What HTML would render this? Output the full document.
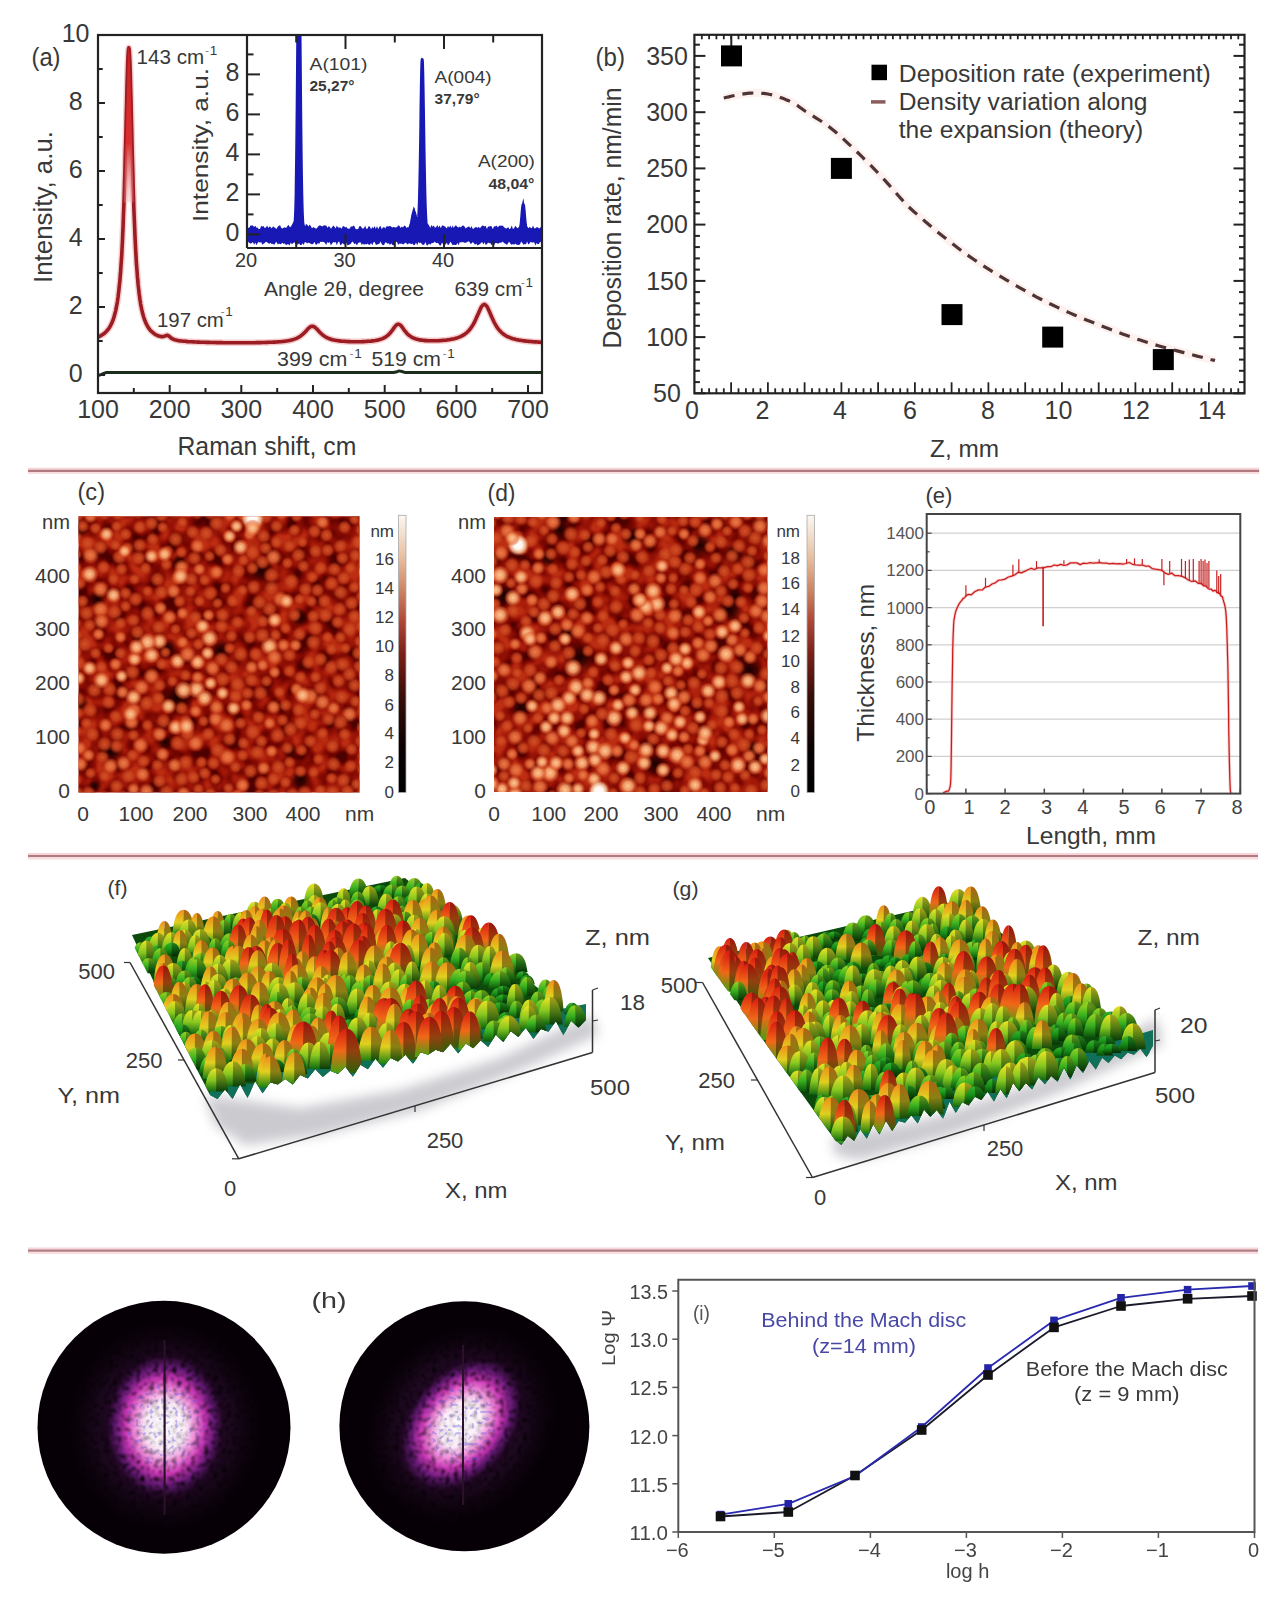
<!DOCTYPE html>
<html><head><meta charset="utf-8"><style>
html,body{margin:0;padding:0;background:#fff;width:1281px;height:1604px;overflow:hidden}
svg{display:block;font-family:"Liberation Sans",sans-serif}

</style></head><body>
<svg width="1281" height="1604" viewBox="0 0 1281 1604">
<rect width="1281" height="1604" fill="#fff"/>
<clipPath id="clipA"><rect x="98" y="35" width="444" height="358"/></clipPath>
<clipPath id="clipI"><rect x="247" y="36" width="295" height="212"/></clipPath>
<g clip-path="url(#clipA)">
<path d="M98.0,337.0 L99.4,336.4 L100.9,335.6 L102.3,334.8 L103.7,333.8 L105.2,332.6 L106.6,331.2 L108.0,329.5 L108.4,329.0 L108.8,328.5 L109.1,328.0 L109.5,327.4 L109.8,326.8 L110.2,326.2 L110.5,325.6 L110.9,324.9 L111.3,324.2 L111.6,323.4 L112.0,322.6 L112.3,321.7 L112.7,320.8 L113.1,319.9 L113.4,318.8 L113.8,317.7 L114.1,316.6 L114.5,315.3 L114.8,314.0 L115.2,312.6 L115.6,311.1 L115.9,309.5 L116.3,307.7 L116.6,305.9 L117.0,303.9 L117.4,301.7 L117.7,299.4 L118.1,296.8 L118.4,294.1 L118.8,291.1 L119.1,287.9 L119.5,284.4 L119.9,280.6 L120.2,276.5 L120.6,272.0 L120.9,267.0 L121.3,261.6 L121.7,255.7 L122.0,249.3 L122.4,242.2 L122.7,234.4 L123.1,226.0 L123.4,216.7 L123.8,206.6 L124.2,195.7 L124.5,183.9 L124.9,171.2 L125.2,157.8 L125.6,143.6 L126.0,129.0 L126.3,114.3 L126.7,99.7 L127.0,85.9 L127.4,73.4 L127.7,62.7 L128.1,54.6 L128.5,49.5 L128.8,47.8 L129.2,49.5 L129.5,54.6 L129.9,62.7 L130.3,73.4 L130.6,85.9 L131.0,99.7 L131.3,114.3 L131.7,129.0 L132.0,143.6 L132.4,157.7 L132.8,171.2 L133.1,183.9 L133.5,195.7 L133.8,206.6 L134.2,216.7 L134.6,225.9 L134.9,234.4 L135.3,242.2 L135.6,249.2 L136.0,255.7 L136.3,261.6 L136.7,267.0 L137.1,271.9 L137.4,276.4 L137.8,280.6 L138.1,284.4 L138.5,287.9 L138.9,291.1 L139.2,294.0 L139.6,296.8 L139.9,299.3 L140.3,301.6 L140.6,303.8 L141.0,305.8 L141.4,307.7 L141.7,309.4 L142.1,311.0 L142.4,312.5 L142.8,313.9 L143.2,315.3 L143.5,316.5 L143.9,317.6 L144.2,318.7 L144.6,319.8 L144.9,320.7 L145.3,321.6 L145.7,322.5 L146.0,323.3 L146.4,324.0 L146.7,324.7 L147.1,325.4 L147.5,326.1 L147.8,326.7 L148.2,327.3 L148.5,327.8 L148.9,328.3 L149.2,328.8 L149.6,329.3 L150.0,329.7 L150.3,330.2 L151.8,331.7 L153.2,332.9 L154.6,334.0 L156.1,334.8 L157.5,335.5 L158.9,336.1 L160.4,336.4 L161.8,336.6 L163.2,336.6 L164.7,336.2 L166.1,335.5 L167.5,335.3 L169.0,336.1 L170.4,337.4 L171.8,338.5 L173.3,339.2 L174.7,339.7 L176.1,340.1 L177.6,340.4 L179.0,340.7 L180.4,340.9 L181.9,341.0 L183.3,341.2 L184.7,341.3 L186.2,341.4 L187.6,341.6 L189.0,341.7 L190.5,341.7 L191.9,341.8 L193.3,341.9 L194.8,342.0 L196.2,342.0 L197.6,342.1 L199.1,342.1 L200.5,342.2 L201.9,342.2 L203.4,342.3 L204.8,342.3 L206.2,342.4 L207.7,342.4 L209.1,342.4 L210.5,342.5 L212.0,342.5 L213.4,342.5 L214.8,342.5 L216.3,342.6 L217.7,342.6 L219.1,342.6 L220.6,342.6 L222.0,342.6 L223.4,342.7 L224.9,342.7 L226.3,342.7 L227.7,342.7 L229.2,342.7 L230.6,342.7 L232.0,342.7 L233.5,342.7 L234.9,342.7 L236.3,342.7 L237.8,342.7 L239.2,342.7 L240.6,342.7 L242.1,342.7 L243.5,342.7 L244.9,342.7 L246.4,342.7 L247.8,342.7 L249.2,342.7 L250.7,342.7 L252.1,342.7 L253.5,342.7 L255.0,342.7 L256.4,342.6 L257.8,342.6 L259.3,342.6 L260.7,342.6 L262.1,342.5 L263.6,342.5 L265.0,342.5 L266.4,342.4 L267.9,342.4 L269.3,342.3 L270.7,342.3 L272.2,342.2 L273.6,342.1 L275.0,342.1 L276.5,342.0 L277.9,341.9 L279.3,341.8 L280.8,341.7 L282.2,341.5 L283.6,341.4 L285.1,341.2 L286.5,341.0 L287.9,340.8 L289.4,340.5 L290.8,340.2 L292.2,339.8 L293.7,339.4 L295.1,338.9 L296.5,338.3 L298.0,337.6 L299.4,336.8 L300.8,335.9 L302.3,334.7 L303.7,333.4 L305.1,332.0 L306.6,330.4 L308.0,328.8 L309.4,327.5 L310.9,326.5 L312.3,326.2 L313.7,326.5 L315.2,327.5 L316.6,328.8 L318.0,330.3 L319.5,331.9 L320.9,333.3 L322.3,334.6 L323.8,335.8 L325.2,336.7 L326.6,337.5 L328.1,338.2 L329.5,338.8 L330.9,339.2 L332.4,339.7 L333.8,340.0 L335.2,340.3 L336.7,340.5 L338.1,340.8 L339.5,340.9 L341.0,341.1 L342.4,341.2 L343.8,341.3 L345.3,341.4 L346.7,341.5 L348.1,341.6 L349.6,341.6 L351.0,341.7 L352.4,341.7 L353.9,341.7 L355.3,341.7 L356.7,341.7 L358.2,341.7 L359.6,341.7 L361.0,341.7 L362.5,341.6 L363.9,341.6 L365.3,341.5 L366.8,341.4 L368.2,341.3 L369.6,341.2 L371.1,341.1 L372.5,340.9 L373.9,340.7 L375.4,340.5 L376.8,340.2 L378.2,339.9 L379.7,339.6 L381.1,339.1 L382.5,338.6 L384.0,337.9 L385.4,337.1 L386.8,336.1 L388.3,334.9 L389.7,333.5 L391.1,331.8 L392.6,329.9 L394.0,327.9 L395.4,326.0 L396.9,324.6 L398.3,324.1 L399.7,324.6 L401.2,325.9 L402.6,327.8 L404.0,329.8 L405.5,331.7 L406.9,333.4 L408.3,334.8 L409.8,335.9 L411.2,336.9 L412.6,337.7 L414.1,338.3 L415.5,338.8 L416.9,339.2 L418.4,339.6 L419.8,339.9 L421.2,340.1 L422.7,340.3 L424.1,340.4 L425.5,340.6 L427.0,340.6 L428.4,340.7 L429.8,340.8 L431.3,340.8 L432.7,340.8 L434.1,340.8 L435.6,340.8 L437.0,340.7 L438.4,340.7 L439.9,340.6 L441.3,340.5 L442.7,340.4 L444.2,340.3 L445.6,340.2 L447.0,340.0 L448.5,339.8 L449.9,339.6 L451.3,339.3 L452.8,339.0 L454.2,338.7 L455.6,338.3 L457.1,337.9 L458.5,337.4 L459.9,336.9 L461.4,336.2 L462.8,335.4 L464.2,334.6 L465.7,333.5 L467.1,332.3 L468.5,330.9 L470.0,329.3 L471.4,327.3 L472.8,325.1 L474.3,322.5 L475.7,319.5 L477.1,316.3 L478.6,313.0 L480.0,309.7 L481.4,306.9 L482.9,305.0 L484.3,304.3 L485.7,305.0 L487.2,306.9 L488.6,309.7 L490.0,313.0 L491.5,316.4 L492.9,319.6 L494.3,322.6 L495.8,325.2 L497.2,327.5 L498.6,329.4 L500.1,331.1 L501.5,332.5 L502.9,333.7 L504.4,334.8 L505.8,335.7 L507.2,336.5 L508.7,337.1 L510.1,337.7 L511.5,338.3 L513.0,338.7 L514.4,339.1 L515.8,339.5 L517.3,339.8 L518.7,340.1 L520.1,340.3 L521.6,340.5 L523.0,340.8 L524.4,340.9 L525.9,341.1 L527.3,341.3 L528.7,341.4 L530.2,341.5 L531.6,341.6 L533.0,341.8 L534.5,341.9 L535.9,341.9 L537.3,342.0 L538.8,342.1 L540.2,342.2 L541.6,342.3" stroke="#f2b8b8" stroke-width="6.5" fill="none" stroke-linejoin="round" opacity="0.7"/>
<path d="M98.0,337.0 L99.4,336.4 L100.9,335.6 L102.3,334.8 L103.7,333.8 L105.2,332.6 L106.6,331.2 L108.0,329.5 L108.4,329.0 L108.8,328.5 L109.1,328.0 L109.5,327.4 L109.8,326.8 L110.2,326.2 L110.5,325.6 L110.9,324.9 L111.3,324.2 L111.6,323.4 L112.0,322.6 L112.3,321.7 L112.7,320.8 L113.1,319.9 L113.4,318.8 L113.8,317.7 L114.1,316.6 L114.5,315.3 L114.8,314.0 L115.2,312.6 L115.6,311.1 L115.9,309.5 L116.3,307.7 L116.6,305.9 L117.0,303.9 L117.4,301.7 L117.7,299.4 L118.1,296.8 L118.4,294.1 L118.8,291.1 L119.1,287.9 L119.5,284.4 L119.9,280.6 L120.2,276.5 L120.6,272.0 L120.9,267.0 L121.3,261.6 L121.7,255.7 L122.0,249.3 L122.4,242.2 L122.7,234.4 L123.1,226.0 L123.4,216.7 L123.8,206.6 L124.2,195.7 L124.5,183.9 L124.9,171.2 L125.2,157.8 L125.6,143.6 L126.0,129.0 L126.3,114.3 L126.7,99.7 L127.0,85.9 L127.4,73.4 L127.7,62.7 L128.1,54.6 L128.5,49.5 L128.8,47.8 L129.2,49.5 L129.5,54.6 L129.9,62.7 L130.3,73.4 L130.6,85.9 L131.0,99.7 L131.3,114.3 L131.7,129.0 L132.0,143.6 L132.4,157.7 L132.8,171.2 L133.1,183.9 L133.5,195.7 L133.8,206.6 L134.2,216.7 L134.6,225.9 L134.9,234.4 L135.3,242.2 L135.6,249.2 L136.0,255.7 L136.3,261.6 L136.7,267.0 L137.1,271.9 L137.4,276.4 L137.8,280.6 L138.1,284.4 L138.5,287.9 L138.9,291.1 L139.2,294.0 L139.6,296.8 L139.9,299.3 L140.3,301.6 L140.6,303.8 L141.0,305.8 L141.4,307.7 L141.7,309.4 L142.1,311.0 L142.4,312.5 L142.8,313.9 L143.2,315.3 L143.5,316.5 L143.9,317.6 L144.2,318.7 L144.6,319.8 L144.9,320.7 L145.3,321.6 L145.7,322.5 L146.0,323.3 L146.4,324.0 L146.7,324.7 L147.1,325.4 L147.5,326.1 L147.8,326.7 L148.2,327.3 L148.5,327.8 L148.9,328.3 L149.2,328.8 L149.6,329.3 L150.0,329.7 L150.3,330.2 L151.8,331.7 L153.2,332.9 L154.6,334.0 L156.1,334.8 L157.5,335.5 L158.9,336.1 L160.4,336.4 L161.8,336.6 L163.2,336.6 L164.7,336.2 L166.1,335.5 L167.5,335.3 L169.0,336.1 L170.4,337.4 L171.8,338.5 L173.3,339.2 L174.7,339.7 L176.1,340.1 L177.6,340.4 L179.0,340.7 L180.4,340.9 L181.9,341.0 L183.3,341.2 L184.7,341.3 L186.2,341.4 L187.6,341.6 L189.0,341.7 L190.5,341.7 L191.9,341.8 L193.3,341.9 L194.8,342.0 L196.2,342.0 L197.6,342.1 L199.1,342.1 L200.5,342.2 L201.9,342.2 L203.4,342.3 L204.8,342.3 L206.2,342.4 L207.7,342.4 L209.1,342.4 L210.5,342.5 L212.0,342.5 L213.4,342.5 L214.8,342.5 L216.3,342.6 L217.7,342.6 L219.1,342.6 L220.6,342.6 L222.0,342.6 L223.4,342.7 L224.9,342.7 L226.3,342.7 L227.7,342.7 L229.2,342.7 L230.6,342.7 L232.0,342.7 L233.5,342.7 L234.9,342.7 L236.3,342.7 L237.8,342.7 L239.2,342.7 L240.6,342.7 L242.1,342.7 L243.5,342.7 L244.9,342.7 L246.4,342.7 L247.8,342.7 L249.2,342.7 L250.7,342.7 L252.1,342.7 L253.5,342.7 L255.0,342.7 L256.4,342.6 L257.8,342.6 L259.3,342.6 L260.7,342.6 L262.1,342.5 L263.6,342.5 L265.0,342.5 L266.4,342.4 L267.9,342.4 L269.3,342.3 L270.7,342.3 L272.2,342.2 L273.6,342.1 L275.0,342.1 L276.5,342.0 L277.9,341.9 L279.3,341.8 L280.8,341.7 L282.2,341.5 L283.6,341.4 L285.1,341.2 L286.5,341.0 L287.9,340.8 L289.4,340.5 L290.8,340.2 L292.2,339.8 L293.7,339.4 L295.1,338.9 L296.5,338.3 L298.0,337.6 L299.4,336.8 L300.8,335.9 L302.3,334.7 L303.7,333.4 L305.1,332.0 L306.6,330.4 L308.0,328.8 L309.4,327.5 L310.9,326.5 L312.3,326.2 L313.7,326.5 L315.2,327.5 L316.6,328.8 L318.0,330.3 L319.5,331.9 L320.9,333.3 L322.3,334.6 L323.8,335.8 L325.2,336.7 L326.6,337.5 L328.1,338.2 L329.5,338.8 L330.9,339.2 L332.4,339.7 L333.8,340.0 L335.2,340.3 L336.7,340.5 L338.1,340.8 L339.5,340.9 L341.0,341.1 L342.4,341.2 L343.8,341.3 L345.3,341.4 L346.7,341.5 L348.1,341.6 L349.6,341.6 L351.0,341.7 L352.4,341.7 L353.9,341.7 L355.3,341.7 L356.7,341.7 L358.2,341.7 L359.6,341.7 L361.0,341.7 L362.5,341.6 L363.9,341.6 L365.3,341.5 L366.8,341.4 L368.2,341.3 L369.6,341.2 L371.1,341.1 L372.5,340.9 L373.9,340.7 L375.4,340.5 L376.8,340.2 L378.2,339.9 L379.7,339.6 L381.1,339.1 L382.5,338.6 L384.0,337.9 L385.4,337.1 L386.8,336.1 L388.3,334.9 L389.7,333.5 L391.1,331.8 L392.6,329.9 L394.0,327.9 L395.4,326.0 L396.9,324.6 L398.3,324.1 L399.7,324.6 L401.2,325.9 L402.6,327.8 L404.0,329.8 L405.5,331.7 L406.9,333.4 L408.3,334.8 L409.8,335.9 L411.2,336.9 L412.6,337.7 L414.1,338.3 L415.5,338.8 L416.9,339.2 L418.4,339.6 L419.8,339.9 L421.2,340.1 L422.7,340.3 L424.1,340.4 L425.5,340.6 L427.0,340.6 L428.4,340.7 L429.8,340.8 L431.3,340.8 L432.7,340.8 L434.1,340.8 L435.6,340.8 L437.0,340.7 L438.4,340.7 L439.9,340.6 L441.3,340.5 L442.7,340.4 L444.2,340.3 L445.6,340.2 L447.0,340.0 L448.5,339.8 L449.9,339.6 L451.3,339.3 L452.8,339.0 L454.2,338.7 L455.6,338.3 L457.1,337.9 L458.5,337.4 L459.9,336.9 L461.4,336.2 L462.8,335.4 L464.2,334.6 L465.7,333.5 L467.1,332.3 L468.5,330.9 L470.0,329.3 L471.4,327.3 L472.8,325.1 L474.3,322.5 L475.7,319.5 L477.1,316.3 L478.6,313.0 L480.0,309.7 L481.4,306.9 L482.9,305.0 L484.3,304.3 L485.7,305.0 L487.2,306.9 L488.6,309.7 L490.0,313.0 L491.5,316.4 L492.9,319.6 L494.3,322.6 L495.8,325.2 L497.2,327.5 L498.6,329.4 L500.1,331.1 L501.5,332.5 L502.9,333.7 L504.4,334.8 L505.8,335.7 L507.2,336.5 L508.7,337.1 L510.1,337.7 L511.5,338.3 L513.0,338.7 L514.4,339.1 L515.8,339.5 L517.3,339.8 L518.7,340.1 L520.1,340.3 L521.6,340.5 L523.0,340.8 L524.4,340.9 L525.9,341.1 L527.3,341.3 L528.7,341.4 L530.2,341.5 L531.6,341.6 L533.0,341.8 L534.5,341.9 L535.9,341.9 L537.3,342.0 L538.8,342.1 L540.2,342.2 L541.6,342.3" stroke="#9c1c24" stroke-width="3.6" fill="none" stroke-linejoin="round"/>
<linearGradient id="pkf" gradientUnits="userSpaceOnUse" x1="0" y1="48.6" x2="0" y2="205.0"><stop offset="0" stop-color="#d02020"/><stop offset="0.6" stop-color="#d83030"/><stop offset="1" stop-color="#f4b0b0" stop-opacity="0.3"/></linearGradient>
<path d="M123.9,202.4 L124.1,197.9 L124.2,193.4 L124.4,188.7 L124.5,183.9 L124.7,178.9 L124.8,173.8 L124.9,168.6 L125.1,163.2 L125.2,157.8 L125.4,152.2 L125.5,146.5 L125.7,140.7 L125.8,134.9 L126.0,129.0 L126.1,123.1 L126.2,117.2 L126.4,111.3 L126.5,105.5 L126.7,99.7 L126.8,94.1 L127.0,88.6 L127.1,83.3 L127.2,78.2 L127.4,73.4 L127.5,68.9 L127.7,64.7 L127.8,60.9 L128.0,57.5 L128.1,54.6 L128.2,52.2 L128.4,50.3 L128.5,48.9 L128.7,48.1 L128.8,47.8 L129.0,48.1 L129.1,48.9 L129.2,50.3 L129.4,52.2 L129.5,54.6 L129.7,57.5 L129.8,60.9 L130.0,64.7 L130.1,68.8 L130.3,73.4 L130.4,78.2 L130.5,83.3 L130.7,88.6 L130.8,94.1 L131.0,99.7 L131.1,105.5 L131.3,111.3 L131.4,117.2 L131.5,123.1 L131.7,129.0 L131.8,134.9 L132.0,140.7 L132.1,146.5 L132.3,152.2 L132.4,157.7 L132.5,163.2 L132.7,168.6 L132.8,173.8 L133.0,178.9 L133.1,183.9 L133.3,188.7 L133.4,193.4 L133.5,197.9 L133.7,202.3Z" fill="url(#pkf)"/>
<path d="M98.0,375.7 L100.9,374.6 L103.7,373.5 L106.6,372.4 L109.5,372.4 L112.3,372.4 L115.2,372.4 L118.1,372.4 L120.9,372.4 L123.8,372.4 L126.7,372.4 L129.5,372.4 L132.4,372.4 L135.3,372.4 L138.1,372.4 L141.0,372.4 L143.9,372.4 L146.7,372.4 L149.6,372.4 L152.5,372.4 L155.3,372.4 L158.2,372.4 L161.1,372.4 L163.9,372.4 L166.8,372.4 L169.7,372.4 L172.5,372.4 L175.4,372.4 L178.3,372.4 L181.1,372.4 L184.0,372.4 L186.9,372.4 L189.7,372.4 L192.6,372.4 L195.5,372.4 L198.3,372.4 L201.2,372.4 L204.1,372.4 L206.9,372.4 L209.8,372.4 L212.7,372.4 L215.5,372.4 L218.4,372.4 L221.3,372.4 L224.1,372.4 L227.0,372.4 L229.9,372.4 L232.7,372.4 L235.6,372.4 L238.5,372.4 L241.3,372.4 L244.2,372.4 L247.1,372.4 L249.9,372.4 L252.8,372.4 L255.7,372.4 L258.5,372.4 L261.4,372.4 L264.3,372.4 L267.1,372.4 L270.0,372.4 L272.9,372.4 L275.7,372.4 L278.6,372.4 L281.5,372.4 L284.3,372.4 L287.2,372.4 L290.1,372.4 L292.9,372.4 L295.8,372.4 L298.7,372.4 L301.5,372.4 L304.4,372.4 L307.3,372.4 L310.1,372.4 L313.0,372.4 L315.9,372.4 L318.7,372.4 L321.6,372.4 L324.5,372.4 L327.3,372.4 L330.2,372.4 L333.1,372.4 L335.9,372.4 L338.8,372.4 L341.7,372.4 L344.5,372.4 L347.4,372.4 L350.3,372.4 L353.1,372.4 L356.0,372.4 L358.9,372.4 L361.7,372.4 L364.6,372.4 L367.5,372.4 L370.3,372.4 L373.2,372.4 L376.1,372.4 L378.9,372.4 L381.8,372.4 L384.7,372.4 L387.5,372.4 L390.4,372.4 L393.3,372.4 L396.1,372.1 L399.0,370.9 L401.9,371.5 L404.7,372.4 L407.6,372.4 L410.5,372.4 L413.3,372.4 L416.2,372.4 L419.1,372.4 L421.9,372.4 L424.8,372.4 L427.7,372.4 L430.5,372.4 L433.4,372.4 L436.3,372.4 L439.1,372.4 L442.0,372.4 L444.9,372.4 L447.7,372.4 L450.6,372.4 L453.5,372.4 L456.4,372.4 L459.2,372.4 L462.1,372.4 L465.0,372.4 L467.8,372.4 L470.7,372.4 L473.6,372.4 L476.4,372.4 L479.3,372.4 L482.2,372.4 L485.0,372.4 L487.9,372.4 L490.8,372.4 L493.6,372.4 L496.5,372.4 L499.4,372.4 L502.2,372.4 L505.1,372.4 L508.0,372.4 L510.8,372.4 L513.7,372.4 L516.6,372.4 L519.4,372.4 L522.3,372.4 L525.2,372.4 L528.0,372.4 L530.9,372.4 L533.8,372.4 L536.6,372.4 L539.5,372.4 L542.4,372.4" stroke="#1b2e1b" stroke-width="3" fill="none" stroke-linejoin="round"/>
</g>
<rect x="247.0" y="35.0" width="295.0" height="213.0" fill="#fff"/>
<g clip-path="url(#clipI)">
<path d="M247.0,226.7 L248.2,228.0 L249.4,227.5 L250.5,225.6 L251.7,225.5 L252.9,225.6 L254.1,227.0 L255.3,225.8 L256.5,227.8 L257.6,227.6 L258.8,229.2 L260.0,228.8 L261.2,225.9 L262.4,226.6 L263.5,226.0 L264.7,227.9 L265.9,227.5 L267.1,225.5 L268.3,228.0 L269.5,226.5 L270.6,227.1 L271.8,228.4 L273.0,226.2 L274.2,227.3 L275.4,228.1 L276.6,229.1 L277.7,226.8 L278.9,225.7 L280.1,225.3 L281.3,228.1 L282.5,228.5 L283.6,227.7 L284.8,227.2 L286.0,228.1 L287.2,226.5 L288.4,224.7 L289.6,226.8 L290.7,227.1 L291.9,224.8 L293.1,222.5 L294.3,220.6 L295.5,207.4 L296.6,151.1 L297.8,26.8 L299.0,-53.4 L300.2,50.7 L301.4,168.3 L302.6,212.2 L303.7,222.0 L304.9,226.4 L306.1,224.1 L307.3,224.8 L308.5,226.6 L309.6,224.5 L310.8,226.1 L312.0,228.6 L313.2,226.9 L314.4,227.7 L315.6,228.6 L316.7,228.6 L317.9,226.7 L319.1,225.5 L320.3,225.4 L321.5,226.0 L322.6,226.6 L323.8,225.2 L325.0,225.6 L326.2,225.4 L327.4,227.7 L328.6,226.3 L329.7,226.7 L330.9,228.7 L332.1,227.2 L333.3,225.6 L334.5,226.7 L335.7,228.6 L336.8,225.4 L338.0,227.4 L339.2,227.5 L340.4,227.4 L341.6,228.8 L342.7,226.4 L343.9,226.0 L345.1,227.5 L346.3,226.7 L347.5,228.6 L348.7,228.8 L349.8,228.6 L351.0,226.3 L352.2,226.8 L353.4,225.5 L354.6,226.4 L355.7,229.2 L356.9,229.1 L358.1,229.2 L359.3,226.2 L360.5,226.1 L361.7,227.8 L362.8,228.7 L364.0,228.0 L365.2,225.7 L366.4,229.0 L367.6,228.4 L368.7,226.1 L369.9,226.7 L371.1,229.2 L372.3,227.0 L373.5,228.2 L374.7,225.9 L375.8,229.0 L377.0,225.9 L378.2,229.3 L379.4,226.7 L380.6,225.9 L381.7,229.2 L382.9,227.4 L384.1,227.1 L385.3,228.6 L386.5,226.3 L387.7,226.3 L388.8,226.4 L390.0,225.8 L391.2,226.7 L392.4,227.6 L393.6,227.0 L394.8,227.3 L395.9,227.4 L397.1,227.0 L398.3,225.3 L399.5,225.9 L400.7,228.1 L401.8,226.5 L403.0,227.4 L404.2,225.6 L405.4,226.1 L406.6,228.1 L407.8,227.0 L408.9,227.5 L410.1,223.6 L411.3,217.9 L412.5,210.8 L413.7,206.4 L414.8,208.5 L416.0,214.9 L417.2,218.1 L418.4,215.9 L419.6,185.9 L420.8,120.3 L421.9,55.5 L423.1,84.8 L424.3,157.9 L425.5,207.1 L426.7,223.2 L427.8,223.7 L429.0,225.3 L430.2,228.1 L431.4,225.1 L432.6,226.7 L433.8,225.6 L434.9,227.8 L436.1,227.2 L437.3,225.1 L438.5,227.6 L439.7,225.4 L440.8,228.3 L442.0,225.6 L443.2,225.4 L444.4,226.3 L445.6,226.9 L446.8,228.5 L447.9,225.9 L449.1,227.6 L450.3,225.6 L451.5,228.1 L452.7,225.6 L453.8,227.9 L455.0,225.7 L456.2,225.6 L457.4,227.1 L458.6,227.5 L459.8,226.4 L460.9,227.4 L462.1,225.8 L463.3,225.5 L464.5,226.6 L465.7,228.4 L466.9,227.4 L468.0,226.7 L469.2,226.4 L470.4,228.3 L471.6,226.1 L472.8,229.1 L473.9,228.6 L475.1,227.3 L476.3,226.9 L477.5,228.1 L478.7,226.7 L479.9,228.2 L481.0,227.0 L482.2,225.6 L483.4,225.7 L484.6,226.4 L485.8,225.7 L486.9,228.9 L488.1,226.5 L489.3,226.5 L490.5,226.0 L491.7,226.4 L492.9,229.3 L494.0,226.3 L495.2,226.6 L496.4,225.4 L497.6,227.3 L498.8,226.2 L499.9,225.4 L501.1,225.7 L502.3,225.5 L503.5,226.6 L504.7,227.7 L505.9,228.4 L507.0,228.2 L508.2,226.9 L509.4,229.3 L510.6,228.2 L511.8,225.5 L512.9,228.9 L514.1,228.2 L515.3,225.8 L516.5,227.2 L517.7,228.3 L518.9,227.0 L520.0,225.4 L521.2,215.9 L522.4,201.8 L523.6,198.2 L524.8,212.9 L526.0,223.5 L527.1,226.3 L528.3,228.2 L529.5,227.1 L530.7,227.8 L531.9,228.2 L533.0,225.6 L534.2,228.2 L535.4,228.3 L536.6,227.3 L537.8,227.3 L539.0,228.4 L540.1,227.9 L541.3,225.9 L542.5,228.3 L542.5,242.7 L541.3,242.5 L540.1,241.8 L539.0,244.0 L537.8,244.2 L536.6,243.0 L535.4,245.4 L534.2,242.3 L533.0,242.6 L531.9,242.5 L530.7,241.8 L529.5,243.6 L528.3,244.5 L527.1,241.5 L526.0,244.2 L524.8,244.0 L523.6,244.8 L522.4,242.9 L521.2,241.6 L520.0,244.3 L518.9,245.1 L517.7,244.8 L516.5,244.8 L515.3,243.6 L514.1,244.7 L512.9,244.0 L511.8,244.8 L510.6,244.1 L509.4,242.1 L508.2,242.8 L507.0,245.0 L505.9,244.1 L504.7,243.6 L503.5,242.4 L502.3,241.6 L501.1,243.1 L499.9,242.6 L498.8,243.5 L497.6,243.5 L496.4,243.0 L495.2,242.9 L494.0,245.4 L492.9,243.7 L491.7,245.3 L490.5,243.3 L489.3,243.3 L488.1,242.5 L486.9,244.2 L485.8,244.9 L484.6,242.2 L483.4,244.5 L482.2,242.0 L481.0,242.9 L479.9,244.0 L478.7,244.8 L477.5,245.4 L476.3,243.5 L475.1,244.8 L473.9,243.2 L472.8,241.9 L471.6,243.4 L470.4,243.7 L469.2,241.6 L468.0,241.6 L466.9,242.2 L465.7,242.7 L464.5,242.7 L463.3,242.3 L462.1,242.1 L460.9,242.5 L459.8,242.0 L458.6,245.2 L457.4,242.9 L456.2,245.0 L455.0,244.9 L453.8,244.7 L452.7,245.3 L451.5,243.2 L450.3,241.7 L449.1,244.3 L447.9,245.2 L446.8,242.5 L445.6,245.1 L444.4,242.0 L443.2,244.6 L442.0,242.6 L440.8,245.4 L439.7,245.4 L438.5,243.5 L437.3,242.8 L436.1,243.3 L434.9,241.6 L433.8,242.8 L432.6,242.9 L431.4,243.2 L430.2,244.8 L429.0,243.4 L427.8,245.3 L426.7,245.4 L425.5,242.1 L424.3,244.4 L423.1,245.1 L421.9,244.2 L420.8,242.5 L419.6,243.3 L418.4,242.0 L417.2,245.3 L416.0,242.5 L414.8,245.0 L413.7,245.3 L412.5,243.6 L411.3,244.3 L410.1,243.5 L408.9,243.3 L407.8,244.5 L406.6,243.5 L405.4,242.6 L404.2,243.7 L403.0,244.6 L401.8,243.6 L400.7,243.7 L399.5,243.4 L398.3,244.7 L397.1,242.2 L395.9,241.6 L394.8,243.6 L393.6,245.2 L392.4,245.1 L391.2,243.3 L390.0,245.1 L388.8,243.2 L387.7,243.8 L386.5,242.7 L385.3,242.3 L384.1,245.0 L382.9,245.2 L381.7,244.1 L380.6,241.6 L379.4,243.7 L378.2,244.1 L377.0,244.8 L375.8,244.7 L374.7,242.1 L373.5,242.2 L372.3,245.3 L371.1,243.1 L369.9,244.7 L368.7,244.7 L367.6,243.4 L366.4,244.6 L365.2,244.1 L364.0,244.7 L362.8,243.4 L361.7,245.1 L360.5,242.3 L359.3,242.4 L358.1,243.0 L356.9,245.5 L355.7,243.3 L354.6,244.3 L353.4,242.6 L352.2,241.6 L351.0,243.6 L349.8,244.5 L348.7,244.7 L347.5,245.4 L346.3,242.4 L345.1,244.6 L343.9,244.6 L342.7,243.0 L341.6,244.3 L340.4,245.4 L339.2,241.6 L338.0,242.1 L336.8,245.3 L335.7,242.1 L334.5,242.6 L333.3,241.9 L332.1,243.4 L330.9,245.5 L329.7,242.0 L328.6,242.9 L327.4,242.1 L326.2,245.0 L325.0,243.0 L323.8,242.1 L322.6,241.7 L321.5,242.1 L320.3,241.8 L319.1,244.0 L317.9,243.1 L316.7,244.7 L315.6,244.6 L314.4,241.7 L313.2,244.0 L312.0,244.3 L310.8,243.8 L309.6,243.2 L308.5,242.6 L307.3,243.4 L306.1,242.4 L304.9,242.1 L303.7,245.0 L302.6,243.2 L301.4,245.0 L300.2,245.0 L299.0,243.3 L297.8,245.0 L296.6,242.5 L295.5,244.6 L294.3,242.0 L293.1,243.3 L291.9,244.2 L290.7,242.6 L289.6,245.5 L288.4,244.3 L287.2,244.2 L286.0,245.3 L284.8,243.3 L283.6,243.9 L282.5,242.8 L281.3,243.8 L280.1,244.2 L278.9,243.5 L277.7,244.5 L276.6,242.0 L275.4,242.7 L274.2,245.0 L273.0,243.8 L271.8,244.3 L270.6,242.7 L269.5,243.8 L268.3,243.2 L267.1,242.3 L265.9,241.8 L264.7,243.0 L263.5,243.8 L262.4,244.8 L261.2,242.0 L260.0,242.7 L258.8,241.7 L257.6,243.1 L256.5,245.3 L255.3,242.4 L254.1,244.8 L252.9,241.9 L251.7,243.2 L250.5,243.5 L249.4,243.0 L248.2,241.8 L247.0,242.1Z" fill="#1818b4"/>
<path d="M247.0,233.4 L250.0,233.4 L252.9,233.3 L255.9,233.3 L258.8,233.3 L261.8,233.3 L264.7,233.3 L267.7,233.3 L270.6,233.3 L273.6,233.2 L276.6,233.2 L279.5,233.1 L282.5,233.0 L285.4,232.8 L288.4,232.5 L288.7,232.4 L289.0,232.3 L289.3,232.3 L289.6,232.2 L289.8,232.1 L290.1,232.0 L290.4,231.9 L290.7,231.8 L291.0,231.7 L291.3,231.6 L291.6,231.5 L291.9,231.3 L292.2,231.1 L292.5,230.9 L292.8,230.7 L293.1,230.4 L293.4,230.0 L293.7,229.5 L294.0,228.9 L294.3,227.9 L294.6,226.5 L294.9,224.2 L295.2,220.6 L295.5,215.2 L295.8,207.1 L296.1,195.4 L296.3,179.5 L296.6,158.6 L296.9,132.6 L297.2,102.0 L297.5,68.2 L297.8,33.2 L298.1,0.3 L298.4,-26.7 L298.7,-43.3 L299.0,-45.8 L299.3,-33.6 L299.6,-9.6 L299.9,21.9 L300.2,56.5 L300.5,91.0 L300.8,122.8 L301.1,150.5 L301.4,173.1 L301.7,190.6 L302.0,203.6 L302.3,212.8 L302.6,219.1 L302.8,223.2 L303.1,225.8 L303.4,227.5 L303.7,228.6 L304.0,229.3 L304.3,229.9 L304.6,230.3 L304.9,230.6 L305.2,230.8 L305.5,231.0 L305.8,231.2 L306.1,231.4 L306.4,231.6 L306.7,231.7 L307.0,231.8 L307.3,231.9 L307.6,232.0 L307.9,232.1 L308.2,232.2 L308.5,232.3 L308.8,232.3 L309.1,232.4 L309.4,232.4 L309.6,232.5 L309.9,232.5 L310.2,232.6 L310.5,232.6 L310.8,232.7 L313.8,232.9 L316.7,233.1 L319.7,233.1 L322.6,233.2 L325.6,233.2 L328.6,233.3 L331.5,233.3 L334.5,233.3 L337.4,233.3 L340.4,233.3 L343.3,233.3 L346.3,233.3 L349.2,233.3 L352.2,233.3 L355.2,233.3 L358.1,233.3 L361.1,233.4 L364.0,233.4 L367.0,233.4 L369.9,233.3 L372.9,233.3 L375.8,233.3 L378.8,233.3 L381.7,233.3 L384.7,233.3 L387.7,233.3 L390.6,233.3 L393.6,233.3 L396.5,233.3 L399.5,233.2 L402.4,233.2 L405.4,233.1 L408.3,232.4 L411.3,223.8 L411.6,222.2 L411.9,220.4 L412.2,218.7 L412.5,217.0 L412.8,215.5 L413.1,214.2 L413.4,213.2 L413.7,212.5 L414.0,212.3 L414.3,212.4 L414.5,212.9 L414.8,213.7 L415.1,214.8 L415.4,216.2 L415.7,217.6 L416.0,219.1 L416.3,220.6 L416.6,222.0 L416.9,223.1 L417.2,223.9 L417.5,224.2 L417.8,223.9 L418.1,222.8 L418.4,220.6 L418.7,216.9 L419.0,211.4 L419.3,203.7 L419.6,193.4 L419.9,180.5 L420.2,165.0 L420.5,147.3 L420.8,128.0 L421.0,108.3 L421.3,89.7 L421.6,73.9 L421.9,63.2 L422.2,59.4 L422.5,63.2 L422.8,74.0 L423.1,89.7 L423.4,108.4 L423.7,128.1 L424.0,147.4 L424.3,165.3 L424.6,180.9 L424.9,194.0 L425.2,204.5 L425.5,212.5 L425.8,218.4 L426.1,222.7 L426.4,225.6 L426.7,227.6 L427.0,229.0 L427.3,229.8 L427.6,230.4 L427.8,230.9 L428.1,231.2 L428.4,231.4 L428.7,231.6 L429.0,231.7 L429.3,231.9 L429.6,232.0 L429.9,232.1 L430.2,232.2 L430.5,232.3 L430.8,232.3 L431.1,232.4 L431.4,232.5 L431.7,232.5 L432.0,232.6 L432.3,232.6 L432.6,232.7 L432.9,232.7 L433.2,232.7 L433.5,232.8 L433.8,232.8 L434.1,232.8 L437.0,233.0 L440.0,233.1 L442.9,233.2 L445.9,233.3 L448.8,233.3 L451.8,233.3 L454.7,233.3 L457.7,233.3 L460.6,233.3 L463.6,233.3 L466.6,233.4 L469.5,233.4 L472.5,233.4 L475.4,233.4 L478.4,233.4 L481.3,233.4 L484.3,233.4 L487.2,233.4 L490.2,233.4 L493.2,233.4 L496.1,233.4 L499.1,233.4 L502.0,233.4 L505.0,233.4 L507.9,233.3 L510.9,233.3 L513.8,233.3 L514.1,233.3 L514.4,233.2 L514.7,233.2 L515.0,233.2 L515.3,233.2 L515.6,233.2 L515.9,233.2 L516.2,233.2 L516.5,233.2 L516.8,233.1 L517.1,233.1 L517.4,233.1 L517.7,233.0 L518.0,233.0 L518.3,232.9 L518.6,232.8 L518.9,232.7 L519.2,232.4 L519.5,232.1 L519.7,231.5 L520.0,230.7 L520.3,229.5 L520.6,227.8 L520.9,225.6 L521.2,222.9 L521.5,219.8 L521.8,216.3 L522.1,212.7 L522.4,209.2 L522.7,206.5 L523.0,204.7 L523.3,204.5 L523.6,205.7 L523.9,208.2 L524.2,211.5 L524.5,215.1 L524.8,218.6 L525.1,221.9 L525.4,224.8 L525.7,227.1 L526.0,229.0 L526.2,230.3 L526.5,231.3 L526.8,231.9 L527.1,232.3 L527.4,232.6 L527.7,232.8 L528.0,232.9 L528.3,233.0 L528.6,233.0 L528.9,233.1 L529.2,233.1 L529.5,233.1 L529.8,233.1 L530.1,233.2 L530.4,233.2 L530.7,233.2 L531.0,233.2 L531.3,233.2 L531.6,233.2 L531.9,233.2 L532.2,233.3 L532.5,233.3 L532.7,233.3 L533.0,233.3 L533.3,233.3 L533.6,233.3 L533.9,233.3 L534.2,233.3 L534.5,233.3 L534.8,233.3 L535.1,233.3 L538.1,233.3 L541.0,233.4" stroke="#1818b4" stroke-width="3.0" fill="none" stroke-linejoin="round"/>
</g>
<rect x="98.0" y="35.0" width="444.0" height="358.0" fill="none" stroke="#222" stroke-width="2.2"/>
<line x1="247.0" y1="35.0" x2="247.0" y2="248.0" stroke="#222" stroke-width="2.2"/>
<line x1="247.0" y1="248.0" x2="542.0" y2="248.0" stroke="#222" stroke-width="2.2"/>
<line x1="98.0" y1="375.0" x2="105.0" y2="375.0" stroke="#222" stroke-width="2"/>
<line x1="98.0" y1="341.0" x2="102.7" y2="341.0" stroke="#222" stroke-width="2"/>
<line x1="98.0" y1="307.0" x2="105.0" y2="307.0" stroke="#222" stroke-width="2"/>
<line x1="98.0" y1="273.0" x2="102.7" y2="273.0" stroke="#222" stroke-width="2"/>
<line x1="98.0" y1="239.0" x2="105.0" y2="239.0" stroke="#222" stroke-width="2"/>
<line x1="98.0" y1="205.0" x2="102.7" y2="205.0" stroke="#222" stroke-width="2"/>
<line x1="98.0" y1="171.0" x2="105.0" y2="171.0" stroke="#222" stroke-width="2"/>
<line x1="98.0" y1="137.0" x2="102.7" y2="137.0" stroke="#222" stroke-width="2"/>
<line x1="98.0" y1="103.0" x2="105.0" y2="103.0" stroke="#222" stroke-width="2"/>
<line x1="98.0" y1="69.0" x2="102.7" y2="69.0" stroke="#222" stroke-width="2"/>
<line x1="98.0" y1="35.0" x2="105.0" y2="35.0" stroke="#222" stroke-width="2"/>
<line x1="98.0" y1="393.0" x2="98.0" y2="385.0" stroke="#222" stroke-width="2"/>
<line x1="133.8" y1="393.0" x2="133.8" y2="388.0" stroke="#222" stroke-width="2"/>
<line x1="169.7" y1="393.0" x2="169.7" y2="385.0" stroke="#222" stroke-width="2"/>
<line x1="205.5" y1="393.0" x2="205.5" y2="388.0" stroke="#222" stroke-width="2"/>
<line x1="241.3" y1="393.0" x2="241.3" y2="385.0" stroke="#222" stroke-width="2"/>
<line x1="277.2" y1="393.0" x2="277.2" y2="388.0" stroke="#222" stroke-width="2"/>
<line x1="313.0" y1="393.0" x2="313.0" y2="385.0" stroke="#222" stroke-width="2"/>
<line x1="348.8" y1="393.0" x2="348.8" y2="388.0" stroke="#222" stroke-width="2"/>
<line x1="384.7" y1="393.0" x2="384.7" y2="385.0" stroke="#222" stroke-width="2"/>
<line x1="420.5" y1="393.0" x2="420.5" y2="388.0" stroke="#222" stroke-width="2"/>
<line x1="456.4" y1="393.0" x2="456.4" y2="385.0" stroke="#222" stroke-width="2"/>
<line x1="492.2" y1="393.0" x2="492.2" y2="388.0" stroke="#222" stroke-width="2"/>
<line x1="528.0" y1="393.0" x2="528.0" y2="385.0" stroke="#222" stroke-width="2"/>
<line x1="247.0" y1="234.4" x2="260.0" y2="234.4" stroke="#222" stroke-width="2"/>
<line x1="247.0" y1="214.4" x2="253.5" y2="214.4" stroke="#222" stroke-width="2"/>
<line x1="247.0" y1="194.4" x2="260.0" y2="194.4" stroke="#222" stroke-width="2"/>
<line x1="247.0" y1="174.4" x2="253.5" y2="174.4" stroke="#222" stroke-width="2"/>
<line x1="247.0" y1="154.4" x2="260.0" y2="154.4" stroke="#222" stroke-width="2"/>
<line x1="247.0" y1="134.4" x2="253.5" y2="134.4" stroke="#222" stroke-width="2"/>
<line x1="247.0" y1="114.4" x2="260.0" y2="114.4" stroke="#222" stroke-width="2"/>
<line x1="247.0" y1="94.4" x2="253.5" y2="94.4" stroke="#222" stroke-width="2"/>
<line x1="247.0" y1="74.4" x2="260.0" y2="74.4" stroke="#222" stroke-width="2"/>
<line x1="247.0" y1="54.4" x2="253.5" y2="54.4" stroke="#222" stroke-width="2"/>
<line x1="296.2" y1="35.0" x2="296.2" y2="42.5" stroke="#222" stroke-width="2"/>
<line x1="296.2" y1="248.0" x2="296.2" y2="240.5" stroke="#222" stroke-width="2"/>
<line x1="345.5" y1="35.0" x2="345.5" y2="49.0" stroke="#222" stroke-width="2"/>
<line x1="345.5" y1="248.0" x2="345.5" y2="234.0" stroke="#222" stroke-width="2"/>
<line x1="394.8" y1="35.0" x2="394.8" y2="42.5" stroke="#222" stroke-width="2"/>
<line x1="394.8" y1="248.0" x2="394.8" y2="240.5" stroke="#222" stroke-width="2"/>
<line x1="444.0" y1="35.0" x2="444.0" y2="49.0" stroke="#222" stroke-width="2"/>
<line x1="444.0" y1="248.0" x2="444.0" y2="234.0" stroke="#222" stroke-width="2"/>
<line x1="493.2" y1="35.0" x2="493.2" y2="42.5" stroke="#222" stroke-width="2"/>
<line x1="493.2" y1="248.0" x2="493.2" y2="240.5" stroke="#222" stroke-width="2"/>
<text x="75.6" y="381.8" font-size="25" text-anchor="middle" fill="#383838">0</text>
<text x="75.6" y="313.8" font-size="25" text-anchor="middle" fill="#383838">2</text>
<text x="75.6" y="245.8" font-size="25" text-anchor="middle" fill="#383838">4</text>
<text x="75.6" y="177.8" font-size="25" text-anchor="middle" fill="#383838">6</text>
<text x="75.6" y="109.8" font-size="25" text-anchor="middle" fill="#383838">8</text>
<text x="75.6" y="41.8" font-size="25" text-anchor="middle" fill="#383838">10</text>
<text x="98.0" y="418.0" font-size="25" text-anchor="middle" fill="#383838">100</text>
<text x="169.7" y="418.0" font-size="25" text-anchor="middle" fill="#383838">200</text>
<text x="241.3" y="418.0" font-size="25" text-anchor="middle" fill="#383838">300</text>
<text x="313.0" y="418.0" font-size="25" text-anchor="middle" fill="#383838">400</text>
<text x="384.7" y="418.0" font-size="25" text-anchor="middle" fill="#383838">500</text>
<text x="456.4" y="418.0" font-size="25" text-anchor="middle" fill="#383838">600</text>
<text x="528.0" y="418.0" font-size="25" text-anchor="middle" fill="#383838">700</text>
<text x="177.5" y="455.0" font-size="25" textLength="178.8" lengthAdjust="spacingAndGlyphs" fill="#383838">Raman shift, cm</text>
<text x="31.5" y="66.0" font-size="25" textLength="29" lengthAdjust="spacingAndGlyphs" fill="#383838">(a)</text>
<text x="232.5" y="241.2" font-size="25" text-anchor="middle" fill="#383838">0</text>
<text x="232.5" y="201.2" font-size="25" text-anchor="middle" fill="#383838">2</text>
<text x="232.5" y="161.2" font-size="25" text-anchor="middle" fill="#383838">4</text>
<text x="232.5" y="121.2" font-size="25" text-anchor="middle" fill="#383838">6</text>
<text x="232.5" y="81.2" font-size="25" text-anchor="middle" fill="#383838">8</text>
<text x="246.0" y="267.0" font-size="20" text-anchor="middle" fill="#383838">20</text>
<text x="344.5" y="267.0" font-size="20" text-anchor="middle" fill="#383838">30</text>
<text x="443.0" y="267.0" font-size="20" text-anchor="middle" fill="#383838">40</text>
<text x="264.0" y="296.0" font-size="21" textLength="160" lengthAdjust="spacingAndGlyphs" fill="#383838">Angle 2θ, degree</text>
<text x="52.0" y="207.0" font-size="25" text-anchor="middle" textLength="152" lengthAdjust="spacingAndGlyphs" fill="#383838" transform="rotate(-90 52.0 207.0)">Intensity, a.u.</text>
<text x="208.0" y="145.0" font-size="22" text-anchor="middle" textLength="154" lengthAdjust="spacingAndGlyphs" fill="#383838" transform="rotate(-90 208.0 145.0)">Intensity, a.u.</text>
<text x="136.6" y="64.3" font-size="21" textLength="67.6" lengthAdjust="spacingAndGlyphs" fill="#383838">143 cm</text>
<text x="205.3" y="54.3" font-size="11" fill="#777">-</text>
<text x="209.8" y="55.3" font-size="13.5" fill="#383838">1</text>
<text x="157.0" y="326.9" font-size="21" textLength="66.8" lengthAdjust="spacingAndGlyphs" fill="#383838">197 cm</text>
<text x="220.7" y="314.5" font-size="11" fill="#777">-</text>
<text x="225.2" y="315.5" font-size="13.5" fill="#383838">1</text>
<text x="277.0" y="365.8" font-size="21" textLength="70.3" lengthAdjust="spacingAndGlyphs" fill="#383838">399 cm</text>
<text x="349.7" y="356.5" font-size="11" fill="#777">-</text>
<text x="354.2" y="357.5" font-size="13.5" fill="#383838">1</text>
<text x="371.5" y="365.8" font-size="21" textLength="69.5" lengthAdjust="spacingAndGlyphs" fill="#383838">519 cm</text>
<text x="442.7" y="356.5" font-size="11" fill="#777">-</text>
<text x="447.2" y="357.5" font-size="13.5" fill="#383838">1</text>
<text x="454.5" y="296.0" font-size="21" textLength="67.9" lengthAdjust="spacingAndGlyphs" fill="#383838">639 cm</text>
<text x="521.0" y="286.0" font-size="11" fill="#777">-</text>
<text x="525.5" y="287.0" font-size="13.5" fill="#383838">1</text>
<text x="309.5" y="70.0" font-size="17" textLength="58" lengthAdjust="spacingAndGlyphs" fill="#383838">A(101)</text>
<text x="309.5" y="90.6" font-size="14.5" textLength="45" lengthAdjust="spacingAndGlyphs" fill="#383838" font-weight="bold">25,27°</text>
<text x="434.6" y="83.1" font-size="17" textLength="57" lengthAdjust="spacingAndGlyphs" fill="#383838">A(004)</text>
<text x="434.6" y="104.2" font-size="14.5" textLength="45" lengthAdjust="spacingAndGlyphs" fill="#383838" font-weight="bold">37,79°</text>
<text x="477.9" y="167.4" font-size="17" textLength="57" lengthAdjust="spacingAndGlyphs" fill="#383838">A(200)</text>
<text x="488.4" y="188.5" font-size="14.5" textLength="46" lengthAdjust="spacingAndGlyphs" fill="#383838" font-weight="bold">48,04°</text>
<path d="M723.8,98.0 L725.0,97.7 L726.7,97.3 L728.7,96.9 L730.9,96.3 L733.3,95.8 L735.6,95.3 L737.9,94.9 L740.0,94.5 L741.9,94.2 L743.8,93.9 L745.6,93.6 L747.4,93.4 L749.2,93.2 L751.1,93.1 L753.0,93.0 L755.0,93.0 L757.1,93.0 L759.1,93.1 L761.3,93.3 L763.4,93.4 L765.6,93.7 L767.9,94.0 L770.2,94.5 L772.5,95.0 L774.9,95.7 L777.5,96.5 L780.1,97.4 L782.8,98.3 L785.4,99.4 L788.0,100.4 L790.3,101.5 L792.5,102.5 L794.3,103.5 L795.9,104.4 L797.2,105.3 L798.4,106.2 L799.7,107.2 L801.2,108.3 L802.9,109.5 L805.0,111.0 L807.5,112.6 L810.4,114.4 L813.5,116.3 L816.7,118.4 L820.1,120.5 L823.5,122.8 L826.8,125.1 L830.0,127.5 L833.1,130.0 L836.2,132.6 L839.4,135.4 L842.5,138.2 L845.6,141.1 L848.8,144.1 L851.9,147.0 L855.0,150.0 L858.2,153.0 L861.4,156.1 L864.6,159.3 L867.8,162.5 L871.0,165.7 L874.1,168.9 L877.1,172.0 L880.0,175.0 L882.8,178.0 L885.6,181.1 L888.3,184.1 L890.9,187.1 L893.4,190.0 L895.8,192.7 L898.0,195.2 L900.0,197.5 L901.7,199.4 L902.9,200.8 L903.9,201.9 L904.8,203.0 L905.8,204.0 L907.0,205.3 L908.7,206.9 L911.0,209.0 L914.0,211.7 L917.5,214.7 L921.4,218.1 L925.5,221.8 L929.9,225.5 L934.2,229.1 L938.5,232.7 L942.6,236.0 L946.5,239.1 L950.3,242.1 L954.1,245.1 L957.9,248.0 L961.7,250.8 L965.6,253.7 L969.7,256.6 L973.9,259.5 L978.3,262.4 L982.8,265.4 L987.4,268.4 L992.1,271.4 L996.9,274.3 L1001.7,277.2 L1006.6,280.1 L1011.5,283.0 L1016.4,285.8 L1021.3,288.6 L1026.2,291.4 L1031.2,294.1 L1036.2,296.8 L1041.4,299.5 L1046.6,302.2 L1052.0,304.8 L1057.6,307.4 L1063.3,310.0 L1069.1,312.6 L1075.1,315.2 L1081.1,317.7 L1087.1,320.2 L1093.1,322.6 L1099.0,325.0 L1104.9,327.3 L1110.8,329.6 L1116.6,331.8 L1122.5,333.9 L1128.4,336.1 L1134.2,338.1 L1140.1,340.1 L1146.0,342.0 L1152.0,343.9 L1158.3,345.7 L1164.7,347.5 L1171.1,349.2 L1177.2,350.9 L1183.0,352.4 L1188.3,353.8 L1193.0,355.0 L1197.1,356.1 L1200.8,357.0 L1204.0,357.9 L1206.9,358.6 L1209.5,359.2 L1211.6,359.7 L1213.5,360.1 L1215.0,360.5" stroke="#fbe3dc" stroke-width="8" fill="none" stroke-linejoin="round" opacity="0.45"/>
<path d="M723.8,98.0 L725.0,97.7 L726.7,97.3 L728.7,96.9 L730.9,96.3 L733.3,95.8 L735.6,95.3 L737.9,94.9 L740.0,94.5 L741.9,94.2 L743.8,93.9 L745.6,93.6 L747.4,93.4 L749.2,93.2 L751.1,93.1 L753.0,93.0 L755.0,93.0 L757.1,93.0 L759.1,93.1 L761.3,93.3 L763.4,93.4 L765.6,93.7 L767.9,94.0 L770.2,94.5 L772.5,95.0 L774.9,95.7 L777.5,96.5 L780.1,97.4 L782.8,98.3 L785.4,99.4 L788.0,100.4 L790.3,101.5 L792.5,102.5 L794.3,103.5 L795.9,104.4 L797.2,105.3 L798.4,106.2 L799.7,107.2 L801.2,108.3 L802.9,109.5 L805.0,111.0 L807.5,112.6 L810.4,114.4 L813.5,116.3 L816.7,118.4 L820.1,120.5 L823.5,122.8 L826.8,125.1 L830.0,127.5 L833.1,130.0 L836.2,132.6 L839.4,135.4 L842.5,138.2 L845.6,141.1 L848.8,144.1 L851.9,147.0 L855.0,150.0 L858.2,153.0 L861.4,156.1 L864.6,159.3 L867.8,162.5 L871.0,165.7 L874.1,168.9 L877.1,172.0 L880.0,175.0 L882.8,178.0 L885.6,181.1 L888.3,184.1 L890.9,187.1 L893.4,190.0 L895.8,192.7 L898.0,195.2 L900.0,197.5 L901.7,199.4 L902.9,200.8 L903.9,201.9 L904.8,203.0 L905.8,204.0 L907.0,205.3 L908.7,206.9 L911.0,209.0 L914.0,211.7 L917.5,214.7 L921.4,218.1 L925.5,221.8 L929.9,225.5 L934.2,229.1 L938.5,232.7 L942.6,236.0 L946.5,239.1 L950.3,242.1 L954.1,245.1 L957.9,248.0 L961.7,250.8 L965.6,253.7 L969.7,256.6 L973.9,259.5 L978.3,262.4 L982.8,265.4 L987.4,268.4 L992.1,271.4 L996.9,274.3 L1001.7,277.2 L1006.6,280.1 L1011.5,283.0 L1016.4,285.8 L1021.3,288.6 L1026.2,291.4 L1031.2,294.1 L1036.2,296.8 L1041.4,299.5 L1046.6,302.2 L1052.0,304.8 L1057.6,307.4 L1063.3,310.0 L1069.1,312.6 L1075.1,315.2 L1081.1,317.7 L1087.1,320.2 L1093.1,322.6 L1099.0,325.0 L1104.9,327.3 L1110.8,329.6 L1116.6,331.8 L1122.5,333.9 L1128.4,336.1 L1134.2,338.1 L1140.1,340.1 L1146.0,342.0 L1152.0,343.9 L1158.3,345.7 L1164.7,347.5 L1171.1,349.2 L1177.2,350.9 L1183.0,352.4 L1188.3,353.8 L1193.0,355.0 L1197.1,356.1 L1200.8,357.0 L1204.0,357.9 L1206.9,358.6 L1209.5,359.2 L1211.6,359.7 L1213.5,360.1 L1215.0,360.5" stroke="#4e3434" stroke-width="3.2" fill="none" stroke-linejoin="round" stroke-dasharray="11 8"/>
<rect x="694.4" y="34.8" width="550.1" height="358.5" fill="none" stroke="#222" stroke-width="2.2"/>
<line x1="694.4" y1="393.3" x2="705.4" y2="393.3" stroke="#222" stroke-width="2"/>
<line x1="1244.5" y1="393.3" x2="1233.5" y2="393.3" stroke="#222" stroke-width="2"/>
<line x1="694.4" y1="382.1" x2="699.9" y2="382.1" stroke="#222" stroke-width="2"/>
<line x1="1244.5" y1="382.1" x2="1239.0" y2="382.1" stroke="#222" stroke-width="2"/>
<line x1="694.4" y1="370.8" x2="699.9" y2="370.8" stroke="#222" stroke-width="2"/>
<line x1="1244.5" y1="370.8" x2="1239.0" y2="370.8" stroke="#222" stroke-width="2"/>
<line x1="694.4" y1="359.6" x2="699.9" y2="359.6" stroke="#222" stroke-width="2"/>
<line x1="1244.5" y1="359.6" x2="1239.0" y2="359.6" stroke="#222" stroke-width="2"/>
<line x1="694.4" y1="348.3" x2="699.9" y2="348.3" stroke="#222" stroke-width="2"/>
<line x1="1244.5" y1="348.3" x2="1239.0" y2="348.3" stroke="#222" stroke-width="2"/>
<line x1="694.4" y1="337.1" x2="705.4" y2="337.1" stroke="#222" stroke-width="2"/>
<line x1="1244.5" y1="337.1" x2="1233.5" y2="337.1" stroke="#222" stroke-width="2"/>
<line x1="694.4" y1="325.8" x2="699.9" y2="325.8" stroke="#222" stroke-width="2"/>
<line x1="1244.5" y1="325.8" x2="1239.0" y2="325.8" stroke="#222" stroke-width="2"/>
<line x1="694.4" y1="314.6" x2="699.9" y2="314.6" stroke="#222" stroke-width="2"/>
<line x1="1244.5" y1="314.6" x2="1239.0" y2="314.6" stroke="#222" stroke-width="2"/>
<line x1="694.4" y1="303.3" x2="699.9" y2="303.3" stroke="#222" stroke-width="2"/>
<line x1="1244.5" y1="303.3" x2="1239.0" y2="303.3" stroke="#222" stroke-width="2"/>
<line x1="694.4" y1="292.1" x2="699.9" y2="292.1" stroke="#222" stroke-width="2"/>
<line x1="1244.5" y1="292.1" x2="1239.0" y2="292.1" stroke="#222" stroke-width="2"/>
<line x1="694.4" y1="280.9" x2="705.4" y2="280.9" stroke="#222" stroke-width="2"/>
<line x1="1244.5" y1="280.9" x2="1233.5" y2="280.9" stroke="#222" stroke-width="2"/>
<line x1="694.4" y1="269.6" x2="699.9" y2="269.6" stroke="#222" stroke-width="2"/>
<line x1="1244.5" y1="269.6" x2="1239.0" y2="269.6" stroke="#222" stroke-width="2"/>
<line x1="694.4" y1="258.4" x2="699.9" y2="258.4" stroke="#222" stroke-width="2"/>
<line x1="1244.5" y1="258.4" x2="1239.0" y2="258.4" stroke="#222" stroke-width="2"/>
<line x1="694.4" y1="247.1" x2="699.9" y2="247.1" stroke="#222" stroke-width="2"/>
<line x1="1244.5" y1="247.1" x2="1239.0" y2="247.1" stroke="#222" stroke-width="2"/>
<line x1="694.4" y1="235.9" x2="699.9" y2="235.9" stroke="#222" stroke-width="2"/>
<line x1="1244.5" y1="235.9" x2="1239.0" y2="235.9" stroke="#222" stroke-width="2"/>
<line x1="694.4" y1="224.6" x2="705.4" y2="224.6" stroke="#222" stroke-width="2"/>
<line x1="1244.5" y1="224.6" x2="1233.5" y2="224.6" stroke="#222" stroke-width="2"/>
<line x1="694.4" y1="213.4" x2="699.9" y2="213.4" stroke="#222" stroke-width="2"/>
<line x1="1244.5" y1="213.4" x2="1239.0" y2="213.4" stroke="#222" stroke-width="2"/>
<line x1="694.4" y1="202.1" x2="699.9" y2="202.1" stroke="#222" stroke-width="2"/>
<line x1="1244.5" y1="202.1" x2="1239.0" y2="202.1" stroke="#222" stroke-width="2"/>
<line x1="694.4" y1="190.9" x2="699.9" y2="190.9" stroke="#222" stroke-width="2"/>
<line x1="1244.5" y1="190.9" x2="1239.0" y2="190.9" stroke="#222" stroke-width="2"/>
<line x1="694.4" y1="179.6" x2="699.9" y2="179.6" stroke="#222" stroke-width="2"/>
<line x1="1244.5" y1="179.6" x2="1239.0" y2="179.6" stroke="#222" stroke-width="2"/>
<line x1="694.4" y1="168.4" x2="705.4" y2="168.4" stroke="#222" stroke-width="2"/>
<line x1="1244.5" y1="168.4" x2="1233.5" y2="168.4" stroke="#222" stroke-width="2"/>
<line x1="694.4" y1="157.2" x2="699.9" y2="157.2" stroke="#222" stroke-width="2"/>
<line x1="1244.5" y1="157.2" x2="1239.0" y2="157.2" stroke="#222" stroke-width="2"/>
<line x1="694.4" y1="145.9" x2="699.9" y2="145.9" stroke="#222" stroke-width="2"/>
<line x1="1244.5" y1="145.9" x2="1239.0" y2="145.9" stroke="#222" stroke-width="2"/>
<line x1="694.4" y1="134.7" x2="699.9" y2="134.7" stroke="#222" stroke-width="2"/>
<line x1="1244.5" y1="134.7" x2="1239.0" y2="134.7" stroke="#222" stroke-width="2"/>
<line x1="694.4" y1="123.4" x2="699.9" y2="123.4" stroke="#222" stroke-width="2"/>
<line x1="1244.5" y1="123.4" x2="1239.0" y2="123.4" stroke="#222" stroke-width="2"/>
<line x1="694.4" y1="112.2" x2="705.4" y2="112.2" stroke="#222" stroke-width="2"/>
<line x1="1244.5" y1="112.2" x2="1233.5" y2="112.2" stroke="#222" stroke-width="2"/>
<line x1="694.4" y1="100.9" x2="699.9" y2="100.9" stroke="#222" stroke-width="2"/>
<line x1="1244.5" y1="100.9" x2="1239.0" y2="100.9" stroke="#222" stroke-width="2"/>
<line x1="694.4" y1="89.7" x2="699.9" y2="89.7" stroke="#222" stroke-width="2"/>
<line x1="1244.5" y1="89.7" x2="1239.0" y2="89.7" stroke="#222" stroke-width="2"/>
<line x1="694.4" y1="78.4" x2="699.9" y2="78.4" stroke="#222" stroke-width="2"/>
<line x1="1244.5" y1="78.4" x2="1239.0" y2="78.4" stroke="#222" stroke-width="2"/>
<line x1="694.4" y1="67.2" x2="699.9" y2="67.2" stroke="#222" stroke-width="2"/>
<line x1="1244.5" y1="67.2" x2="1239.0" y2="67.2" stroke="#222" stroke-width="2"/>
<line x1="694.4" y1="55.9" x2="705.4" y2="55.9" stroke="#222" stroke-width="2"/>
<line x1="1244.5" y1="55.9" x2="1233.5" y2="55.9" stroke="#222" stroke-width="2"/>
<line x1="694.4" y1="44.7" x2="699.9" y2="44.7" stroke="#222" stroke-width="2"/>
<line x1="1244.5" y1="44.7" x2="1239.0" y2="44.7" stroke="#222" stroke-width="2"/>
<line x1="701.8" y1="393.3" x2="701.8" y2="388.3" stroke="#222" stroke-width="1.8"/>
<line x1="701.8" y1="34.8" x2="701.8" y2="39.3" stroke="#222" stroke-width="1.8"/>
<line x1="709.1" y1="393.3" x2="709.1" y2="388.3" stroke="#222" stroke-width="1.8"/>
<line x1="709.1" y1="34.8" x2="709.1" y2="39.3" stroke="#222" stroke-width="1.8"/>
<line x1="716.4" y1="393.3" x2="716.4" y2="388.3" stroke="#222" stroke-width="1.8"/>
<line x1="716.4" y1="34.8" x2="716.4" y2="39.3" stroke="#222" stroke-width="1.8"/>
<line x1="723.8" y1="393.3" x2="723.8" y2="388.3" stroke="#222" stroke-width="1.8"/>
<line x1="723.8" y1="34.8" x2="723.8" y2="39.3" stroke="#222" stroke-width="1.8"/>
<line x1="731.1" y1="393.3" x2="731.1" y2="382.3" stroke="#222" stroke-width="1.8"/>
<line x1="731.1" y1="34.8" x2="731.1" y2="39.3" stroke="#222" stroke-width="1.8"/>
<line x1="738.5" y1="393.3" x2="738.5" y2="388.3" stroke="#222" stroke-width="1.8"/>
<line x1="738.5" y1="34.8" x2="738.5" y2="39.3" stroke="#222" stroke-width="1.8"/>
<line x1="745.9" y1="393.3" x2="745.9" y2="388.3" stroke="#222" stroke-width="1.8"/>
<line x1="745.9" y1="34.8" x2="745.9" y2="39.3" stroke="#222" stroke-width="1.8"/>
<line x1="753.2" y1="393.3" x2="753.2" y2="388.3" stroke="#222" stroke-width="1.8"/>
<line x1="753.2" y1="34.8" x2="753.2" y2="39.3" stroke="#222" stroke-width="1.8"/>
<line x1="760.5" y1="393.3" x2="760.5" y2="388.3" stroke="#222" stroke-width="1.8"/>
<line x1="760.5" y1="34.8" x2="760.5" y2="39.3" stroke="#222" stroke-width="1.8"/>
<line x1="767.9" y1="393.3" x2="767.9" y2="382.3" stroke="#222" stroke-width="1.8"/>
<line x1="767.9" y1="34.8" x2="767.9" y2="39.3" stroke="#222" stroke-width="1.8"/>
<line x1="775.2" y1="393.3" x2="775.2" y2="388.3" stroke="#222" stroke-width="1.8"/>
<line x1="775.2" y1="34.8" x2="775.2" y2="39.3" stroke="#222" stroke-width="1.8"/>
<line x1="782.6" y1="393.3" x2="782.6" y2="388.3" stroke="#222" stroke-width="1.8"/>
<line x1="782.6" y1="34.8" x2="782.6" y2="39.3" stroke="#222" stroke-width="1.8"/>
<line x1="789.9" y1="393.3" x2="789.9" y2="388.3" stroke="#222" stroke-width="1.8"/>
<line x1="789.9" y1="34.8" x2="789.9" y2="39.3" stroke="#222" stroke-width="1.8"/>
<line x1="797.3" y1="393.3" x2="797.3" y2="388.3" stroke="#222" stroke-width="1.8"/>
<line x1="797.3" y1="34.8" x2="797.3" y2="39.3" stroke="#222" stroke-width="1.8"/>
<line x1="804.6" y1="393.3" x2="804.6" y2="382.3" stroke="#222" stroke-width="1.8"/>
<line x1="804.6" y1="34.8" x2="804.6" y2="39.3" stroke="#222" stroke-width="1.8"/>
<line x1="812.0" y1="393.3" x2="812.0" y2="388.3" stroke="#222" stroke-width="1.8"/>
<line x1="812.0" y1="34.8" x2="812.0" y2="39.3" stroke="#222" stroke-width="1.8"/>
<line x1="819.4" y1="393.3" x2="819.4" y2="388.3" stroke="#222" stroke-width="1.8"/>
<line x1="819.4" y1="34.8" x2="819.4" y2="39.3" stroke="#222" stroke-width="1.8"/>
<line x1="826.7" y1="393.3" x2="826.7" y2="388.3" stroke="#222" stroke-width="1.8"/>
<line x1="826.7" y1="34.8" x2="826.7" y2="39.3" stroke="#222" stroke-width="1.8"/>
<line x1="834.0" y1="393.3" x2="834.0" y2="388.3" stroke="#222" stroke-width="1.8"/>
<line x1="834.0" y1="34.8" x2="834.0" y2="39.3" stroke="#222" stroke-width="1.8"/>
<line x1="841.4" y1="393.3" x2="841.4" y2="382.3" stroke="#222" stroke-width="1.8"/>
<line x1="841.4" y1="34.8" x2="841.4" y2="39.3" stroke="#222" stroke-width="1.8"/>
<line x1="848.8" y1="393.3" x2="848.8" y2="388.3" stroke="#222" stroke-width="1.8"/>
<line x1="848.8" y1="34.8" x2="848.8" y2="39.3" stroke="#222" stroke-width="1.8"/>
<line x1="856.1" y1="393.3" x2="856.1" y2="388.3" stroke="#222" stroke-width="1.8"/>
<line x1="856.1" y1="34.8" x2="856.1" y2="39.3" stroke="#222" stroke-width="1.8"/>
<line x1="863.5" y1="393.3" x2="863.5" y2="388.3" stroke="#222" stroke-width="1.8"/>
<line x1="863.5" y1="34.8" x2="863.5" y2="39.3" stroke="#222" stroke-width="1.8"/>
<line x1="870.8" y1="393.3" x2="870.8" y2="388.3" stroke="#222" stroke-width="1.8"/>
<line x1="870.8" y1="34.8" x2="870.8" y2="39.3" stroke="#222" stroke-width="1.8"/>
<line x1="878.1" y1="393.3" x2="878.1" y2="382.3" stroke="#222" stroke-width="1.8"/>
<line x1="878.1" y1="34.8" x2="878.1" y2="39.3" stroke="#222" stroke-width="1.8"/>
<line x1="885.5" y1="393.3" x2="885.5" y2="388.3" stroke="#222" stroke-width="1.8"/>
<line x1="885.5" y1="34.8" x2="885.5" y2="39.3" stroke="#222" stroke-width="1.8"/>
<line x1="892.9" y1="393.3" x2="892.9" y2="388.3" stroke="#222" stroke-width="1.8"/>
<line x1="892.9" y1="34.8" x2="892.9" y2="39.3" stroke="#222" stroke-width="1.8"/>
<line x1="900.2" y1="393.3" x2="900.2" y2="388.3" stroke="#222" stroke-width="1.8"/>
<line x1="900.2" y1="34.8" x2="900.2" y2="39.3" stroke="#222" stroke-width="1.8"/>
<line x1="907.5" y1="393.3" x2="907.5" y2="388.3" stroke="#222" stroke-width="1.8"/>
<line x1="907.5" y1="34.8" x2="907.5" y2="39.3" stroke="#222" stroke-width="1.8"/>
<line x1="914.9" y1="393.3" x2="914.9" y2="382.3" stroke="#222" stroke-width="1.8"/>
<line x1="914.9" y1="34.8" x2="914.9" y2="39.3" stroke="#222" stroke-width="1.8"/>
<line x1="922.2" y1="393.3" x2="922.2" y2="388.3" stroke="#222" stroke-width="1.8"/>
<line x1="922.2" y1="34.8" x2="922.2" y2="39.3" stroke="#222" stroke-width="1.8"/>
<line x1="929.6" y1="393.3" x2="929.6" y2="388.3" stroke="#222" stroke-width="1.8"/>
<line x1="929.6" y1="34.8" x2="929.6" y2="39.3" stroke="#222" stroke-width="1.8"/>
<line x1="937.0" y1="393.3" x2="937.0" y2="388.3" stroke="#222" stroke-width="1.8"/>
<line x1="937.0" y1="34.8" x2="937.0" y2="39.3" stroke="#222" stroke-width="1.8"/>
<line x1="944.3" y1="393.3" x2="944.3" y2="388.3" stroke="#222" stroke-width="1.8"/>
<line x1="944.3" y1="34.8" x2="944.3" y2="39.3" stroke="#222" stroke-width="1.8"/>
<line x1="951.6" y1="393.3" x2="951.6" y2="382.3" stroke="#222" stroke-width="1.8"/>
<line x1="951.6" y1="34.8" x2="951.6" y2="39.3" stroke="#222" stroke-width="1.8"/>
<line x1="959.0" y1="393.3" x2="959.0" y2="388.3" stroke="#222" stroke-width="1.8"/>
<line x1="959.0" y1="34.8" x2="959.0" y2="39.3" stroke="#222" stroke-width="1.8"/>
<line x1="966.3" y1="393.3" x2="966.3" y2="388.3" stroke="#222" stroke-width="1.8"/>
<line x1="966.3" y1="34.8" x2="966.3" y2="39.3" stroke="#222" stroke-width="1.8"/>
<line x1="973.7" y1="393.3" x2="973.7" y2="388.3" stroke="#222" stroke-width="1.8"/>
<line x1="973.7" y1="34.8" x2="973.7" y2="39.3" stroke="#222" stroke-width="1.8"/>
<line x1="981.0" y1="393.3" x2="981.0" y2="388.3" stroke="#222" stroke-width="1.8"/>
<line x1="981.0" y1="34.8" x2="981.0" y2="39.3" stroke="#222" stroke-width="1.8"/>
<line x1="988.4" y1="393.3" x2="988.4" y2="382.3" stroke="#222" stroke-width="1.8"/>
<line x1="988.4" y1="34.8" x2="988.4" y2="39.3" stroke="#222" stroke-width="1.8"/>
<line x1="995.8" y1="393.3" x2="995.8" y2="388.3" stroke="#222" stroke-width="1.8"/>
<line x1="995.8" y1="34.8" x2="995.8" y2="39.3" stroke="#222" stroke-width="1.8"/>
<line x1="1003.1" y1="393.3" x2="1003.1" y2="388.3" stroke="#222" stroke-width="1.8"/>
<line x1="1003.1" y1="34.8" x2="1003.1" y2="39.3" stroke="#222" stroke-width="1.8"/>
<line x1="1010.5" y1="393.3" x2="1010.5" y2="388.3" stroke="#222" stroke-width="1.8"/>
<line x1="1010.5" y1="34.8" x2="1010.5" y2="39.3" stroke="#222" stroke-width="1.8"/>
<line x1="1017.8" y1="393.3" x2="1017.8" y2="388.3" stroke="#222" stroke-width="1.8"/>
<line x1="1017.8" y1="34.8" x2="1017.8" y2="39.3" stroke="#222" stroke-width="1.8"/>
<line x1="1025.2" y1="393.3" x2="1025.2" y2="382.3" stroke="#222" stroke-width="1.8"/>
<line x1="1025.2" y1="34.8" x2="1025.2" y2="39.3" stroke="#222" stroke-width="1.8"/>
<line x1="1032.5" y1="393.3" x2="1032.5" y2="388.3" stroke="#222" stroke-width="1.8"/>
<line x1="1032.5" y1="34.8" x2="1032.5" y2="39.3" stroke="#222" stroke-width="1.8"/>
<line x1="1039.8" y1="393.3" x2="1039.8" y2="388.3" stroke="#222" stroke-width="1.8"/>
<line x1="1039.8" y1="34.8" x2="1039.8" y2="39.3" stroke="#222" stroke-width="1.8"/>
<line x1="1047.2" y1="393.3" x2="1047.2" y2="388.3" stroke="#222" stroke-width="1.8"/>
<line x1="1047.2" y1="34.8" x2="1047.2" y2="39.3" stroke="#222" stroke-width="1.8"/>
<line x1="1054.5" y1="393.3" x2="1054.5" y2="388.3" stroke="#222" stroke-width="1.8"/>
<line x1="1054.5" y1="34.8" x2="1054.5" y2="39.3" stroke="#222" stroke-width="1.8"/>
<line x1="1061.9" y1="393.3" x2="1061.9" y2="382.3" stroke="#222" stroke-width="1.8"/>
<line x1="1061.9" y1="34.8" x2="1061.9" y2="39.3" stroke="#222" stroke-width="1.8"/>
<line x1="1069.2" y1="393.3" x2="1069.2" y2="388.3" stroke="#222" stroke-width="1.8"/>
<line x1="1069.2" y1="34.8" x2="1069.2" y2="39.3" stroke="#222" stroke-width="1.8"/>
<line x1="1076.6" y1="393.3" x2="1076.6" y2="388.3" stroke="#222" stroke-width="1.8"/>
<line x1="1076.6" y1="34.8" x2="1076.6" y2="39.3" stroke="#222" stroke-width="1.8"/>
<line x1="1084.0" y1="393.3" x2="1084.0" y2="388.3" stroke="#222" stroke-width="1.8"/>
<line x1="1084.0" y1="34.8" x2="1084.0" y2="39.3" stroke="#222" stroke-width="1.8"/>
<line x1="1091.3" y1="393.3" x2="1091.3" y2="388.3" stroke="#222" stroke-width="1.8"/>
<line x1="1091.3" y1="34.8" x2="1091.3" y2="39.3" stroke="#222" stroke-width="1.8"/>
<line x1="1098.7" y1="393.3" x2="1098.7" y2="382.3" stroke="#222" stroke-width="1.8"/>
<line x1="1098.7" y1="34.8" x2="1098.7" y2="39.3" stroke="#222" stroke-width="1.8"/>
<line x1="1106.0" y1="393.3" x2="1106.0" y2="388.3" stroke="#222" stroke-width="1.8"/>
<line x1="1106.0" y1="34.8" x2="1106.0" y2="39.3" stroke="#222" stroke-width="1.8"/>
<line x1="1113.3" y1="393.3" x2="1113.3" y2="388.3" stroke="#222" stroke-width="1.8"/>
<line x1="1113.3" y1="34.8" x2="1113.3" y2="39.3" stroke="#222" stroke-width="1.8"/>
<line x1="1120.7" y1="393.3" x2="1120.7" y2="388.3" stroke="#222" stroke-width="1.8"/>
<line x1="1120.7" y1="34.8" x2="1120.7" y2="39.3" stroke="#222" stroke-width="1.8"/>
<line x1="1128.0" y1="393.3" x2="1128.0" y2="388.3" stroke="#222" stroke-width="1.8"/>
<line x1="1128.0" y1="34.8" x2="1128.0" y2="39.3" stroke="#222" stroke-width="1.8"/>
<line x1="1135.4" y1="393.3" x2="1135.4" y2="382.3" stroke="#222" stroke-width="1.8"/>
<line x1="1135.4" y1="34.8" x2="1135.4" y2="39.3" stroke="#222" stroke-width="1.8"/>
<line x1="1142.8" y1="393.3" x2="1142.8" y2="388.3" stroke="#222" stroke-width="1.8"/>
<line x1="1142.8" y1="34.8" x2="1142.8" y2="39.3" stroke="#222" stroke-width="1.8"/>
<line x1="1150.1" y1="393.3" x2="1150.1" y2="388.3" stroke="#222" stroke-width="1.8"/>
<line x1="1150.1" y1="34.8" x2="1150.1" y2="39.3" stroke="#222" stroke-width="1.8"/>
<line x1="1157.5" y1="393.3" x2="1157.5" y2="388.3" stroke="#222" stroke-width="1.8"/>
<line x1="1157.5" y1="34.8" x2="1157.5" y2="39.3" stroke="#222" stroke-width="1.8"/>
<line x1="1164.8" y1="393.3" x2="1164.8" y2="388.3" stroke="#222" stroke-width="1.8"/>
<line x1="1164.8" y1="34.8" x2="1164.8" y2="39.3" stroke="#222" stroke-width="1.8"/>
<line x1="1172.2" y1="393.3" x2="1172.2" y2="382.3" stroke="#222" stroke-width="1.8"/>
<line x1="1172.2" y1="34.8" x2="1172.2" y2="39.3" stroke="#222" stroke-width="1.8"/>
<line x1="1179.5" y1="393.3" x2="1179.5" y2="388.3" stroke="#222" stroke-width="1.8"/>
<line x1="1179.5" y1="34.8" x2="1179.5" y2="39.3" stroke="#222" stroke-width="1.8"/>
<line x1="1186.8" y1="393.3" x2="1186.8" y2="388.3" stroke="#222" stroke-width="1.8"/>
<line x1="1186.8" y1="34.8" x2="1186.8" y2="39.3" stroke="#222" stroke-width="1.8"/>
<line x1="1194.2" y1="393.3" x2="1194.2" y2="388.3" stroke="#222" stroke-width="1.8"/>
<line x1="1194.2" y1="34.8" x2="1194.2" y2="39.3" stroke="#222" stroke-width="1.8"/>
<line x1="1201.5" y1="393.3" x2="1201.5" y2="388.3" stroke="#222" stroke-width="1.8"/>
<line x1="1201.5" y1="34.8" x2="1201.5" y2="39.3" stroke="#222" stroke-width="1.8"/>
<line x1="1208.9" y1="393.3" x2="1208.9" y2="382.3" stroke="#222" stroke-width="1.8"/>
<line x1="1208.9" y1="34.8" x2="1208.9" y2="39.3" stroke="#222" stroke-width="1.8"/>
<line x1="1216.2" y1="393.3" x2="1216.2" y2="388.3" stroke="#222" stroke-width="1.8"/>
<line x1="1216.2" y1="34.8" x2="1216.2" y2="39.3" stroke="#222" stroke-width="1.8"/>
<line x1="1223.6" y1="393.3" x2="1223.6" y2="388.3" stroke="#222" stroke-width="1.8"/>
<line x1="1223.6" y1="34.8" x2="1223.6" y2="39.3" stroke="#222" stroke-width="1.8"/>
<line x1="1231.0" y1="393.3" x2="1231.0" y2="388.3" stroke="#222" stroke-width="1.8"/>
<line x1="1231.0" y1="34.8" x2="1231.0" y2="39.3" stroke="#222" stroke-width="1.8"/>
<line x1="1238.3" y1="393.3" x2="1238.3" y2="388.3" stroke="#222" stroke-width="1.8"/>
<line x1="1238.3" y1="34.8" x2="1238.3" y2="39.3" stroke="#222" stroke-width="1.8"/>
<line x1="731.3" y1="34.8" x2="731.3" y2="50.0" stroke="#222" stroke-width="2"/>
<rect x="721.0" y="45.4" width="21.0" height="21.0" fill="#000"/>
<rect x="830.9" y="157.9" width="21.0" height="21.0" fill="#000"/>
<rect x="941.5" y="304.1" width="21.0" height="21.0" fill="#000"/>
<rect x="1042.2" y="326.6" width="21.0" height="21.0" fill="#000"/>
<rect x="1152.8" y="349.1" width="21.0" height="21.0" fill="#000"/>
<text x="667.0" y="401.9" font-size="25" text-anchor="middle" fill="#383838">50</text>
<text x="667.0" y="345.7" font-size="25" text-anchor="middle" fill="#383838">100</text>
<text x="667.0" y="289.5" font-size="25" text-anchor="middle" fill="#383838">150</text>
<text x="667.0" y="233.2" font-size="25" text-anchor="middle" fill="#383838">200</text>
<text x="667.0" y="177.0" font-size="25" text-anchor="middle" fill="#383838">250</text>
<text x="667.0" y="120.8" font-size="25" text-anchor="middle" fill="#383838">300</text>
<text x="667.0" y="64.5" font-size="25" text-anchor="middle" fill="#383838">350</text>
<text x="692.0" y="419.0" font-size="25" text-anchor="middle" fill="#383838">0</text>
<text x="762.5" y="419.0" font-size="25" text-anchor="middle" fill="#383838">2</text>
<text x="840.0" y="419.0" font-size="25" text-anchor="middle" fill="#383838">4</text>
<text x="910.0" y="419.0" font-size="25" text-anchor="middle" fill="#383838">6</text>
<text x="988.0" y="419.0" font-size="25" text-anchor="middle" fill="#383838">8</text>
<text x="1058.4" y="419.0" font-size="25" text-anchor="middle" fill="#383838">10</text>
<text x="1136.0" y="419.0" font-size="25" text-anchor="middle" fill="#383838">12</text>
<text x="1212.0" y="419.0" font-size="25" text-anchor="middle" fill="#383838">14</text>
<text x="930.0" y="456.6" font-size="24" textLength="69" lengthAdjust="spacingAndGlyphs" fill="#383838">Z, mm</text>
<text x="595.6" y="66.0" font-size="25" textLength="29.4" lengthAdjust="spacingAndGlyphs" fill="#383838">(b)</text>
<text x="621.0" y="218.0" font-size="25" text-anchor="middle" textLength="261" lengthAdjust="spacingAndGlyphs" fill="#383838" transform="rotate(-90 621.0 218.0)">Deposition rate, nm/min</text>
<rect x="871.5" y="64.7" width="15.5" height="15.5" fill="#000"/>
<line x1="871.0" y1="101.9" x2="885.5" y2="101.9" stroke="#8a5c5c" stroke-width="3.5"/>
<text x="898.8" y="81.5" font-size="23" textLength="312" lengthAdjust="spacingAndGlyphs" fill="#383838">Deposition rate (experiment)</text>
<text x="898.8" y="110.0" font-size="23" textLength="248.7" lengthAdjust="spacingAndGlyphs" fill="#383838">Density variation along</text>
<text x="898.8" y="138.0" font-size="23" textLength="244.5" lengthAdjust="spacingAndGlyphs" fill="#383838">the expansion (theory)</text>
<radialGradient id="ga"><stop offset="0" stop-color="#fcc894"/><stop offset="0.45" stop-color="#f49c68" stop-opacity="0.95"/><stop offset="0.8" stop-color="#e06434" stop-opacity="0.5"/><stop offset="1" stop-color="#c83818" stop-opacity="0"/></radialGradient>
<radialGradient id="gb"><stop offset="0" stop-color="#ec7c48"/><stop offset="0.5" stop-color="#e06436" stop-opacity="0.9"/><stop offset="0.85" stop-color="#c8461e" stop-opacity="0.35"/><stop offset="1" stop-color="#b83010" stop-opacity="0"/></radialGradient>
<radialGradient id="gc"><stop offset="0" stop-color="#d45026"/><stop offset="0.55" stop-color="#c8441e" stop-opacity="0.8"/><stop offset="0.85" stop-color="#b43414" stop-opacity="0.3"/><stop offset="1" stop-color="#a82810" stop-opacity="0"/></radialGradient>
<radialGradient id="gw"><stop offset="0" stop-color="#ffffff"/><stop offset="0.4" stop-color="#fff4ea"/><stop offset="0.7" stop-color="#f8c8a0" stop-opacity="0.8"/><stop offset="1" stop-color="#e08050" stop-opacity="0"/></radialGradient>
<radialGradient id="gd"><stop offset="0" stop-color="#180000" stop-opacity="1"/><stop offset="0.45" stop-color="#300000" stop-opacity="0.8"/><stop offset="1" stop-color="#600000" stop-opacity="0"/></radialGradient>
<filter id="afmbase" x="0" y="0" width="1" height="1" color-interpolation-filters="sRGB">
<feTurbulence type="fractalNoise" baseFrequency="0.06" numOctaves="2" seed="2" result="n"/>
<feColorMatrix in="n" type="matrix" values="1 0 0 0 0  1 0 0 0 0  1 0 0 0 0  0 0 0 0 1"/>
<feComponentTransfer><feFuncR type="linear" slope="2.2" intercept="-0.6"/><feFuncG type="linear" slope="2.2" intercept="-0.6"/><feFuncB type="linear" slope="2.2" intercept="-0.6"/></feComponentTransfer>
<feComponentTransfer><feFuncR type="table" tableValues="0.30 0.45 0.56 0.66 0.74"/><feFuncG type="table" tableValues="0.0 0.02 0.06 0.11 0.18"/><feFuncB type="table" tableValues="0.0 0.0 0.02 0.04 0.07"/></feComponentTransfer>
</filter>
<svg x="78.5" y="516.2" width="281.0" height="276.4" overflow="hidden">
<rect width="281.0" height="276.4" fill="#a02810" filter="url(#afmbase)"/>
<circle cx="101" cy="46" r="9" fill="url(#gd)"/>
<circle cx="18" cy="83" r="11" fill="url(#gd)"/>
<circle cx="1" cy="187" r="10" fill="url(#gd)"/>
<circle cx="87" cy="226" r="10" fill="url(#gd)"/>
<circle cx="89" cy="133" r="12" fill="url(#gd)"/>
<circle cx="16" cy="270" r="8" fill="url(#gd)"/>
<circle cx="211" cy="234" r="8" fill="url(#gd)"/>
<circle cx="221" cy="101" r="11" fill="url(#gd)"/>
<circle cx="3" cy="13" r="9" fill="url(#gd)"/>
<circle cx="98" cy="182" r="18" fill="url(#gd)"/>
<circle cx="182" cy="54" r="15" fill="url(#gd)"/>
<circle cx="32" cy="235" r="14" fill="url(#gd)"/>
<circle cx="222" cy="264" r="12" fill="url(#gd)"/>
<circle cx="142" cy="134" r="12" fill="url(#gd)"/>
<circle cx="272" cy="52" r="6.6" fill="url(#gc)"/>
<circle cx="265" cy="264" r="7.9" fill="url(#gc)"/>
<circle cx="99" cy="145" r="8.5" fill="url(#ga)"/>
<circle cx="27" cy="209" r="7.4" fill="url(#gb)"/>
<circle cx="244" cy="6" r="7.7" fill="url(#gb)"/>
<circle cx="22" cy="93" r="8.9" fill="url(#gb)"/>
<circle cx="261" cy="93" r="8.0" fill="url(#gc)"/>
<circle cx="154" cy="85" r="7.0" fill="url(#gc)"/>
<circle cx="47" cy="18" r="6.9" fill="url(#gc)"/>
<circle cx="195" cy="279" r="7.7" fill="url(#gc)"/>
<circle cx="10" cy="277" r="7.8" fill="url(#gc)"/>
<circle cx="113" cy="63" r="7.6" fill="url(#gc)"/>
<circle cx="235" cy="126" r="8.4" fill="url(#gc)"/>
<circle cx="12" cy="257" r="6.2" fill="url(#gc)"/>
<circle cx="139" cy="234" r="8.3" fill="url(#gc)"/>
<circle cx="207" cy="266" r="6.7" fill="url(#gc)"/>
<circle cx="224" cy="26" r="6.1" fill="url(#gc)"/>
<circle cx="81" cy="125" r="8.6" fill="url(#ga)"/>
<circle cx="242" cy="274" r="6.3" fill="url(#gc)"/>
<circle cx="137" cy="203" r="8.1" fill="url(#gb)"/>
<circle cx="80" cy="111" r="7.8" fill="url(#gc)"/>
<circle cx="105" cy="277" r="7.4" fill="url(#gb)"/>
<circle cx="177" cy="138" r="7.5" fill="url(#gc)"/>
<circle cx="22" cy="73" r="8.8" fill="url(#gb)"/>
<circle cx="247" cy="99" r="8.4" fill="url(#gc)"/>
<circle cx="220" cy="194" r="7.4" fill="url(#gc)"/>
<circle cx="216" cy="99" r="7.3" fill="url(#gc)"/>
<circle cx="81" cy="265" r="7.6" fill="url(#gc)"/>
<circle cx="164" cy="-1" r="6.9" fill="url(#gc)"/>
<circle cx="68" cy="187" r="8.2" fill="url(#gc)"/>
<circle cx="232" cy="180" r="8.9" fill="url(#gb)"/>
<circle cx="209" cy="232" r="6.8" fill="url(#gc)"/>
<circle cx="240" cy="243" r="6.5" fill="url(#gc)"/>
<circle cx="278" cy="268" r="6.7" fill="url(#gc)"/>
<circle cx="149" cy="43" r="6.9" fill="url(#gb)"/>
<circle cx="267" cy="132" r="6.3" fill="url(#gc)"/>
<circle cx="204" cy="204" r="6.8" fill="url(#gc)"/>
<circle cx="222" cy="161" r="6.7" fill="url(#gc)"/>
<circle cx="118" cy="173" r="9.6" fill="url(#ga)"/>
<circle cx="180" cy="201" r="7.2" fill="url(#gc)"/>
<circle cx="42" cy="121" r="6.6" fill="url(#gb)"/>
<circle cx="178" cy="8" r="6.8" fill="url(#gc)"/>
<circle cx="61" cy="11" r="7.0" fill="url(#gc)"/>
<circle cx="88" cy="48" r="6.6" fill="url(#gc)"/>
<circle cx="6" cy="128" r="8.5" fill="url(#gc)"/>
<circle cx="173" cy="164" r="7.7" fill="url(#gc)"/>
<circle cx="257" cy="-4" r="7.3" fill="url(#gc)"/>
<circle cx="104" cy="6" r="6.2" fill="url(#gc)"/>
<circle cx="23" cy="151" r="6.8" fill="url(#gc)"/>
<circle cx="164" cy="269" r="8.0" fill="url(#gb)"/>
<circle cx="117" cy="227" r="8.7" fill="url(#gb)"/>
<circle cx="103" cy="36" r="6.2" fill="url(#gc)"/>
<circle cx="276" cy="169" r="8.0" fill="url(#gc)"/>
<circle cx="174" cy="36" r="8.1" fill="url(#gc)"/>
<circle cx="260" cy="165" r="7.5" fill="url(#gc)"/>
<circle cx="280" cy="137" r="7.7" fill="url(#gc)"/>
<circle cx="88" cy="276" r="8.5" fill="url(#gc)"/>
<circle cx="31" cy="173" r="8.1" fill="url(#gc)"/>
<circle cx="81" cy="218" r="8.1" fill="url(#gb)"/>
<circle cx="-0" cy="147" r="8.4" fill="url(#gc)"/>
<circle cx="266" cy="218" r="7.0" fill="url(#gc)"/>
<circle cx="73" cy="40" r="7.7" fill="url(#ga)"/>
<circle cx="81" cy="169" r="7.1" fill="url(#gc)"/>
<circle cx="211" cy="30" r="7.1" fill="url(#gc)"/>
<circle cx="83" cy="148" r="6.6" fill="url(#gc)"/>
<circle cx="130" cy="99" r="6.6" fill="url(#gb)"/>
<circle cx="69" cy="126" r="9.8" fill="url(#ga)"/>
<circle cx="253" cy="151" r="8.2" fill="url(#gc)"/>
<circle cx="221" cy="118" r="7.7" fill="url(#gc)"/>
<circle cx="201" cy="176" r="6.3" fill="url(#gc)"/>
<circle cx="259" cy="106" r="7.1" fill="url(#gc)"/>
<circle cx="242" cy="52" r="7.3" fill="url(#gc)"/>
<circle cx="236" cy="15" r="7.5" fill="url(#gc)"/>
<circle cx="197" cy="119" r="6.5" fill="url(#gc)"/>
<circle cx="222" cy="255" r="6.7" fill="url(#gc)"/>
<circle cx="134" cy="152" r="8.3" fill="url(#gb)"/>
<circle cx="165" cy="227" r="6.9" fill="url(#gc)"/>
<circle cx="62" cy="229" r="8.7" fill="url(#gb)"/>
<circle cx="285" cy="195" r="8.2" fill="url(#gc)"/>
<circle cx="183" cy="267" r="8.2" fill="url(#gc)"/>
<circle cx="35" cy="79" r="8.4" fill="url(#ga)"/>
<circle cx="116" cy="42" r="7.8" fill="url(#gc)"/>
<circle cx="9" cy="27" r="7.5" fill="url(#gc)"/>
<circle cx="17" cy="12" r="6.5" fill="url(#gc)"/>
<circle cx="211" cy="246" r="6.5" fill="url(#gc)"/>
<circle cx="121" cy="85" r="6.3" fill="url(#gc)"/>
<circle cx="137" cy="263" r="6.1" fill="url(#gc)"/>
<circle cx="12" cy="194" r="7.8" fill="url(#gc)"/>
<circle cx="175" cy="71" r="7.9" fill="url(#gc)"/>
<circle cx="69" cy="209" r="6.5" fill="url(#gc)"/>
<circle cx="35" cy="63" r="6.7" fill="url(#gc)"/>
<circle cx="209" cy="47" r="6.2" fill="url(#gc)"/>
<circle cx="185" cy="20" r="7.8" fill="url(#gc)"/>
<circle cx="22" cy="31" r="7.9" fill="url(#gc)"/>
<circle cx="65" cy="245" r="7.2" fill="url(#gc)"/>
<circle cx="12" cy="39" r="9.0" fill="url(#gb)"/>
<circle cx="193" cy="59" r="8.5" fill="url(#gc)"/>
<circle cx="277" cy="185" r="6.8" fill="url(#gc)"/>
<circle cx="98" cy="63" r="7.0" fill="url(#gc)"/>
<circle cx="173" cy="95" r="6.7" fill="url(#gc)"/>
<circle cx="183" cy="225" r="7.0" fill="url(#gc)"/>
<circle cx="242" cy="143" r="7.7" fill="url(#gc)"/>
<circle cx="162" cy="207" r="6.8" fill="url(#gc)"/>
<circle cx="253" cy="133" r="6.9" fill="url(#gc)"/>
<circle cx="120" cy="128" r="6.6" fill="url(#gc)"/>
<circle cx="41" cy="41" r="8.0" fill="url(#gc)"/>
<circle cx="107" cy="246" r="8.1" fill="url(#gc)"/>
<circle cx="69" cy="75" r="6.1" fill="url(#gc)"/>
<circle cx="79" cy="63" r="7.9" fill="url(#gc)"/>
<circle cx="103" cy="263" r="8.3" fill="url(#gc)"/>
<circle cx="191" cy="130" r="9.6" fill="url(#ga)"/>
<circle cx="30" cy="186" r="7.7" fill="url(#gc)"/>
<circle cx="43" cy="53" r="6.9" fill="url(#gc)"/>
<circle cx="101" cy="85" r="6.8" fill="url(#gc)"/>
<circle cx="120" cy="273" r="6.4" fill="url(#gc)"/>
<circle cx="14" cy="218" r="8.1" fill="url(#gc)"/>
<circle cx="97" cy="23" r="8.3" fill="url(#gc)"/>
<circle cx="266" cy="11" r="7.3" fill="url(#gc)"/>
<circle cx="11" cy="109" r="7.1" fill="url(#gc)"/>
<circle cx="84" cy="11" r="6.3" fill="url(#gc)"/>
<circle cx="143" cy="110" r="7.5" fill="url(#gc)"/>
<circle cx="105" cy="174" r="9.7" fill="url(#ga)"/>
<circle cx="61" cy="29" r="7.6" fill="url(#gc)"/>
<circle cx="233" cy="85" r="6.3" fill="url(#gc)"/>
<circle cx="20" cy="118" r="6.7" fill="url(#gb)"/>
<circle cx="198" cy="10" r="7.1" fill="url(#gc)"/>
<circle cx="157" cy="251" r="6.5" fill="url(#gc)"/>
<circle cx="4" cy="10" r="7.1" fill="url(#gc)"/>
<circle cx="-0" cy="162" r="7.5" fill="url(#ga)"/>
<circle cx="150" cy="272" r="6.2" fill="url(#gc)"/>
<circle cx="26" cy="228" r="8.3" fill="url(#gc)"/>
<circle cx="135" cy="247" r="7.4" fill="url(#gc)"/>
<circle cx="54" cy="156" r="8.2" fill="url(#gc)"/>
<circle cx="213" cy="65" r="8.3" fill="url(#gc)"/>
<circle cx="68" cy="275" r="8.5" fill="url(#gb)"/>
<circle cx="242" cy="172" r="7.7" fill="url(#gc)"/>
<circle cx="138" cy="7" r="8.5" fill="url(#gc)"/>
<circle cx="256" cy="53" r="7.6" fill="url(#gc)"/>
<circle cx="90" cy="190" r="8.2" fill="url(#ga)"/>
<circle cx="144" cy="163" r="8.4" fill="url(#gc)"/>
<circle cx="4" cy="85" r="7.0" fill="url(#gc)"/>
<circle cx="151" cy="223" r="7.6" fill="url(#gc)"/>
<circle cx="168" cy="189" r="6.8" fill="url(#gb)"/>
<circle cx="202" cy="83" r="8.4" fill="url(#gb)"/>
<circle cx="255" cy="192" r="7.3" fill="url(#gb)"/>
<circle cx="56" cy="143" r="7.7" fill="url(#ga)"/>
<circle cx="-3" cy="107" r="7.0" fill="url(#gc)"/>
<circle cx="185" cy="252" r="7.3" fill="url(#gb)"/>
<circle cx="57" cy="83" r="8.0" fill="url(#gc)"/>
<circle cx="44" cy="176" r="7.3" fill="url(#gb)"/>
<circle cx="250" cy="203" r="7.6" fill="url(#gc)"/>
<circle cx="119" cy="146" r="8.3" fill="url(#ga)"/>
<circle cx="83" cy="76" r="7.9" fill="url(#gc)"/>
<circle cx="159" cy="168" r="8.3" fill="url(#gc)"/>
<circle cx="273" cy="87" r="8.0" fill="url(#gc)"/>
<circle cx="25" cy="51" r="7.4" fill="url(#gc)"/>
<circle cx="232" cy="225" r="7.5" fill="url(#gc)"/>
<circle cx="104" cy="126" r="6.6" fill="url(#gb)"/>
<circle cx="30" cy="132" r="6.1" fill="url(#gc)"/>
<circle cx="82" cy="92" r="7.3" fill="url(#gb)"/>
<circle cx="74" cy="23" r="7.0" fill="url(#gc)"/>
<circle cx="281" cy="150" r="7.3" fill="url(#gc)"/>
<circle cx="99" cy="227" r="8.5" fill="url(#gc)"/>
<circle cx="1" cy="67" r="7.3" fill="url(#gc)"/>
<circle cx="11" cy="58" r="9.2" fill="url(#ga)"/>
<circle cx="109" cy="217" r="8.4" fill="url(#gc)"/>
<circle cx="182" cy="177" r="8.1" fill="url(#gc)"/>
<circle cx="235" cy="256" r="6.4" fill="url(#gc)"/>
<circle cx="285" cy="211" r="7.7" fill="url(#gb)"/>
<circle cx="39" cy="218" r="8.3" fill="url(#gc)"/>
<circle cx="59" cy="116" r="7.8" fill="url(#gc)"/>
<circle cx="132" cy="77" r="8.1" fill="url(#gc)"/>
<circle cx="128" cy="17" r="8.0" fill="url(#gc)"/>
<circle cx="255" cy="248" r="8.1" fill="url(#gc)"/>
<circle cx="1" cy="232" r="7.8" fill="url(#gb)"/>
<circle cx="64" cy="258" r="8.2" fill="url(#gb)"/>
<circle cx="220" cy="39" r="7.9" fill="url(#gc)"/>
<circle cx="-2" cy="215" r="7.0" fill="url(#gc)"/>
<circle cx="126" cy="182" r="9.1" fill="url(#ga)"/>
<circle cx="36" cy="96" r="8.2" fill="url(#gc)"/>
<circle cx="160" cy="55" r="7.7" fill="url(#gc)"/>
<circle cx="276" cy="71" r="6.7" fill="url(#gc)"/>
<circle cx="222" cy="207" r="7.9" fill="url(#gc)"/>
<circle cx="249" cy="121" r="6.2" fill="url(#gc)"/>
<circle cx="131" cy="40" r="6.3" fill="url(#gc)"/>
<circle cx="184" cy="46" r="7.7" fill="url(#gc)"/>
<circle cx="138" cy="191" r="8.2" fill="url(#gb)"/>
<circle cx="223" cy="234" r="6.6" fill="url(#gc)"/>
<circle cx="179" cy="236" r="8.2" fill="url(#gc)"/>
<circle cx="151" cy="20" r="7.4" fill="url(#ga)"/>
<circle cx="153" cy="120" r="6.8" fill="url(#gc)"/>
<circle cx="230" cy="146" r="7.7" fill="url(#gc)"/>
<circle cx="131" cy="122" r="9.3" fill="url(#ga)"/>
<circle cx="162" cy="138" r="8.4" fill="url(#gc)"/>
<circle cx="55" cy="194" r="8.4" fill="url(#gb)"/>
<circle cx="26" cy="280" r="6.0" fill="url(#gc)"/>
<circle cx="198" cy="26" r="6.9" fill="url(#gc)"/>
<circle cx="69" cy="97" r="8.2" fill="url(#gc)"/>
<circle cx="262" cy="76" r="8.2" fill="url(#gc)"/>
<circle cx="249" cy="34" r="7.3" fill="url(#gc)"/>
<circle cx="-4" cy="264" r="8.1" fill="url(#gc)"/>
<circle cx="191" cy="93" r="8.2" fill="url(#gc)"/>
<circle cx="42" cy="137" r="6.9" fill="url(#gc)"/>
<circle cx="151" cy="132" r="6.4" fill="url(#gc)"/>
<circle cx="55" cy="273" r="7.0" fill="url(#gb)"/>
<circle cx="184" cy="105" r="7.1" fill="url(#gc)"/>
<circle cx="-1" cy="183" r="8.5" fill="url(#gc)"/>
<circle cx="211" cy="139" r="7.5" fill="url(#gc)"/>
<circle cx="85" cy="205" r="8.0" fill="url(#gc)"/>
<circle cx="12" cy="0" r="7.6" fill="url(#gb)"/>
<circle cx="218" cy="173" r="7.2" fill="url(#gb)"/>
<circle cx="2" cy="248" r="8.1" fill="url(#gb)"/>
<circle cx="60" cy="-3" r="6.1" fill="url(#gc)"/>
<circle cx="272" cy="250" r="7.3" fill="url(#gc)"/>
<circle cx="-2" cy="38" r="6.0" fill="url(#gc)"/>
<circle cx="26" cy="-2" r="6.7" fill="url(#gc)"/>
<circle cx="273" cy="233" r="7.0" fill="url(#gc)"/>
<circle cx="39" cy="-2" r="6.9" fill="url(#gc)"/>
<circle cx="126" cy="257" r="7.0" fill="url(#gc)"/>
<circle cx="234" cy="61" r="6.5" fill="url(#gc)"/>
<circle cx="188" cy="165" r="6.5" fill="url(#gc)"/>
<circle cx="207" cy="112" r="6.4" fill="url(#gc)"/>
<circle cx="244" cy="217" r="6.6" fill="url(#gc)"/>
<circle cx="24" cy="241" r="7.4" fill="url(#gc)"/>
<circle cx="113" cy="117" r="6.9" fill="url(#gc)"/>
<circle cx="123" cy="246" r="6.6" fill="url(#gc)"/>
<circle cx="125" cy="205" r="6.3" fill="url(#gc)"/>
<circle cx="196" cy="141" r="8.6" fill="url(#gb)"/>
<circle cx="115" cy="261" r="7.5" fill="url(#gc)"/>
<circle cx="221" cy="83" r="6.2" fill="url(#gc)"/>
<circle cx="84" cy="238" r="7.6" fill="url(#gb)"/>
<circle cx="107" cy="159" r="6.6" fill="url(#gc)"/>
<circle cx="262" cy="30" r="7.9" fill="url(#gc)"/>
<circle cx="132" cy="167" r="7.1" fill="url(#ga)"/>
<circle cx="26" cy="260" r="6.8" fill="url(#gc)"/>
<circle cx="63" cy="171" r="8.6" fill="url(#gb)"/>
<circle cx="217" cy="129" r="6.8" fill="url(#gb)"/>
<circle cx="184" cy="149" r="6.7" fill="url(#gb)"/>
<circle cx="158" cy="10" r="7.2" fill="url(#ga)"/>
<circle cx="147" cy="72" r="6.2" fill="url(#gc)"/>
<circle cx="119" cy="-3" r="6.7" fill="url(#gc)"/>
<circle cx="138" cy="56" r="7.6" fill="url(#gb)"/>
<circle cx="253" cy="262" r="6.3" fill="url(#gc)"/>
<circle cx="56" cy="63" r="6.2" fill="url(#gc)"/>
<circle cx="53" cy="206" r="8.1" fill="url(#gb)"/>
<circle cx="97" cy="113" r="6.1" fill="url(#gc)"/>
<circle cx="45" cy="247" r="8.3" fill="url(#gb)"/>
<circle cx="79" cy="249" r="6.9" fill="url(#gc)"/>
<circle cx="162" cy="31" r="8.5" fill="url(#ga)"/>
<circle cx="148" cy="209" r="8.9" fill="url(#gb)"/>
<circle cx="212" cy="213" r="8.3" fill="url(#gc)"/>
<circle cx="172" cy="255" r="7.8" fill="url(#gc)"/>
<circle cx="193" cy="72" r="8.3" fill="url(#gc)"/>
<circle cx="37" cy="29" r="6.2" fill="url(#gc)"/>
<circle cx="117" cy="101" r="7.5" fill="url(#gc)"/>
<circle cx="195" cy="191" r="7.7" fill="url(#gb)"/>
<circle cx="129" cy="137" r="7.3" fill="url(#ga)"/>
<circle cx="285" cy="279" r="8.7" fill="url(#gb)"/>
<circle cx="42" cy="107" r="6.9" fill="url(#gc)"/>
<circle cx="126" cy="64" r="6.2" fill="url(#gc)"/>
<circle cx="103" cy="51" r="7.9" fill="url(#gb)"/>
<circle cx="263" cy="181" r="8.2" fill="url(#gc)"/>
<circle cx="271" cy="198" r="8.5" fill="url(#gb)"/>
<circle cx="96" cy="249" r="7.8" fill="url(#gb)"/>
<circle cx="16" cy="174" r="8.2" fill="url(#gc)"/>
<circle cx="253" cy="67" r="8.0" fill="url(#gc)"/>
<circle cx="153" cy="151" r="7.9" fill="url(#gc)"/>
<circle cx="144" cy="99" r="7.8" fill="url(#gc)"/>
<circle cx="55" cy="219" r="6.6" fill="url(#gc)"/>
<circle cx="38" cy="230" r="7.5" fill="url(#gc)"/>
<circle cx="107" cy="205" r="7.5" fill="url(#gc)"/>
<circle cx="67" cy="52" r="6.6" fill="url(#gc)"/>
<circle cx="181" cy="279" r="6.8" fill="url(#gc)"/>
<circle cx="211" cy="155" r="6.8" fill="url(#gc)"/>
<circle cx="47" cy="90" r="6.4" fill="url(#gc)"/>
<circle cx="164" cy="74" r="6.2" fill="url(#gc)"/>
<circle cx="225" cy="50" r="6.9" fill="url(#gc)"/>
<circle cx="174" cy="216" r="8.5" fill="url(#gc)"/>
<circle cx="114" cy="16" r="7.6" fill="url(#gc)"/>
<circle cx="37" cy="200" r="7.2" fill="url(#gc)"/>
<circle cx="174" cy="52" r="6.8" fill="url(#gc)"/>
<circle cx="193" cy="235" r="6.8" fill="url(#gb)"/>
<circle cx="43" cy="160" r="7.0" fill="url(#ga)"/>
<circle cx="91" cy="101" r="7.8" fill="url(#gb)"/>
<circle cx="38" cy="270" r="7.8" fill="url(#gc)"/>
<circle cx="181" cy="86" r="8.4" fill="url(#gc)"/>
<circle cx="246" cy="85" r="7.8" fill="url(#gc)"/>
<circle cx="23" cy="105" r="8.5" fill="url(#gb)"/>
<circle cx="216" cy="14" r="6.8" fill="url(#gc)"/>
<circle cx="283" cy="225" r="7.9" fill="url(#gc)"/>
<circle cx="142" cy="34" r="7.4" fill="url(#gc)"/>
<circle cx="97" cy="211" r="8.4" fill="url(#ga)"/>
<circle cx="277" cy="39" r="7.4" fill="url(#gc)"/>
<circle cx="237" cy="161" r="6.5" fill="url(#gc)"/>
<circle cx="264" cy="148" r="8.2" fill="url(#gc)"/>
<circle cx="83" cy="-1" r="7.8" fill="url(#gc)"/>
<circle cx="280" cy="26" r="8.2" fill="url(#gc)"/>
<circle cx="171" cy="121" r="7.4" fill="url(#gc)"/>
<circle cx="89" cy="35" r="6.8" fill="url(#gc)"/>
<circle cx="285" cy="63" r="6.4" fill="url(#gc)"/>
<circle cx="276" cy="100" r="7.9" fill="url(#gc)"/>
<circle cx="254" cy="230" r="7.9" fill="url(#gc)"/>
<circle cx="44" cy="280" r="6.6" fill="url(#gc)"/>
<circle cx="236" cy="198" r="6.5" fill="url(#gc)"/>
<circle cx="144" cy="177" r="7.3" fill="url(#ga)"/>
<circle cx="187" cy="32" r="7.1" fill="url(#gc)"/>
<circle cx="117" cy="195" r="6.8" fill="url(#gb)"/>
<circle cx="254" cy="276" r="8.1" fill="url(#gc)"/>
<circle cx="271" cy="113" r="8.3" fill="url(#gc)"/>
<circle cx="276" cy="3" r="6.5" fill="url(#gc)"/>
<circle cx="58" cy="131" r="8.6" fill="url(#ga)"/>
<circle cx="226" cy="277" r="8.4" fill="url(#gc)"/>
<circle cx="73" cy="139" r="8.8" fill="url(#ga)"/>
<circle cx="281" cy="125" r="6.6" fill="url(#gc)"/>
<circle cx="28" cy="18" r="7.8" fill="url(#ga)"/>
<circle cx="237" cy="35" r="7.5" fill="url(#gc)"/>
<circle cx="73" cy="160" r="8.6" fill="url(#gb)"/>
<circle cx="94" cy="165" r="6.1" fill="url(#gc)"/>
<circle cx="203" cy="-3" r="7.3" fill="url(#gb)"/>
<circle cx="164" cy="239" r="6.8" fill="url(#gc)"/>
<circle cx="283" cy="14" r="7.4" fill="url(#gc)"/>
<circle cx="269" cy="275" r="7.7" fill="url(#gc)"/>
<circle cx="199" cy="219" r="8.4" fill="url(#gc)"/>
<circle cx="47" cy="77" r="7.0" fill="url(#gc)"/>
<circle cx="17" cy="137" r="6.5" fill="url(#gc)"/>
<circle cx="11" cy="152" r="7.9" fill="url(#ga)"/>
<circle cx="237" cy="112" r="8.4" fill="url(#gc)"/>
<circle cx="264" cy="42" r="7.2" fill="url(#gc)"/>
<circle cx="284" cy="110" r="7.9" fill="url(#gc)"/>
<circle cx="-4" cy="51" r="7.5" fill="url(#gb)"/>
<circle cx="191" cy="207" r="6.7" fill="url(#gb)"/>
<circle cx="284" cy="253" r="7.0" fill="url(#gc)"/>
<circle cx="159" cy="106" r="7.2" fill="url(#gc)"/>
<circle cx="109" cy="138" r="9.0" fill="url(#gb)"/>
<circle cx="60" cy="42" r="8.0" fill="url(#gc)"/>
<circle cx="149" cy="241" r="9.0" fill="url(#gb)"/>
<circle cx="-2" cy="119" r="7.1" fill="url(#gc)"/>
<circle cx="195" cy="263" r="7.2" fill="url(#gc)"/>
<circle cx="-2" cy="197" r="7.7" fill="url(#gc)"/>
<circle cx="195" cy="41" r="8.8" fill="url(#gb)"/>
<circle cx="248" cy="19" r="7.3" fill="url(#gc)"/>
<circle cx="103" cy="192" r="7.3" fill="url(#gc)"/>
<circle cx="54" cy="239" r="6.8" fill="url(#gc)"/>
<circle cx="32" cy="250" r="8.5" fill="url(#gb)"/>
<circle cx="173" cy="151" r="7.3" fill="url(#gb)"/>
<circle cx="151" cy="-2" r="7.9" fill="url(#gb)"/>
<circle cx="198" cy="103" r="6.7" fill="url(#gc)"/>
<circle cx="121" cy="53" r="6.7" fill="url(#gb)"/>
<circle cx="130" cy="218" r="7.3" fill="url(#gc)"/>
<circle cx="187" cy="-0" r="8.2" fill="url(#gc)"/>
<circle cx="205" cy="129" r="7.1" fill="url(#gb)"/>
<circle cx="-4" cy="136" r="8.0" fill="url(#gb)"/>
<circle cx="244" cy="186" r="8.7" fill="url(#gb)"/>
<circle cx="235" cy="100" r="7.3" fill="url(#gc)"/>
<circle cx="227" cy="73" r="7.7" fill="url(#gc)"/>
<circle cx="200" cy="251" r="8.2" fill="url(#gc)"/>
<circle cx="55" cy="104" r="7.2" fill="url(#gc)"/>
<circle cx="10" cy="239" r="7.0" fill="url(#gb)"/>
<circle cx="171" cy="18" r="6.5" fill="url(#gb)"/>
<circle cx="155" cy="192" r="7.7" fill="url(#ga)"/>
<circle cx="119" cy="30" r="7.9" fill="url(#gb)"/>
<circle cx="169" cy="177" r="7.3" fill="url(#gc)"/>
<circle cx="218" cy="0" r="6.6" fill="url(#gc)"/>
<circle cx="50" cy="260" r="8.1" fill="url(#gc)"/>
<circle cx="143" cy="143" r="7.8" fill="url(#gc)"/>
<circle cx="265" cy="62" r="7.6" fill="url(#gc)"/>
<circle cx="8" cy="97" r="8.1" fill="url(#gc)"/>
<circle cx="238" cy="-4" r="7.4" fill="url(#gc)"/>
<circle cx="159" cy="280" r="7.3" fill="url(#gb)"/>
<circle cx="87" cy="136" r="6.0" fill="url(#gc)"/>
<circle cx="132" cy="277" r="6.5" fill="url(#gc)"/>
<circle cx="214" cy="279" r="8.3" fill="url(#gc)"/>
<circle cx="97" cy="-3" r="6.1" fill="url(#gc)"/>
<circle cx="184" cy="119" r="8.4" fill="url(#gc)"/>
<circle cx="38" cy="10" r="6.2" fill="url(#gc)"/>
<circle cx="8" cy="207" r="6.6" fill="url(#gc)"/>
<circle cx="104" cy="97" r="6.7" fill="url(#gb)"/>
<circle cx="239" cy="74" r="7.4" fill="url(#gc)"/>
<circle cx="-1" cy="-1" r="7.5" fill="url(#gc)"/>
<circle cx="262" cy="121" r="6.7" fill="url(#gc)"/>
<circle cx="73" cy="7" r="7.8" fill="url(#gc)"/>
<circle cx="80" cy="182" r="7.3" fill="url(#gc)"/>
<circle cx="112" cy="75" r="6.5" fill="url(#gc)"/>
<circle cx="284" cy="80" r="7.5" fill="url(#gc)"/>
<circle cx="37" cy="148" r="7.0" fill="url(#gb)"/>
<circle cx="-3" cy="21" r="7.4" fill="url(#gc)"/>
<circle cx="124" cy="110" r="8.0" fill="url(#ga)"/>
<circle cx="-2" cy="277" r="8.2" fill="url(#gc)"/>
<circle cx="262" cy="206" r="8.4" fill="url(#gc)"/>
<circle cx="207" cy="189" r="7.0" fill="url(#gc)"/>
<circle cx="55" cy="181" r="8.7" fill="url(#ga)"/>
<circle cx="49" cy="32" r="6.9" fill="url(#gc)"/>
<circle cx="165" cy="44" r="6.2" fill="url(#gc)"/>
<circle cx="119" cy="161" r="6.7" fill="url(#gb)"/>
<circle cx="196" cy="156" r="6.7" fill="url(#gb)"/>
<circle cx="132" cy="-4" r="8.3" fill="url(#gc)"/>
<circle cx="157" cy="180" r="7.6" fill="url(#gc)"/>
<circle cx="284" cy="49" r="6.1" fill="url(#gc)"/>
<circle cx="23" cy="164" r="9.0" fill="url(#ga)"/>
<circle cx="139" cy="87" r="6.1" fill="url(#gc)"/>
<circle cx="95" cy="75" r="7.9" fill="url(#gb)"/>
<circle cx="284" cy="240" r="6.2" fill="url(#gc)"/>
<circle cx="271" cy="158" r="7.9" fill="url(#gc)"/>
<circle cx="174" cy="2" r="12" fill="url(#gw)"/>
<circle cx="174" cy="12" r="9" fill="url(#ga)"/>
<circle cx="102" cy="60" r="9" fill="url(#ga)"/>
<circle cx="52" cy="198" r="8.5" fill="url(#ga)"/>
<circle cx="108" cy="210" r="9" fill="url(#ga)"/>
<circle cx="196" cy="104" r="8" fill="url(#ga)"/>
<circle cx="208" cy="85" r="8" fill="url(#ga)"/>
<circle cx="224" cy="179" r="9" fill="url(#ga)"/>
<circle cx="46" cy="35" r="7" fill="url(#ga)"/>
<circle cx="86" cy="38" r="8" fill="url(#ga)"/>
</svg>
<svg x="494" y="517" width="273.5" height="275" overflow="hidden">
<rect width="273.5" height="275" fill="#a02810" filter="url(#afmbase)"/>
<circle cx="241" cy="79" r="10" fill="url(#gd)"/>
<circle cx="240" cy="37" r="12" fill="url(#gd)"/>
<circle cx="27" cy="190" r="12" fill="url(#gd)"/>
<circle cx="260" cy="232" r="11" fill="url(#gd)"/>
<circle cx="54" cy="41" r="11" fill="url(#gd)"/>
<circle cx="139" cy="20" r="13" fill="url(#gd)"/>
<circle cx="139" cy="193" r="9" fill="url(#gd)"/>
<circle cx="67" cy="3" r="10" fill="url(#gd)"/>
<circle cx="73" cy="116" r="10" fill="url(#gd)"/>
<circle cx="86" cy="140" r="18" fill="url(#gd)"/>
<circle cx="255" cy="153" r="16" fill="url(#gd)"/>
<circle cx="11" cy="78" r="15" fill="url(#gd)"/>
<circle cx="161" cy="247" r="15" fill="url(#gd)"/>
<circle cx="206" cy="28" r="14" fill="url(#gd)"/>
<circle cx="66" cy="13" r="12" fill="url(#gd)"/>
<circle cx="236" cy="93" r="14" fill="url(#gd)"/>
<circle cx="231" cy="248" r="6.7" fill="url(#gc)"/>
<circle cx="108" cy="43" r="6.8" fill="url(#gc)"/>
<circle cx="270" cy="53" r="8.0" fill="url(#gb)"/>
<circle cx="80" cy="-0" r="7.9" fill="url(#gb)"/>
<circle cx="92" cy="44" r="6.8" fill="url(#gc)"/>
<circle cx="61" cy="112" r="7.6" fill="url(#gc)"/>
<circle cx="114" cy="163" r="7.1" fill="url(#gc)"/>
<circle cx="23" cy="20" r="7.7" fill="url(#gc)"/>
<circle cx="143" cy="98" r="8.9" fill="url(#gb)"/>
<circle cx="138" cy="196" r="7.9" fill="url(#ga)"/>
<circle cx="14" cy="1" r="7.6" fill="url(#gc)"/>
<circle cx="205" cy="95" r="8.1" fill="url(#ga)"/>
<circle cx="-3" cy="232" r="6.0" fill="url(#gc)"/>
<circle cx="242" cy="5" r="8.2" fill="url(#gb)"/>
<circle cx="210" cy="276" r="6.3" fill="url(#gc)"/>
<circle cx="46" cy="270" r="8.9" fill="url(#gb)"/>
<circle cx="19" cy="167" r="8.2" fill="url(#gc)"/>
<circle cx="129" cy="40" r="7.7" fill="url(#gc)"/>
<circle cx="159" cy="124" r="8.5" fill="url(#gc)"/>
<circle cx="120" cy="201" r="9.5" fill="url(#ga)"/>
<circle cx="129" cy="107" r="6.1" fill="url(#gc)"/>
<circle cx="59" cy="52" r="6.7" fill="url(#gc)"/>
<circle cx="26" cy="201" r="8.6" fill="url(#gb)"/>
<circle cx="168" cy="2" r="6.6" fill="url(#gc)"/>
<circle cx="118" cy="22" r="7.7" fill="url(#gb)"/>
<circle cx="209" cy="138" r="8.6" fill="url(#gb)"/>
<circle cx="169" cy="253" r="8.0" fill="url(#ga)"/>
<circle cx="257" cy="274" r="8.5" fill="url(#gc)"/>
<circle cx="79" cy="151" r="9.5" fill="url(#ga)"/>
<circle cx="100" cy="262" r="8.3" fill="url(#ga)"/>
<circle cx="141" cy="173" r="7.4" fill="url(#ga)"/>
<circle cx="216" cy="80" r="8.0" fill="url(#gb)"/>
<circle cx="51" cy="101" r="9.1" fill="url(#ga)"/>
<circle cx="234" cy="84" r="7.5" fill="url(#gc)"/>
<circle cx="169" cy="234" r="8.6" fill="url(#ga)"/>
<circle cx="259" cy="202" r="6.9" fill="url(#gb)"/>
<circle cx="166" cy="98" r="7.2" fill="url(#gc)"/>
<circle cx="134" cy="146" r="7.4" fill="url(#ga)"/>
<circle cx="202" cy="73" r="8.3" fill="url(#gc)"/>
<circle cx="29" cy="231" r="7.2" fill="url(#gc)"/>
<circle cx="78" cy="224" r="8.0" fill="url(#gb)"/>
<circle cx="74" cy="247" r="7.3" fill="url(#gb)"/>
<circle cx="218" cy="208" r="6.5" fill="url(#gc)"/>
<circle cx="225" cy="165" r="8.7" fill="url(#ga)"/>
<circle cx="100" cy="217" r="7.0" fill="url(#ga)"/>
<circle cx="105" cy="181" r="8.9" fill="url(#ga)"/>
<circle cx="276" cy="256" r="7.7" fill="url(#gb)"/>
<circle cx="35" cy="169" r="9.0" fill="url(#gb)"/>
<circle cx="21" cy="127" r="6.7" fill="url(#gb)"/>
<circle cx="251" cy="258" r="6.8" fill="url(#gc)"/>
<circle cx="180" cy="87" r="6.4" fill="url(#gc)"/>
<circle cx="255" cy="239" r="7.6" fill="url(#gb)"/>
<circle cx="99" cy="230" r="9.0" fill="url(#ga)"/>
<circle cx="200" cy="166" r="7.9" fill="url(#gc)"/>
<circle cx="79" cy="97" r="7.2" fill="url(#gc)"/>
<circle cx="142" cy="28" r="7.6" fill="url(#gb)"/>
<circle cx="117" cy="217" r="7.9" fill="url(#gc)"/>
<circle cx="59" cy="79" r="8.0" fill="url(#gc)"/>
<circle cx="10" cy="153" r="8.3" fill="url(#gb)"/>
<circle cx="88" cy="246" r="8.9" fill="url(#ga)"/>
<circle cx="258" cy="34" r="6.5" fill="url(#gc)"/>
<circle cx="211" cy="13" r="8.3" fill="url(#gb)"/>
<circle cx="161" cy="170" r="8.7" fill="url(#gb)"/>
<circle cx="191" cy="274" r="6.7" fill="url(#gc)"/>
<circle cx="145" cy="83" r="8.5" fill="url(#gb)"/>
<circle cx="232" cy="137" r="9.8" fill="url(#ga)"/>
<circle cx="146" cy="261" r="7.4" fill="url(#gc)"/>
<circle cx="57" cy="145" r="7.7" fill="url(#gb)"/>
<circle cx="228" cy="179" r="8.4" fill="url(#gc)"/>
<circle cx="107" cy="6" r="6.1" fill="url(#gc)"/>
<circle cx="262" cy="94" r="8.6" fill="url(#gb)"/>
<circle cx="171" cy="37" r="8.1" fill="url(#gc)"/>
<circle cx="18" cy="48" r="8.3" fill="url(#gc)"/>
<circle cx="32" cy="269" r="7.7" fill="url(#gc)"/>
<circle cx="173" cy="269" r="7.6" fill="url(#gc)"/>
<circle cx="277" cy="7" r="6.1" fill="url(#gc)"/>
<circle cx="179" cy="131" r="7.4" fill="url(#gc)"/>
<circle cx="93" cy="101" r="7.8" fill="url(#gb)"/>
<circle cx="7" cy="36" r="8.7" fill="url(#gb)"/>
<circle cx="247" cy="85" r="7.1" fill="url(#gc)"/>
<circle cx="99" cy="155" r="6.8" fill="url(#gc)"/>
<circle cx="178" cy="218" r="7.6" fill="url(#ga)"/>
<circle cx="69" cy="234" r="7.6" fill="url(#gc)"/>
<circle cx="238" cy="123" r="7.5" fill="url(#gb)"/>
<circle cx="45" cy="37" r="6.7" fill="url(#gb)"/>
<circle cx="21" cy="220" r="8.7" fill="url(#gb)"/>
<circle cx="57" cy="176" r="8.1" fill="url(#gc)"/>
<circle cx="244" cy="52" r="7.0" fill="url(#gc)"/>
<circle cx="6" cy="199" r="6.3" fill="url(#gc)"/>
<circle cx="84" cy="272" r="7.5" fill="url(#ga)"/>
<circle cx="253" cy="-4" r="8.0" fill="url(#gb)"/>
<circle cx="23" cy="141" r="6.9" fill="url(#gc)"/>
<circle cx="274" cy="199" r="9.1" fill="url(#ga)"/>
<circle cx="251" cy="116" r="6.1" fill="url(#gc)"/>
<circle cx="264" cy="184" r="6.3" fill="url(#gc)"/>
<circle cx="164" cy="182" r="7.2" fill="url(#gb)"/>
<circle cx="191" cy="52" r="8.0" fill="url(#gc)"/>
<circle cx="166" cy="111" r="7.3" fill="url(#gc)"/>
<circle cx="191" cy="194" r="6.7" fill="url(#gc)"/>
<circle cx="240" cy="217" r="7.1" fill="url(#gc)"/>
<circle cx="197" cy="85" r="7.3" fill="url(#gc)"/>
<circle cx="19" cy="94" r="7.6" fill="url(#gc)"/>
<circle cx="245" cy="190" r="7.2" fill="url(#ga)"/>
<circle cx="241" cy="271" r="6.2" fill="url(#gc)"/>
<circle cx="58" cy="221" r="8.6" fill="url(#gb)"/>
<circle cx="42" cy="64" r="8.5" fill="url(#gc)"/>
<circle cx="53" cy="191" r="7.5" fill="url(#gb)"/>
<circle cx="71" cy="122" r="7.4" fill="url(#ga)"/>
<circle cx="150" cy="246" r="8.4" fill="url(#ga)"/>
<circle cx="52" cy="210" r="7.7" fill="url(#ga)"/>
<circle cx="167" cy="138" r="7.9" fill="url(#gc)"/>
<circle cx="132" cy="160" r="7.9" fill="url(#ga)"/>
<circle cx="104" cy="85" r="7.0" fill="url(#gc)"/>
<circle cx="41" cy="135" r="8.9" fill="url(#gb)"/>
<circle cx="263" cy="131" r="7.8" fill="url(#gc)"/>
<circle cx="211" cy="245" r="8.6" fill="url(#gb)"/>
<circle cx="109" cy="123" r="8.5" fill="url(#gc)"/>
<circle cx="222" cy="41" r="6.9" fill="url(#gc)"/>
<circle cx="256" cy="140" r="7.7" fill="url(#gb)"/>
<circle cx="187" cy="168" r="6.3" fill="url(#gc)"/>
<circle cx="78" cy="47" r="7.5" fill="url(#gc)"/>
<circle cx="31" cy="48" r="6.5" fill="url(#gc)"/>
<circle cx="156" cy="196" r="8.3" fill="url(#ga)"/>
<circle cx="94" cy="30" r="6.7" fill="url(#gc)"/>
<circle cx="156" cy="24" r="8.2" fill="url(#gb)"/>
<circle cx="122" cy="90" r="8.2" fill="url(#gc)"/>
<circle cx="217" cy="129" r="8.3" fill="url(#gb)"/>
<circle cx="121" cy="74" r="7.0" fill="url(#gc)"/>
<circle cx="184" cy="256" r="6.6" fill="url(#gc)"/>
<circle cx="266" cy="-4" r="8.2" fill="url(#gb)"/>
<circle cx="273" cy="99" r="8.3" fill="url(#gb)"/>
<circle cx="254" cy="164" r="9.0" fill="url(#ga)"/>
<circle cx="77" cy="17" r="8.4" fill="url(#gc)"/>
<circle cx="179" cy="116" r="8.0" fill="url(#gb)"/>
<circle cx="8" cy="174" r="8.3" fill="url(#gc)"/>
<circle cx="199" cy="24" r="6.9" fill="url(#gc)"/>
<circle cx="226" cy="98" r="8.8" fill="url(#gb)"/>
<circle cx="271" cy="242" r="7.1" fill="url(#ga)"/>
<circle cx="71" cy="273" r="9.8" fill="url(#ga)"/>
<circle cx="2" cy="73" r="7.9" fill="url(#ga)"/>
<circle cx="36" cy="247" r="6.7" fill="url(#gb)"/>
<circle cx="199" cy="211" r="7.7" fill="url(#gc)"/>
<circle cx="73" cy="201" r="8.7" fill="url(#ga)"/>
<circle cx="173" cy="151" r="7.2" fill="url(#ga)"/>
<circle cx="210" cy="-4" r="8.5" fill="url(#gc)"/>
<circle cx="245" cy="29" r="8.1" fill="url(#gc)"/>
<circle cx="272" cy="268" r="7.4" fill="url(#gc)"/>
<circle cx="193" cy="146" r="7.7" fill="url(#ga)"/>
<circle cx="255" cy="58" r="8.5" fill="url(#gc)"/>
<circle cx="155" cy="54" r="7.7" fill="url(#gc)"/>
<circle cx="265" cy="231" r="7.7" fill="url(#gb)"/>
<circle cx="154" cy="106" r="6.7" fill="url(#gc)"/>
<circle cx="137" cy="240" r="8.4" fill="url(#gc)"/>
<circle cx="106" cy="70" r="6.5" fill="url(#gc)"/>
<circle cx="50" cy="13" r="6.6" fill="url(#gc)"/>
<circle cx="18" cy="237" r="6.8" fill="url(#gb)"/>
<circle cx="140" cy="72" r="7.5" fill="url(#gb)"/>
<circle cx="243" cy="176" r="8.1" fill="url(#gc)"/>
<circle cx="119" cy="276" r="6.2" fill="url(#gc)"/>
<circle cx="204" cy="110" r="7.1" fill="url(#gc)"/>
<circle cx="-3" cy="117" r="7.5" fill="url(#gb)"/>
<circle cx="179" cy="61" r="6.1" fill="url(#gc)"/>
<circle cx="47" cy="121" r="7.0" fill="url(#gb)"/>
<circle cx="10" cy="259" r="6.9" fill="url(#gc)"/>
<circle cx="127" cy="62" r="6.5" fill="url(#gc)"/>
<circle cx="84" cy="114" r="8.8" fill="url(#gb)"/>
<circle cx="94" cy="134" r="6.6" fill="url(#gc)"/>
<circle cx="132" cy="17" r="6.8" fill="url(#gc)"/>
<circle cx="159" cy="222" r="7.5" fill="url(#gc)"/>
<circle cx="123" cy="234" r="7.6" fill="url(#gb)"/>
<circle cx="57" cy="37" r="7.1" fill="url(#gc)"/>
<circle cx="274" cy="24" r="7.8" fill="url(#gb)"/>
<circle cx="46" cy="161" r="7.9" fill="url(#gb)"/>
<circle cx="82" cy="170" r="9.5" fill="url(#ga)"/>
<circle cx="-2" cy="159" r="7.6" fill="url(#gb)"/>
<circle cx="182" cy="33" r="8.3" fill="url(#gc)"/>
<circle cx="86" cy="87" r="7.9" fill="url(#gc)"/>
<circle cx="274" cy="39" r="6.2" fill="url(#gc)"/>
<circle cx="191" cy="115" r="7.0" fill="url(#gc)"/>
<circle cx="28" cy="72" r="7.3" fill="url(#gb)"/>
<circle cx="208" cy="157" r="6.1" fill="url(#gc)"/>
<circle cx="120" cy="261" r="7.2" fill="url(#gc)"/>
<circle cx="90" cy="192" r="6.4" fill="url(#gc)"/>
<circle cx="1" cy="87" r="6.8" fill="url(#gc)"/>
<circle cx="32" cy="104" r="7.0" fill="url(#gc)"/>
<circle cx="227" cy="151" r="8.3" fill="url(#gc)"/>
<circle cx="142" cy="208" r="7.7" fill="url(#gc)"/>
<circle cx="163" cy="87" r="9.5" fill="url(#ga)"/>
<circle cx="222" cy="258" r="6.9" fill="url(#gc)"/>
<circle cx="166" cy="15" r="7.4" fill="url(#gb)"/>
<circle cx="221" cy="64" r="8.6" fill="url(#gb)"/>
<circle cx="194" cy="103" r="7.2" fill="url(#gc)"/>
<circle cx="11" cy="113" r="7.7" fill="url(#gc)"/>
<circle cx="239" cy="67" r="6.8" fill="url(#gc)"/>
<circle cx="38" cy="83" r="7.3" fill="url(#gb)"/>
<circle cx="235" cy="205" r="6.9" fill="url(#gb)"/>
<circle cx="183" cy="238" r="9.9" fill="url(#ga)"/>
<circle cx="194" cy="232" r="6.6" fill="url(#gc)"/>
<circle cx="69" cy="31" r="8.5" fill="url(#gc)"/>
<circle cx="62" cy="66" r="7.6" fill="url(#gc)"/>
<circle cx="34" cy="211" r="6.1" fill="url(#gc)"/>
<circle cx="223" cy="7" r="7.5" fill="url(#gb)"/>
<circle cx="75" cy="181" r="8.5" fill="url(#ga)"/>
<circle cx="180" cy="191" r="6.0" fill="url(#gc)"/>
<circle cx="268" cy="84" r="8.7" fill="url(#gb)"/>
<circle cx="216" cy="117" r="7.2" fill="url(#gc)"/>
<circle cx="93" cy="73" r="7.6" fill="url(#gb)"/>
<circle cx="107" cy="142" r="8.0" fill="url(#ga)"/>
<circle cx="116" cy="34" r="7.5" fill="url(#gc)"/>
<circle cx="221" cy="239" r="7.2" fill="url(#ga)"/>
<circle cx="6" cy="58" r="9.9" fill="url(#ga)"/>
<circle cx="261" cy="21" r="8.4" fill="url(#gc)"/>
<circle cx="56" cy="256" r="9.8" fill="url(#ga)"/>
<circle cx="3" cy="-4" r="7.3" fill="url(#gb)"/>
<circle cx="37" cy="24" r="7.6" fill="url(#gc)"/>
<circle cx="255" cy="217" r="6.4" fill="url(#gc)"/>
<circle cx="109" cy="252" r="8.7" fill="url(#gb)"/>
<circle cx="59" cy="5" r="8.9" fill="url(#gb)"/>
<circle cx="134" cy="269" r="9.9" fill="url(#ga)"/>
<circle cx="38" cy="189" r="7.4" fill="url(#ga)"/>
<circle cx="272" cy="157" r="8.2" fill="url(#gc)"/>
<circle cx="191" cy="132" r="7.7" fill="url(#ga)"/>
<circle cx="23" cy="156" r="6.1" fill="url(#gc)"/>
<circle cx="145" cy="121" r="7.7" fill="url(#gc)"/>
<circle cx="241" cy="109" r="8.1" fill="url(#ga)"/>
<circle cx="159" cy="74" r="9.5" fill="url(#ga)"/>
<circle cx="141" cy="134" r="7.0" fill="url(#gc)"/>
<circle cx="-3" cy="180" r="7.1" fill="url(#gc)"/>
<circle cx="78" cy="77" r="8.8" fill="url(#ga)"/>
<circle cx="-3" cy="253" r="7.6" fill="url(#ga)"/>
<circle cx="130" cy="-3" r="6.7" fill="url(#gc)"/>
<circle cx="214" cy="174" r="8.5" fill="url(#ga)"/>
<circle cx="216" cy="30" r="6.4" fill="url(#gc)"/>
<circle cx="6" cy="98" r="9.9" fill="url(#ga)"/>
<circle cx="118" cy="113" r="8.3" fill="url(#gc)"/>
<circle cx="168" cy="49" r="7.5" fill="url(#ga)"/>
<circle cx="98" cy="204" r="7.9" fill="url(#gb)"/>
<circle cx="157" cy="156" r="7.1" fill="url(#gc)"/>
<circle cx="131" cy="221" r="7.2" fill="url(#ga)"/>
<circle cx="50" cy="233" r="8.1" fill="url(#gc)"/>
<circle cx="148" cy="40" r="7.9" fill="url(#gc)"/>
<circle cx="120" cy="173" r="6.6" fill="url(#gb)"/>
<circle cx="28" cy="32" r="7.1" fill="url(#gc)"/>
<circle cx="81" cy="35" r="6.8" fill="url(#gc)"/>
<circle cx="201" cy="255" r="8.0" fill="url(#gc)"/>
<circle cx="189" cy="4" r="6.8" fill="url(#gc)"/>
<circle cx="58" cy="22" r="7.1" fill="url(#gc)"/>
<circle cx="209" cy="223" r="7.4" fill="url(#ga)"/>
<circle cx="227" cy="25" r="7.7" fill="url(#gc)"/>
<circle cx="190" cy="17" r="6.7" fill="url(#gb)"/>
<circle cx="7" cy="224" r="7.0" fill="url(#gc)"/>
<circle cx="173" cy="201" r="7.8" fill="url(#gb)"/>
<circle cx="104" cy="111" r="6.3" fill="url(#gc)"/>
<circle cx="275" cy="119" r="7.1" fill="url(#ga)"/>
<circle cx="160" cy="272" r="7.1" fill="url(#gc)"/>
<circle cx="75" cy="60" r="6.6" fill="url(#gc)"/>
<circle cx="178" cy="14" r="6.2" fill="url(#gc)"/>
<circle cx="39" cy="5" r="6.8" fill="url(#gc)"/>
<circle cx="-4" cy="211" r="6.1" fill="url(#gc)"/>
<circle cx="270" cy="71" r="8.8" fill="url(#gb)"/>
<circle cx="124" cy="188" r="7.3" fill="url(#ga)"/>
<circle cx="105" cy="22" r="8.1" fill="url(#gb)"/>
<circle cx="231" cy="-3" r="7.6" fill="url(#gc)"/>
<circle cx="214" cy="104" r="6.5" fill="url(#gb)"/>
<circle cx="196" cy="41" r="7.4" fill="url(#gc)"/>
<circle cx="8" cy="272" r="8.0" fill="url(#ga)"/>
<circle cx="15" cy="185" r="7.3" fill="url(#gc)"/>
<circle cx="181" cy="99" r="8.8" fill="url(#gb)"/>
<circle cx="121" cy="149" r="6.9" fill="url(#gc)"/>
<circle cx="268" cy="213" r="6.3" fill="url(#gc)"/>
<circle cx="141" cy="58" r="6.0" fill="url(#gc)"/>
<circle cx="-3" cy="6" r="6.7" fill="url(#gc)"/>
<circle cx="228" cy="225" r="7.2" fill="url(#gc)"/>
<circle cx="206" cy="61" r="8.0" fill="url(#gb)"/>
<circle cx="92" cy="-4" r="8.1" fill="url(#gc)"/>
<circle cx="275" cy="180" r="7.7" fill="url(#gb)"/>
<circle cx="155" cy="143" r="6.9" fill="url(#gc)"/>
<circle cx="246" cy="133" r="8.0" fill="url(#gb)"/>
<circle cx="87" cy="216" r="6.2" fill="url(#gc)"/>
<circle cx="146" cy="-0" r="6.5" fill="url(#gc)"/>
<circle cx="261" cy="250" r="8.3" fill="url(#ga)"/>
<circle cx="146" cy="17" r="7.0" fill="url(#gb)"/>
<circle cx="4" cy="131" r="7.9" fill="url(#gc)"/>
<circle cx="122" cy="131" r="8.1" fill="url(#ga)"/>
<circle cx="100" cy="277" r="6.7" fill="url(#gc)"/>
<circle cx="238" cy="39" r="7.6" fill="url(#gc)"/>
<circle cx="238" cy="233" r="7.4" fill="url(#gb)"/>
<circle cx="112" cy="55" r="8.0" fill="url(#gc)"/>
<circle cx="145" cy="156" r="9.3" fill="url(#ga)"/>
<circle cx="206" cy="47" r="6.8" fill="url(#gb)"/>
<circle cx="238" cy="164" r="8.4" fill="url(#gc)"/>
<circle cx="27" cy="2" r="7.3" fill="url(#gc)"/>
<circle cx="274" cy="137" r="6.8" fill="url(#gc)"/>
<circle cx="17" cy="66" r="6.2" fill="url(#gc)"/>
<circle cx="2" cy="21" r="8.4" fill="url(#gc)"/>
<circle cx="152" cy="183" r="8.3" fill="url(#gb)"/>
<circle cx="190" cy="73" r="6.1" fill="url(#gc)"/>
<circle cx="203" cy="186" r="7.1" fill="url(#gc)"/>
<circle cx="215" cy="186" r="6.4" fill="url(#gc)"/>
<circle cx="167" cy="61" r="6.6" fill="url(#gb)"/>
<circle cx="243" cy="150" r="8.3" fill="url(#gc)"/>
<circle cx="244" cy="248" r="9.2" fill="url(#ga)"/>
<circle cx="152" cy="233" r="8.9" fill="url(#ga)"/>
<circle cx="44" cy="201" r="6.6" fill="url(#gc)"/>
<circle cx="251" cy="14" r="8.0" fill="url(#gc)"/>
<circle cx="204" cy="126" r="7.3" fill="url(#gb)"/>
<circle cx="94" cy="166" r="7.4" fill="url(#gb)"/>
<circle cx="132" cy="122" r="8.6" fill="url(#gb)"/>
<circle cx="10" cy="247" r="8.2" fill="url(#gb)"/>
<circle cx="36" cy="153" r="8.0" fill="url(#gc)"/>
<circle cx="226" cy="271" r="7.7" fill="url(#gc)"/>
<circle cx="111" cy="234" r="9.7" fill="url(#ga)"/>
<circle cx="22" cy="253" r="8.7" fill="url(#gb)"/>
<circle cx="87" cy="58" r="6.4" fill="url(#gc)"/>
<circle cx="58" cy="278" r="6.0" fill="url(#gc)"/>
<circle cx="61" cy="129" r="7.5" fill="url(#gc)"/>
<circle cx="65" cy="163" r="6.7" fill="url(#gc)"/>
<circle cx="140" cy="228" r="6.6" fill="url(#gb)"/>
<circle cx="227" cy="74" r="7.3" fill="url(#gc)"/>
<circle cx="70" cy="214" r="8.2" fill="url(#ga)"/>
<circle cx="33" cy="116" r="9.1" fill="url(#ga)"/>
<circle cx="40" cy="224" r="8.0" fill="url(#gc)"/>
<circle cx="-3" cy="267" r="9.1" fill="url(#ga)"/>
<circle cx="206" cy="200" r="7.3" fill="url(#ga)"/>
<circle cx="266" cy="169" r="8.2" fill="url(#gb)"/>
<circle cx="44" cy="51" r="7.4" fill="url(#gb)"/>
<circle cx="190" cy="180" r="8.3" fill="url(#gb)"/>
<circle cx="75" cy="136" r="7.8" fill="url(#gc)"/>
<circle cx="62" cy="246" r="8.2" fill="url(#ga)"/>
<circle cx="254" cy="71" r="6.2" fill="url(#gc)"/>
<circle cx="64" cy="188" r="9.4" fill="url(#ga)"/>
<circle cx="89" cy="258" r="6.9" fill="url(#gb)"/>
<circle cx="129" cy="251" r="8.3" fill="url(#ga)"/>
<circle cx="75" cy="261" r="6.5" fill="url(#gb)"/>
<circle cx="265" cy="111" r="7.2" fill="url(#gc)"/>
<circle cx="117" cy="-1" r="6.5" fill="url(#gc)"/>
<circle cx="277" cy="227" r="7.0" fill="url(#gc)"/>
<circle cx="60" cy="201" r="7.9" fill="url(#ga)"/>
<circle cx="45" cy="178" r="7.8" fill="url(#gc)"/>
<circle cx="100" cy="60" r="8.5" fill="url(#gb)"/>
<circle cx="1" cy="145" r="6.5" fill="url(#gc)"/>
<circle cx="184" cy="154" r="6.9" fill="url(#gb)"/>
<circle cx="177" cy="176" r="8.4" fill="url(#ga)"/>
<circle cx="64" cy="95" r="8.6" fill="url(#ga)"/>
<circle cx="91" cy="18" r="7.0" fill="url(#gc)"/>
<circle cx="228" cy="194" r="8.0" fill="url(#gc)"/>
<circle cx="177" cy="72" r="6.9" fill="url(#gc)"/>
<circle cx="50" cy="87" r="8.1" fill="url(#gc)"/>
<circle cx="186" cy="205" r="7.8" fill="url(#ga)"/>
<circle cx="84" cy="234" r="7.5" fill="url(#ga)"/>
<circle cx="254" cy="45" r="8.5" fill="url(#gc)"/>
<circle cx="233" cy="14" r="6.1" fill="url(#gc)"/>
<circle cx="135" cy="183" r="8.3" fill="url(#gb)"/>
<circle cx="109" cy="99" r="7.0" fill="url(#gc)"/>
<circle cx="248" cy="202" r="7.6" fill="url(#ga)"/>
<circle cx="27" cy="181" r="7.0" fill="url(#gc)"/>
<circle cx="21" cy="278" r="9.8" fill="url(#ga)"/>
<circle cx="13" cy="209" r="6.9" fill="url(#gc)"/>
<circle cx="155" cy="209" r="7.2" fill="url(#ga)"/>
<circle cx="-3" cy="44" r="8.4" fill="url(#gc)"/>
<circle cx="228" cy="115" r="8.2" fill="url(#ga)"/>
<circle cx="230" cy="54" r="7.7" fill="url(#gc)"/>
<circle cx="193" cy="245" r="8.6" fill="url(#gb)"/>
<circle cx="73" cy="108" r="7.7" fill="url(#gb)"/>
<circle cx="174" cy="164" r="6.6" fill="url(#gc)"/>
<circle cx="146" cy="275" r="7.5" fill="url(#gc)"/>
<circle cx="122" cy="11" r="6.4" fill="url(#gc)"/>
<circle cx="250" cy="101" r="6.6" fill="url(#gc)"/>
<circle cx="108" cy="197" r="7.7" fill="url(#gc)"/>
<circle cx="266" cy="9" r="8.8" fill="url(#gb)"/>
<circle cx="94" cy="121" r="6.4" fill="url(#gc)"/>
<circle cx="19" cy="81" r="8.9" fill="url(#ga)"/>
<circle cx="234" cy="260" r="7.1" fill="url(#gc)"/>
<circle cx="93" cy="178" r="8.9" fill="url(#ga)"/>
<circle cx="44" cy="256" r="9.1" fill="url(#ga)"/>
<circle cx="167" cy="211" r="8.7" fill="url(#ga)"/>
<circle cx="250" cy="228" r="8.5" fill="url(#gc)"/>
<circle cx="40" cy="95" r="7.0" fill="url(#gc)"/>
<circle cx="123" cy="50" r="6.6" fill="url(#gc)"/>
<circle cx="206" cy="234" r="7.0" fill="url(#gb)"/>
<circle cx="-3" cy="279" r="7.6" fill="url(#ga)"/>
<circle cx="101" cy="243" r="8.4" fill="url(#ga)"/>
<circle cx="48" cy="245" r="7.2" fill="url(#ga)"/>
<circle cx="27" cy="60" r="8.2" fill="url(#ga)"/>
<circle cx="48" cy="-3" r="7.4" fill="url(#gb)"/>
<circle cx="181" cy="45" r="7.8" fill="url(#gc)"/>
<circle cx="182" cy="142" r="8.7" fill="url(#ga)"/>
<circle cx="154" cy="94" r="6.5" fill="url(#gc)"/>
<circle cx="201" cy="5" r="7.3" fill="url(#gc)"/>
<circle cx="201" cy="268" r="8.7" fill="url(#ga)"/>
<circle cx="20" cy="266" r="7.9" fill="url(#ga)"/>
<circle cx="13" cy="14" r="8.8" fill="url(#gb)"/>
<circle cx="190" cy="220" r="7.0" fill="url(#gb)"/>
<circle cx="24" cy="28" r="11" fill="url(#gw)"/>
<circle cx="18" cy="21" r="8" fill="url(#ga)"/>
<circle cx="152" cy="90" r="9" fill="url(#ga)"/>
<circle cx="146" cy="83" r="8" fill="url(#ga)"/>
<circle cx="211" cy="216" r="9" fill="url(#ga)"/>
<circle cx="180" cy="187" r="8.5" fill="url(#ga)"/>
<circle cx="124" cy="53" r="9" fill="url(#ga)"/>
<circle cx="36" cy="122" r="8" fill="url(#ga)"/>
<circle cx="105" cy="274" r="11" fill="url(#gw)"/>
</svg>
<linearGradient id="cb" x1="0" y1="1" x2="0" y2="0"><stop offset="0" stop-color="#000"/><stop offset="0.17" stop-color="#0c0202"/><stop offset="0.35" stop-color="#3a0e08"/><stop offset="0.5" stop-color="#7a2018"/><stop offset="0.62" stop-color="#b04838"/><stop offset="0.72" stop-color="#c98060"/><stop offset="0.85" stop-color="#e8c0a0"/><stop offset="1" stop-color="#fbf8f4"/></linearGradient>
<rect x="398.5" y="515.3" width="7.5" height="277.2" fill="url(#cb)" stroke="#aaa" stroke-width="0.8"/>

<rect x="807.0" y="515.3" width="7.5" height="277.2" fill="url(#cb)" stroke="#aaa" stroke-width="0.8"/>
<text x="77.5" y="500.0" font-size="23" textLength="27.5" lengthAdjust="spacingAndGlyphs" fill="#383838">(c)</text>
<text x="487.5" y="501.0" font-size="23" textLength="28" lengthAdjust="spacingAndGlyphs" fill="#383838">(d)</text>
<text x="70.0" y="528.7" font-size="21" text-anchor="end" textLength="28" lengthAdjust="spacingAndGlyphs" fill="#383838">nm</text>
<text x="70.0" y="582.5" font-size="21" text-anchor="end" fill="#383838">400</text>
<text x="70.0" y="635.6" font-size="21" text-anchor="end" fill="#383838">300</text>
<text x="70.0" y="690.0" font-size="21" text-anchor="end" fill="#383838">200</text>
<text x="70.0" y="744.0" font-size="21" text-anchor="end" fill="#383838">100</text>
<text x="70.0" y="798.0" font-size="21" text-anchor="end" fill="#383838">0</text>
<text x="83.0" y="821.0" font-size="21" text-anchor="middle" fill="#383838">0</text>
<text x="136.0" y="821.0" font-size="21" text-anchor="middle" fill="#383838">100</text>
<text x="190.0" y="821.0" font-size="21" text-anchor="middle" fill="#383838">200</text>
<text x="250.0" y="821.0" font-size="21" text-anchor="middle" fill="#383838">300</text>
<text x="303.0" y="821.0" font-size="21" text-anchor="middle" fill="#383838">400</text>
<text x="359.7" y="821.0" font-size="21" text-anchor="middle" fill="#383838">nm</text>
<text x="394.0" y="537.0" font-size="17" text-anchor="end" fill="#383838">nm</text>
<text x="394.0" y="565.0" font-size="17" text-anchor="end" fill="#383838">16</text>
<text x="394.0" y="594.0" font-size="17" text-anchor="end" fill="#383838">14</text>
<text x="394.0" y="623.0" font-size="17" text-anchor="end" fill="#383838">12</text>
<text x="394.0" y="652.0" font-size="17" text-anchor="end" fill="#383838">10</text>
<text x="394.0" y="681.0" font-size="17" text-anchor="end" fill="#383838">8</text>
<text x="394.0" y="710.6" font-size="17" text-anchor="end" fill="#383838">6</text>
<text x="394.0" y="738.8" font-size="17" text-anchor="end" fill="#383838">4</text>
<text x="394.0" y="768.4" font-size="17" text-anchor="end" fill="#383838">2</text>
<text x="394.0" y="797.5" font-size="17" text-anchor="end" fill="#383838">0</text>
<text x="486.0" y="528.7" font-size="21" text-anchor="end" textLength="28" lengthAdjust="spacingAndGlyphs" fill="#383838">nm</text>
<text x="486.0" y="582.5" font-size="21" text-anchor="end" fill="#383838">400</text>
<text x="486.0" y="635.6" font-size="21" text-anchor="end" fill="#383838">300</text>
<text x="486.0" y="690.0" font-size="21" text-anchor="end" fill="#383838">200</text>
<text x="486.0" y="744.0" font-size="21" text-anchor="end" fill="#383838">100</text>
<text x="486.0" y="798.0" font-size="21" text-anchor="end" fill="#383838">0</text>
<text x="494.0" y="821.0" font-size="21" text-anchor="middle" fill="#383838">0</text>
<text x="548.8" y="821.0" font-size="21" text-anchor="middle" fill="#383838">100</text>
<text x="601.0" y="821.0" font-size="21" text-anchor="middle" fill="#383838">200</text>
<text x="661.0" y="821.0" font-size="21" text-anchor="middle" fill="#383838">300</text>
<text x="714.0" y="821.0" font-size="21" text-anchor="middle" fill="#383838">400</text>
<text x="770.6" y="821.0" font-size="21" text-anchor="middle" fill="#383838">nm</text>
<text x="800.0" y="537.0" font-size="17" text-anchor="end" fill="#383838">nm</text>
<text x="800.0" y="563.8" font-size="17" text-anchor="end" fill="#383838">18</text>
<text x="800.0" y="588.8" font-size="17" text-anchor="end" fill="#383838">16</text>
<text x="800.0" y="615.0" font-size="17" text-anchor="end" fill="#383838">14</text>
<text x="800.0" y="642.0" font-size="17" text-anchor="end" fill="#383838">12</text>
<text x="800.0" y="667.0" font-size="17" text-anchor="end" fill="#383838">10</text>
<text x="800.0" y="692.5" font-size="17" text-anchor="end" fill="#383838">8</text>
<text x="800.0" y="718.0" font-size="17" text-anchor="end" fill="#383838">6</text>
<text x="800.0" y="744.0" font-size="17" text-anchor="end" fill="#383838">4</text>
<text x="800.0" y="770.6" font-size="17" text-anchor="end" fill="#383838">2</text>
<text x="800.0" y="796.6" font-size="17" text-anchor="end" fill="#383838">0</text>
<line x1="926.7" y1="756.4" x2="1240.3" y2="756.4" stroke="#cfcfcf" stroke-width="1.2"/>
<line x1="926.7" y1="719.2" x2="1240.3" y2="719.2" stroke="#cfcfcf" stroke-width="1.2"/>
<line x1="926.7" y1="682.0" x2="1240.3" y2="682.0" stroke="#cfcfcf" stroke-width="1.2"/>
<line x1="926.7" y1="644.8" x2="1240.3" y2="644.8" stroke="#cfcfcf" stroke-width="1.2"/>
<line x1="926.7" y1="607.6" x2="1240.3" y2="607.6" stroke="#cfcfcf" stroke-width="1.2"/>
<line x1="926.7" y1="570.4" x2="1240.3" y2="570.4" stroke="#cfcfcf" stroke-width="1.2"/>
<line x1="926.7" y1="533.2" x2="1240.3" y2="533.2" stroke="#cfcfcf" stroke-width="1.2"/>
<g>
<path d="M943.2,792.7 L943.5,792.5 L944.0,792.4 L944.5,792.2 L945.1,791.9 L945.7,791.7 L946.3,791.4 L946.8,791.2 L947.4,791.2 L948.0,791.2 L948.5,790.9 L949.0,790.2 L949.4,789.0 L949.8,787.7 L950.1,786.8 L950.3,785.5 L950.6,783.0 L950.8,778.5 L951.0,771.3 L951.2,760.1 L951.4,745.4 L951.6,728.8 L951.8,711.7 L952.0,695.6 L952.2,682.0 L952.4,670.7 L952.6,660.5 L952.7,651.3 L952.9,643.1 L953.1,636.0 L953.4,629.9 L953.6,625.2 L953.8,622.0 L954.0,619.8 L954.3,618.2 L954.6,616.8 L954.9,615.0 L955.3,613.1 L955.8,611.4 L956.3,609.8 L956.9,608.4 L957.5,607.0 L958.1,605.7 L958.7,604.6 L959.3,603.5 L960.0,602.6 L960.6,601.7 L961.3,600.9 L962.0,600.2 L962.5,598.9 L962.7,599.2 L963.0,598.4 L963.4,598.6 L964.3,598.0 L965.9,595.8 L968.3,594.4 L971.3,594.8 L974.7,591.7 L978.4,589.9 L982.1,590.0 L985.5,587.1 L988.8,586.4 L992.0,584.0 L995.3,582.8 L998.6,580.2 L1001.8,579.9 L1005.1,579.1 L1008.4,577.0 L1011.6,576.2 L1014.9,574.8 L1018.2,572.2 L1021.4,572.8 L1024.7,571.4 L1028.0,569.7 L1031.2,568.3 L1034.5,569.5 L1037.8,567.9 L1041.0,567.8 L1044.3,567.6 L1047.6,566.7 L1050.8,566.7 L1054.1,565.0 L1057.4,565.6 L1060.6,564.4 L1063.9,565.3 L1067.2,564.9 L1070.4,562.9 L1073.7,562.8 L1077.0,562.9 L1080.2,564.6 L1083.5,563.2 L1086.8,563.5 L1090.0,562.7 L1093.3,563.1 L1096.6,562.8 L1099.8,562.6 L1103.1,563.2 L1106.4,563.1 L1109.6,563.8 L1112.9,563.3 L1116.2,563.8 L1119.4,563.7 L1122.7,564.1 L1126.0,563.5 L1129.2,562.5 L1132.5,564.3 L1135.8,564.9 L1139.0,565.2 L1142.3,565.0 L1145.6,566.2 L1148.8,566.0 L1152.1,568.6 L1155.4,569.2 L1158.6,569.7 L1161.9,570.3 L1165.2,573.1 L1168.4,574.4 L1171.7,573.1 L1175.0,575.7 L1178.2,575.7 L1181.5,576.1 L1184.9,577.6 L1188.3,580.0 L1191.8,581.5 L1195.1,580.8 L1198.3,583.5 L1201.1,583.3 L1203.6,585.9 L1205.7,585.9 L1207.7,588.2 L1209.5,589.3 L1211.2,589.0 L1212.9,591.1 L1214.4,590.4 L1215.9,590.7 L1217.3,592.9 L1218.6,592.5 L1219.7,593.8 L1220.7,595.3 L1221.5,596.7 L1222.1,596.5 L1222.6,597.1 L1223.0,599.2 L1223.4,600.4 L1223.8,602.0 L1224.3,603.6 L1224.7,605.2 L1225.1,607.0 L1225.5,609.3 L1225.9,612.5 L1226.2,616.9 L1226.5,622.5 L1226.8,629.0 L1227.0,636.4 L1227.3,644.7 L1227.5,653.7 L1227.8,663.4 L1228.0,674.5 L1228.2,687.1 L1228.4,700.5 L1228.6,713.9 L1228.7,726.6 L1228.9,737.8 L1229.1,747.8 L1229.3,757.4 L1229.5,766.2 L1229.7,774.0 L1229.9,780.8 L1230.1,786.2 L1230.3,789.9 L1230.5,791.9 L1230.8,792.9 L1231.0,793.2 L1231.2,793.3 L1231.3,793.6" stroke="#f0a0a0" stroke-width="3" fill="none" stroke-linejoin="round" opacity="0.5"/>
<path d="M943.2,792.7 L943.5,792.5 L944.0,792.4 L944.5,792.2 L945.1,791.9 L945.7,791.7 L946.3,791.4 L946.8,791.2 L947.4,791.2 L948.0,791.2 L948.5,790.9 L949.0,790.2 L949.4,789.0 L949.8,787.7 L950.1,786.8 L950.3,785.5 L950.6,783.0 L950.8,778.5 L951.0,771.3 L951.2,760.1 L951.4,745.4 L951.6,728.8 L951.8,711.7 L952.0,695.6 L952.2,682.0 L952.4,670.7 L952.6,660.5 L952.7,651.3 L952.9,643.1 L953.1,636.0 L953.4,629.9 L953.6,625.2 L953.8,622.0 L954.0,619.8 L954.3,618.2 L954.6,616.8 L954.9,615.0 L955.3,613.1 L955.8,611.4 L956.3,609.8 L956.9,608.4 L957.5,607.0 L958.1,605.7 L958.7,604.6 L959.3,603.5 L960.0,602.6 L960.6,601.7 L961.3,600.9 L962.0,600.2 L962.5,598.9 L962.7,599.2 L963.0,598.4 L963.4,598.6 L964.3,598.0 L965.9,595.8 L968.3,594.4 L971.3,594.8 L974.7,591.7 L978.4,589.9 L982.1,590.0 L985.5,587.1 L988.8,586.4 L992.0,584.0 L995.3,582.8 L998.6,580.2 L1001.8,579.9 L1005.1,579.1 L1008.4,577.0 L1011.6,576.2 L1014.9,574.8 L1018.2,572.2 L1021.4,572.8 L1024.7,571.4 L1028.0,569.7 L1031.2,568.3 L1034.5,569.5 L1037.8,567.9 L1041.0,567.8 L1044.3,567.6 L1047.6,566.7 L1050.8,566.7 L1054.1,565.0 L1057.4,565.6 L1060.6,564.4 L1063.9,565.3 L1067.2,564.9 L1070.4,562.9 L1073.7,562.8 L1077.0,562.9 L1080.2,564.6 L1083.5,563.2 L1086.8,563.5 L1090.0,562.7 L1093.3,563.1 L1096.6,562.8 L1099.8,562.6 L1103.1,563.2 L1106.4,563.1 L1109.6,563.8 L1112.9,563.3 L1116.2,563.8 L1119.4,563.7 L1122.7,564.1 L1126.0,563.5 L1129.2,562.5 L1132.5,564.3 L1135.8,564.9 L1139.0,565.2 L1142.3,565.0 L1145.6,566.2 L1148.8,566.0 L1152.1,568.6 L1155.4,569.2 L1158.6,569.7 L1161.9,570.3 L1165.2,573.1 L1168.4,574.4 L1171.7,573.1 L1175.0,575.7 L1178.2,575.7 L1181.5,576.1 L1184.9,577.6 L1188.3,580.0 L1191.8,581.5 L1195.1,580.8 L1198.3,583.5 L1201.1,583.3 L1203.6,585.9 L1205.7,585.9 L1207.7,588.2 L1209.5,589.3 L1211.2,589.0 L1212.9,591.1 L1214.4,590.4 L1215.9,590.7 L1217.3,592.9 L1218.6,592.5 L1219.7,593.8 L1220.7,595.3 L1221.5,596.7 L1222.1,596.5 L1222.6,597.1 L1223.0,599.2 L1223.4,600.4 L1223.8,602.0 L1224.3,603.6 L1224.7,605.2 L1225.1,607.0 L1225.5,609.3 L1225.9,612.5 L1226.2,616.9 L1226.5,622.5 L1226.8,629.0 L1227.0,636.4 L1227.3,644.7 L1227.5,653.7 L1227.8,663.4 L1228.0,674.5 L1228.2,687.1 L1228.4,700.5 L1228.6,713.9 L1228.7,726.6 L1228.9,737.8 L1229.1,747.8 L1229.3,757.4 L1229.5,766.2 L1229.7,774.0 L1229.9,780.8 L1230.1,786.2 L1230.3,789.9 L1230.5,791.9 L1230.8,792.9 L1231.0,793.2 L1231.2,793.3 L1231.3,793.6" stroke="#cc1c1c" stroke-width="1.25" fill="none" stroke-linejoin="round"/>
<line x1="965.9" y1="596.8" x2="965.9" y2="585.3" stroke="#c82020" stroke-width="1.2"/>
<line x1="985.5" y1="587.1" x2="985.5" y2="577.8" stroke="#c82020" stroke-width="1.2"/>
<line x1="1012.9" y1="575.4" x2="1012.9" y2="564.8" stroke="#c82020" stroke-width="1.2"/>
<line x1="1018.8" y1="573.3" x2="1018.8" y2="559.2" stroke="#c82020" stroke-width="1.2"/>
<line x1="1036.5" y1="568.5" x2="1036.5" y2="561.1" stroke="#c82020" stroke-width="1.2"/>
<line x1="1063.9" y1="564.3" x2="1063.9" y2="560.2" stroke="#c82020" stroke-width="1.2"/>
<line x1="1099.2" y1="563.0" x2="1099.2" y2="559.2" stroke="#c82020" stroke-width="1.2"/>
<line x1="1126.6" y1="563.3" x2="1126.6" y2="558.9" stroke="#c82020" stroke-width="1.2"/>
<line x1="1134.5" y1="564.1" x2="1134.5" y2="558.3" stroke="#c82020" stroke-width="1.2"/>
<line x1="1142.3" y1="564.8" x2="1142.3" y2="558.9" stroke="#c82020" stroke-width="1.2"/>
<line x1="1161.9" y1="571.3" x2="1161.9" y2="558.9" stroke="#c82020" stroke-width="1.2"/>
<line x1="1163.9" y1="571.9" x2="1163.9" y2="585.3" stroke="#c82020" stroke-width="1.2"/>
<line x1="1169.7" y1="573.6" x2="1169.7" y2="561.1" stroke="#c82020" stroke-width="1.2"/>
<line x1="1181.5" y1="576.9" x2="1181.5" y2="558.9" stroke="#c82020" stroke-width="1.2"/>
<line x1="1185.4" y1="578.4" x2="1185.4" y2="561.1" stroke="#c82020" stroke-width="1.2"/>
<line x1="1189.3" y1="579.9" x2="1189.3" y2="559.6" stroke="#c82020" stroke-width="1.2"/>
<line x1="1193.3" y1="581.4" x2="1193.3" y2="558.9" stroke="#c82020" stroke-width="1.2"/>
<line x1="1199.1" y1="583.6" x2="1199.1" y2="561.1" stroke="#c82020" stroke-width="1.2"/>
<line x1="1201.1" y1="584.4" x2="1201.1" y2="558.9" stroke="#c82020" stroke-width="1.2"/>
<line x1="1203.1" y1="585.3" x2="1203.1" y2="561.1" stroke="#c82020" stroke-width="1.2"/>
<line x1="1205.0" y1="586.2" x2="1205.0" y2="559.6" stroke="#c82020" stroke-width="1.2"/>
<line x1="1207.0" y1="587.1" x2="1207.0" y2="563.0" stroke="#c82020" stroke-width="1.2"/>
<line x1="1208.9" y1="588.1" x2="1208.9" y2="561.1" stroke="#c82020" stroke-width="1.2"/>
<line x1="1216.8" y1="592.7" x2="1216.8" y2="570.4" stroke="#c82020" stroke-width="1.2"/>
<line x1="1218.7" y1="594.1" x2="1218.7" y2="576.0" stroke="#c82020" stroke-width="1.2"/>
<line x1="1220.7" y1="595.5" x2="1220.7" y2="574.1" stroke="#c82020" stroke-width="1.2"/>
<line x1="1043.1" y1="566.7" x2="1043.1" y2="626.2" stroke="#c02020" stroke-width="1.6"/>
</g>
<rect x="926.7" y="514.0" width="313.6" height="279.6" fill="none" stroke="#444" stroke-width="2"/>
<line x1="926.7" y1="793.6" x2="926.7" y2="788.6" stroke="#444" stroke-width="1.5"/>
<line x1="965.9" y1="793.6" x2="965.9" y2="788.6" stroke="#444" stroke-width="1.5"/>
<line x1="1005.1" y1="793.6" x2="1005.1" y2="788.6" stroke="#444" stroke-width="1.5"/>
<line x1="1044.3" y1="793.6" x2="1044.3" y2="788.6" stroke="#444" stroke-width="1.5"/>
<line x1="1083.5" y1="793.6" x2="1083.5" y2="788.6" stroke="#444" stroke-width="1.5"/>
<line x1="1122.7" y1="793.6" x2="1122.7" y2="788.6" stroke="#444" stroke-width="1.5"/>
<line x1="1161.9" y1="793.6" x2="1161.9" y2="788.6" stroke="#444" stroke-width="1.5"/>
<line x1="1201.1" y1="793.6" x2="1201.1" y2="788.6" stroke="#444" stroke-width="1.5"/>
<line x1="1240.3" y1="793.6" x2="1240.3" y2="788.6" stroke="#444" stroke-width="1.5"/>
<line x1="926.7" y1="793.6" x2="931.7" y2="793.6" stroke="#444" stroke-width="1.2"/>
<line x1="926.7" y1="775.0" x2="929.7" y2="775.0" stroke="#444" stroke-width="1.2"/>
<line x1="926.7" y1="756.4" x2="931.7" y2="756.4" stroke="#444" stroke-width="1.2"/>
<line x1="926.7" y1="737.8" x2="929.7" y2="737.8" stroke="#444" stroke-width="1.2"/>
<line x1="926.7" y1="719.2" x2="931.7" y2="719.2" stroke="#444" stroke-width="1.2"/>
<line x1="926.7" y1="700.6" x2="929.7" y2="700.6" stroke="#444" stroke-width="1.2"/>
<line x1="926.7" y1="682.0" x2="931.7" y2="682.0" stroke="#444" stroke-width="1.2"/>
<line x1="926.7" y1="663.4" x2="929.7" y2="663.4" stroke="#444" stroke-width="1.2"/>
<line x1="926.7" y1="644.8" x2="931.7" y2="644.8" stroke="#444" stroke-width="1.2"/>
<line x1="926.7" y1="626.2" x2="929.7" y2="626.2" stroke="#444" stroke-width="1.2"/>
<line x1="926.7" y1="607.6" x2="931.7" y2="607.6" stroke="#444" stroke-width="1.2"/>
<line x1="926.7" y1="589.0" x2="929.7" y2="589.0" stroke="#444" stroke-width="1.2"/>
<line x1="926.7" y1="570.4" x2="931.7" y2="570.4" stroke="#444" stroke-width="1.2"/>
<line x1="926.7" y1="551.8" x2="929.7" y2="551.8" stroke="#444" stroke-width="1.2"/>
<line x1="926.7" y1="533.2" x2="931.7" y2="533.2" stroke="#444" stroke-width="1.2"/>
<text x="924.0" y="799.6" font-size="17" text-anchor="end" fill="#555">0</text>
<text x="924.0" y="762.4" font-size="17" text-anchor="end" fill="#555">200</text>
<text x="924.0" y="725.2" font-size="17" text-anchor="end" fill="#555">400</text>
<text x="924.0" y="688.0" font-size="17" text-anchor="end" fill="#555">600</text>
<text x="924.0" y="650.8" font-size="17" text-anchor="end" fill="#555">800</text>
<text x="924.0" y="613.6" font-size="17" text-anchor="end" fill="#555">1000</text>
<text x="924.0" y="576.4" font-size="17" text-anchor="end" fill="#555">1200</text>
<text x="924.0" y="539.2" font-size="17" text-anchor="end" fill="#555">1400</text>
<text x="929.7" y="814.0" font-size="20" text-anchor="middle" fill="#444">0</text>
<text x="969.0" y="814.0" font-size="20" text-anchor="middle" fill="#444">1</text>
<text x="1005.0" y="814.0" font-size="20" text-anchor="middle" fill="#444">2</text>
<text x="1046.5" y="814.0" font-size="20" text-anchor="middle" fill="#444">3</text>
<text x="1082.7" y="814.0" font-size="20" text-anchor="middle" fill="#444">4</text>
<text x="1124.0" y="814.0" font-size="20" text-anchor="middle" fill="#444">5</text>
<text x="1160.0" y="814.0" font-size="20" text-anchor="middle" fill="#444">6</text>
<text x="1200.0" y="814.0" font-size="20" text-anchor="middle" fill="#444">7</text>
<text x="1237.0" y="814.0" font-size="20" text-anchor="middle" fill="#444">8</text>
<text x="1026.0" y="843.5" font-size="24" textLength="130" lengthAdjust="spacingAndGlyphs" fill="#383838">Length, mm</text>
<text x="874.0" y="662.8" font-size="24" text-anchor="middle" textLength="158" lengthAdjust="spacingAndGlyphs" fill="#383838" transform="rotate(-90 874.0 662.8)">Thickness, nm</text>
<text x="925.4" y="502.7" font-size="22" textLength="27" lengthAdjust="spacingAndGlyphs" fill="#383838">(e)</text>
<filter id="blur6" x="-20%" y="-20%" width="140%" height="140%"><feGaussianBlur stdDeviation="6"/></filter>
<linearGradient id="pl0" x1="0" y1="0" x2="0" y2="1"><stop offset="0" stop-color="#34b42a"/><stop offset="0.5" stop-color="#189018"/><stop offset="1" stop-color="#0a4a08"/></linearGradient>
<linearGradient id="pr0" x1="0" y1="0" x2="0" y2="1"><stop offset="0" stop-color="#25811e"/><stop offset="0.5" stop-color="#0e590e"/><stop offset="1" stop-color="#062c04"/></linearGradient>
<symbol id="pk0" overflow="visible"><path d="M-1,0.25 C-0.9,-0.2 -0.75,-1 0,-1 L0.06,0.25Z" fill="url(#pl0)"/><path d="M0,-1 C0.75,-1 0.9,-0.2 1,0.25 L-0.03,0.25Z" fill="url(#pr0)"/></symbol>
<linearGradient id="pl1" x1="0" y1="0" x2="0" y2="1"><stop offset="0" stop-color="#98d422"/><stop offset="0.5" stop-color="#38b020"/><stop offset="1" stop-color="#0c580a"/></linearGradient>
<linearGradient id="pr1" x1="0" y1="0" x2="0" y2="1"><stop offset="0" stop-color="#6d9818"/><stop offset="0.5" stop-color="#226d13"/><stop offset="1" stop-color="#073406"/></linearGradient>
<symbol id="pk1" overflow="visible"><path d="M-1,0.25 C-0.9,-0.2 -0.75,-1 0,-1 L0.06,0.25Z" fill="url(#pl1)"/><path d="M0,-1 C0.75,-1 0.9,-0.2 1,0.25 L-0.03,0.25Z" fill="url(#pr1)"/></symbol>
<linearGradient id="pl2" x1="0" y1="0" x2="0" y2="1"><stop offset="0" stop-color="#ece224"/><stop offset="0.5" stop-color="#88c820"/><stop offset="1" stop-color="#106810"/></linearGradient>
<linearGradient id="pr2" x1="0" y1="0" x2="0" y2="1"><stop offset="0" stop-color="#a9a219"/><stop offset="0.5" stop-color="#547c13"/><stop offset="1" stop-color="#093e09"/></linearGradient>
<symbol id="pk2" overflow="visible"><path d="M-1,0.25 C-0.9,-0.2 -0.75,-1 0,-1 L0.06,0.25Z" fill="url(#pl2)"/><path d="M0,-1 C0.75,-1 0.9,-0.2 1,0.25 L-0.03,0.25Z" fill="url(#pr2)"/></symbol>
<linearGradient id="pl3" x1="0" y1="0" x2="0" y2="1"><stop offset="0" stop-color="#f28c1a"/><stop offset="0.5" stop-color="#e0d020"/><stop offset="1" stop-color="#1c8010"/></linearGradient>
<linearGradient id="pr3" x1="0" y1="0" x2="0" y2="1"><stop offset="0" stop-color="#ae6412"/><stop offset="0.5" stop-color="#8a8013"/><stop offset="1" stop-color="#104c09"/></linearGradient>
<symbol id="pk3" overflow="visible"><path d="M-1,0.25 C-0.9,-0.2 -0.75,-1 0,-1 L0.06,0.25Z" fill="url(#pl3)"/><path d="M0,-1 C0.75,-1 0.9,-0.2 1,0.25 L-0.03,0.25Z" fill="url(#pr3)"/></symbol>
<linearGradient id="pl4" x1="0" y1="0" x2="0" y2="1"><stop offset="0" stop-color="#d81c10"/><stop offset="0.5" stop-color="#f06818"/><stop offset="1" stop-color="#48a010"/></linearGradient>
<linearGradient id="pr4" x1="0" y1="0" x2="0" y2="1"><stop offset="0" stop-color="#9b140b"/><stop offset="0.5" stop-color="#94400e"/><stop offset="1" stop-color="#2b6009"/></linearGradient>
<symbol id="pk4" overflow="visible"><path d="M-1,0.25 C-0.9,-0.2 -0.75,-1 0,-1 L0.06,0.25Z" fill="url(#pl4)"/><path d="M0,-1 C0.75,-1 0.9,-0.2 1,0.25 L-0.03,0.25Z" fill="url(#pr4)"/></symbol>
<path d="M205,1095 L300,1108 L400,1090 L500,1058 L592,1015 L598,1035 L520,1070 L420,1110 L320,1135 L245,1145 L215,1125Z" fill="#b4b4bc" filter="url(#blur6)" opacity="0.7"/>
<clipPath id="cf1"><path d="M210.0,1095.0 L217.5,1099.0 L225.0,1089.4 L232.6,1099.1 L240.1,1084.3 L247.6,1098.3 L255.1,1081.1 L262.6,1093.5 L270.2,1082.2 L277.7,1084.6 L285.2,1078.9 L292.7,1084.4 L300.2,1074.9 L307.8,1078.6 L315.3,1069.2 L322.8,1076.9 L330.3,1070.8 L337.8,1074.1 L345.4,1066.8 L352.9,1076.9 L360.4,1064.7 L367.9,1069.3 L375.4,1058.8 L383.0,1067.7 L390.5,1057.9 L398.0,1061.4 L405.5,1054.7 L413.0,1063.9 L420.6,1052.3 L428.1,1054.8 L435.6,1049.7 L443.1,1052.2 L450.6,1043.7 L458.2,1053.4 L465.7,1043.6 L473.2,1048.2 L480.7,1040.6 L488.2,1046.9 L495.8,1034.6 L503.3,1042.0 L510.8,1030.9 L518.3,1037.1 L525.8,1027.7 L533.4,1039.0 L540.9,1029.0 L548.4,1031.8 L555.9,1021.2 L563.4,1035.4 L571.0,1020.7 L578.5,1027.7 L586.0,1020.0 L590.0,1020.0 L590.0,975.0 L430.0,808.0 L122.0,865.0 L128.0,915.0 L128.0,935.0Z"/></clipPath>
<g clip-path="url(#cf1)">
<path d="M210,1103 L586,1028 L405,878 L132,935Z" fill="#0c4a0c"/>
<linearGradient id="cf1sk" gradientUnits="userSpaceOnUse" x1="0" y1="1044" x2="0" y2="1070"><stop offset="0" stop-color="#1c8a20"/><stop offset="0.5" stop-color="#12a0a0"/><stop offset="1" stop-color="#1848b0"/></linearGradient>
<g transform="translate(0,0)"><path d="M210,1079 L586,1004 L586,1036 L210,1111Z" fill="#11705a"/></g>
<use href="#pk3" transform="translate(183.6,930.0) scale(11.5,20.3)"/>
<use href="#pk1" transform="translate(358.5,893.5) scale(10.0,14.9)"/>
<use href="#pk2" transform="translate(314.0,902.9) scale(10.8,19.3)"/>
<use href="#pk0" transform="translate(380.6,891.3) scale(9.0,6.1)"/>
<use href="#pk1" transform="translate(277.7,912.8) scale(9.3,14.1)"/>
<use href="#pk1" transform="translate(396.7,888.7) scale(8.5,13.0)"/>
<use href="#pk2" transform="translate(254.6,919.0) scale(9.9,17.2)"/>
<use href="#pk3" transform="translate(264.6,918.6) scale(9.5,22.2)"/>
<use href="#pk3" transform="translate(197.0,933.2) scale(8.2,20.2)"/>
<use href="#pk1" transform="translate(230.7,926.4) scale(8.0,12.7)"/>
<use href="#pk0" transform="translate(176.7,938.2) scale(7.9,7.9)"/>
<use href="#pk3" transform="translate(164.5,941.0) scale(8.6,20.0)"/>
<use href="#pk3" transform="translate(217.8,931.1) scale(8.4,20.1)"/>
<use href="#pk2" transform="translate(343.5,905.7) scale(8.7,17.4)"/>
<use href="#pk0" transform="translate(205.3,934.7) scale(7.4,6.1)"/>
<use href="#pk1" transform="translate(392.1,895.9) scale(10.2,11.4)"/>
<use href="#pk3" transform="translate(291.1,917.0) scale(10.2,20.6)"/>
<use href="#pk0" transform="translate(151.2,946.6) scale(9.6,10.2)"/>
<use href="#pk2" transform="translate(188.5,939.0) scale(11.0,19.4)"/>
<use href="#pk2" transform="translate(369.7,901.6) scale(9.7,15.6)"/>
<use href="#pk1" transform="translate(357.9,904.2) scale(8.3,12.7)"/>
<use href="#pk2" transform="translate(314.5,913.4) scale(9.4,18.4)"/>
<use href="#pk1" transform="translate(307.6,914.9) scale(8.5,14.4)"/>
<use href="#pk2" transform="translate(241.4,928.7) scale(10.1,16.8)"/>
<use href="#pk1" transform="translate(337.3,908.8) scale(9.9,11.6)"/>
<use href="#pk1" transform="translate(414.3,893.0) scale(10.3,14.9)"/>
<use href="#pk2" transform="translate(285.3,919.9) scale(8.9,17.2)"/>
<use href="#pk0" transform="translate(420.0,891.9) scale(7.1,8.9)"/>
<use href="#pk1" transform="translate(270.9,923.1) scale(7.4,14.6)"/>
<use href="#pk1" transform="translate(402.2,897.3) scale(9.0,11.7)"/>
<use href="#pk1" transform="translate(224.2,934.4) scale(8.2,14.4)"/>
<use href="#pk1" transform="translate(332.8,912.7) scale(7.2,13.0)"/>
<use href="#pk1" transform="translate(140.6,953.6) scale(8.0,11.4)"/>
<use href="#pk3" transform="translate(255.1,930.5) scale(9.7,24.4)"/>
<use href="#pk1" transform="translate(301.1,921.0) scale(8.1,14.4)"/>
<use href="#pk2" transform="translate(157.9,950.8) scale(10.5,18.0)"/>
<use href="#pk3" transform="translate(319.7,917.3) scale(10.6,20.4)"/>
<use href="#pk1" transform="translate(311.2,919.2) scale(8.1,12.6)"/>
<use href="#pk3" transform="translate(213.2,940.4) scale(11.8,24.0)"/>
<use href="#pk3" transform="translate(246.3,933.8) scale(9.6,23.9)"/>
<use href="#pk3" transform="translate(262.8,930.8) scale(12.3,22.3)"/>
<use href="#pk1" transform="translate(386.4,905.2) scale(7.5,12.0)"/>
<use href="#pk2" transform="translate(185.2,947.4) scale(10.1,17.3)"/>
<use href="#pk0" transform="translate(351.4,913.7) scale(8.5,6.2)"/>
<use href="#pk1" transform="translate(357.4,913.2) scale(10.0,13.7)"/>
<use href="#pk0" transform="translate(205.4,944.8) scale(8.3,9.0)"/>
<use href="#pk3" transform="translate(283.4,928.7) scale(12.3,23.1)"/>
<use href="#pk2" transform="translate(320.8,921.0) scale(10.5,18.7)"/>
<use href="#pk2" transform="translate(171.6,952.1) scale(10.9,19.8)"/>
<use href="#pk3" transform="translate(180.2,950.6) scale(8.6,20.7)"/>
<use href="#pk0" transform="translate(157.6,955.4) scale(7.4,9.8)"/>
<use href="#pk0" transform="translate(401.4,904.9) scale(8.1,8.4)"/>
<use href="#pk3" transform="translate(279.7,930.5) scale(10.7,22.0)"/>
<use href="#pk2" transform="translate(345.4,917.0) scale(8.2,17.5)"/>
<use href="#pk0" transform="translate(171.8,953.3) scale(9.5,10.7)"/>
<use href="#pk0" transform="translate(410.7,904.0) scale(7.9,9.2)"/>
<use href="#pk0" transform="translate(312.0,924.7) scale(8.6,10.7)"/>
<use href="#pk2" transform="translate(146.6,959.6) scale(10.1,19.0)"/>
<use href="#pk2" transform="translate(200.4,948.6) scale(11.5,19.3)"/>
<use href="#pk2" transform="translate(427.0,902.2) scale(9.3,19.1)"/>
<use href="#pk2" transform="translate(386.4,911.1) scale(10.0,17.1)"/>
<use href="#pk2" transform="translate(338.1,921.8) scale(10.3,18.0)"/>
<use href="#pk2" transform="translate(416.8,905.7) scale(10.7,19.3)"/>
<use href="#pk2" transform="translate(195.4,952.3) scale(9.0,17.1)"/>
<use href="#pk4" transform="translate(243.0,943.4) scale(10.1,25.0)"/>
<use href="#pk1" transform="translate(398.2,911.8) scale(9.4,15.6)"/>
<use href="#pk1" transform="translate(360.0,920.0) scale(9.6,14.0)"/>
<use href="#pk0" transform="translate(376.6,917.4) scale(9.2,10.8)"/>
<use href="#pk0" transform="translate(221.9,949.7) scale(7.0,7.5)"/>
<use href="#pk4" transform="translate(249.4,944.5) scale(11.2,27.0)"/>
<use href="#pk1" transform="translate(160.7,962.9) scale(9.6,14.8)"/>
<use href="#pk0" transform="translate(403.5,912.9) scale(7.2,7.7)"/>
<use href="#pk4" transform="translate(267.0,941.3) scale(9.8,31.9)"/>
<use href="#pk1" transform="translate(229.8,949.1) scale(11.2,15.9)"/>
<use href="#pk3" transform="translate(298.7,935.3) scale(9.0,24.9)"/>
<use href="#pk1" transform="translate(338.2,927.6) scale(9.1,13.0)"/>
<use href="#pk3" transform="translate(259.6,943.9) scale(10.1,24.1)"/>
<use href="#pk2" transform="translate(298.6,936.3) scale(8.2,18.6)"/>
<use href="#pk3" transform="translate(305.8,934.9) scale(10.0,24.5)"/>
<use href="#pk1" transform="translate(215.4,954.2) scale(8.3,15.9)"/>
<use href="#pk2" transform="translate(427.4,911.0) scale(9.5,17.4)"/>
<use href="#pk0" transform="translate(189.1,960.7) scale(9.8,9.0)"/>
<use href="#pk3" transform="translate(328.6,932.1) scale(9.3,25.0)"/>
<use href="#pk4" transform="translate(238.3,951.1) scale(10.7,26.5)"/>
<use href="#pk1" transform="translate(148.8,970.2) scale(9.7,12.3)"/>
<use href="#pk4" transform="translate(285.1,943.0) scale(12.0,26.8)"/>
<use href="#pk3" transform="translate(256.4,949.0) scale(8.8,23.1)"/>
<use href="#pk1" transform="translate(228.7,954.8) scale(8.4,14.6)"/>
<use href="#pk3" transform="translate(437.4,912.1) scale(9.9,23.1)"/>
<use href="#pk1" transform="translate(401.3,920.8) scale(10.9,14.6)"/>
<use href="#pk3" transform="translate(201.7,962.2) scale(10.4,21.9)"/>
<use href="#pk2" transform="translate(184.9,966.1) scale(9.0,18.1)"/>
<use href="#pk4" transform="translate(347.1,933.7) scale(11.4,26.5)"/>
<use href="#pk2" transform="translate(367.1,930.0) scale(9.8,17.1)"/>
<use href="#pk2" transform="translate(377.6,927.9) scale(8.8,19.0)"/>
<use href="#pk0" transform="translate(363.8,931.1) scale(9.5,11.7)"/>
<use href="#pk4" transform="translate(276.4,949.2) scale(12.8,34.1)"/>
<use href="#pk3" transform="translate(311.8,942.1) scale(11.0,24.3)"/>
<use href="#pk4" transform="translate(357.0,933.1) scale(12.0,32.1)"/>
<use href="#pk3" transform="translate(389.5,926.6) scale(11.7,21.3)"/>
<use href="#pk3" transform="translate(425.8,919.5) scale(12.4,20.6)"/>
<use href="#pk3" transform="translate(430.7,918.6) scale(11.4,23.1)"/>
<use href="#pk1" transform="translate(200.6,966.3) scale(7.6,13.5)"/>
<use href="#pk4" transform="translate(366.1,932.6) scale(11.6,27.1)"/>
<use href="#pk3" transform="translate(412.9,923.1) scale(11.6,23.1)"/>
<use href="#pk1" transform="translate(210.1,965.1) scale(8.8,14.4)"/>
<use href="#pk1" transform="translate(405.0,925.2) scale(10.0,13.8)"/>
<use href="#pk3" transform="translate(251.0,957.5) scale(10.3,22.8)"/>
<use href="#pk0" transform="translate(182.3,972.1) scale(9.3,11.4)"/>
<use href="#pk3" transform="translate(164.9,977.2) scale(11.4,22.9)"/>
<use href="#pk4" transform="translate(392.9,930.5) scale(12.7,31.1)"/>
<use href="#pk4" transform="translate(336.2,942.2) scale(13.9,34.5)"/>
<use href="#pk4" transform="translate(307.2,949.1) scale(12.4,26.1)"/>
<use href="#pk3" transform="translate(334.8,944.1) scale(11.9,23.7)"/>
<use href="#pk1" transform="translate(194.5,973.2) scale(10.5,15.9)"/>
<use href="#pk4" transform="translate(280.5,955.6) scale(10.2,26.4)"/>
<use href="#pk2" transform="translate(394.7,933.2) scale(10.7,19.0)"/>
<use href="#pk3" transform="translate(212.9,970.9) scale(11.5,23.4)"/>
<use href="#pk4" transform="translate(295.8,953.9) scale(9.8,32.8)"/>
<use href="#pk4" transform="translate(308.0,951.5) scale(13.1,34.7)"/>
<use href="#pk3" transform="translate(270.5,959.3) scale(9.7,22.6)"/>
<use href="#pk3" transform="translate(233.0,967.0) scale(10.5,20.9)"/>
<use href="#pk4" transform="translate(362.8,940.4) scale(11.8,27.4)"/>
<use href="#pk2" transform="translate(238.7,966.0) scale(11.2,19.0)"/>
<use href="#pk2" transform="translate(452.8,922.0) scale(11.0,17.0)"/>
<use href="#pk4" transform="translate(328.8,947.8) scale(11.8,29.0)"/>
<use href="#pk1" transform="translate(197.1,974.9) scale(11.4,15.7)"/>
<use href="#pk4" transform="translate(298.9,954.2) scale(11.6,34.7)"/>
<use href="#pk3" transform="translate(238.7,966.8) scale(10.9,21.0)"/>
<use href="#pk2" transform="translate(173.2,981.0) scale(12.1,18.1)"/>
<use href="#pk2" transform="translate(220.1,971.5) scale(9.1,16.4)"/>
<use href="#pk3" transform="translate(264.9,962.8) scale(11.8,22.6)"/>
<use href="#pk4" transform="translate(283.1,959.2) scale(14.1,30.2)"/>
<use href="#pk3" transform="translate(162.9,984.4) scale(8.9,21.7)"/>
<use href="#pk4" transform="translate(347.3,947.7) scale(13.2,28.2)"/>
<use href="#pk2" transform="translate(414.2,934.1) scale(11.0,19.4)"/>
<use href="#pk4" transform="translate(386.9,939.9) scale(12.2,30.7)"/>
<use href="#pk4" transform="translate(385.4,941.0) scale(13.4,32.3)"/>
<use href="#pk3" transform="translate(437.1,930.8) scale(12.2,21.1)"/>
<use href="#pk3" transform="translate(275.2,964.2) scale(9.7,24.8)"/>
<use href="#pk4" transform="translate(449.7,928.7) scale(11.5,26.6)"/>
<use href="#pk1" transform="translate(184.8,984.4) scale(9.9,13.8)"/>
<use href="#pk4" transform="translate(342.6,952.5) scale(13.0,31.2)"/>
<use href="#pk4" transform="translate(364.5,949.7) scale(13.9,27.2)"/>
<use href="#pk4" transform="translate(314.9,960.0) scale(13.5,35.1)"/>
<use href="#pk4" transform="translate(256.3,972.1) scale(13.1,26.2)"/>
<use href="#pk0" transform="translate(194.4,984.9) scale(7.1,8.3)"/>
<use href="#pk4" transform="translate(248.8,973.8) scale(11.3,26.8)"/>
<use href="#pk1" transform="translate(168.9,990.6) scale(11.1,14.2)"/>
<use href="#pk2" transform="translate(230.5,978.1) scale(12.2,18.8)"/>
<use href="#pk4" transform="translate(335.0,957.4) scale(13.0,27.4)"/>
<use href="#pk4" transform="translate(163.2,992.8) scale(11.0,27.4)"/>
<use href="#pk2" transform="translate(218.2,981.5) scale(11.3,18.0)"/>
<use href="#pk3" transform="translate(257.9,973.6) scale(11.2,23.3)"/>
<use href="#pk3" transform="translate(419.9,941.2) scale(11.8,23.2)"/>
<use href="#pk4" transform="translate(278.0,970.7) scale(12.5,27.6)"/>
<use href="#pk2" transform="translate(444.3,937.1) scale(12.3,20.9)"/>
<use href="#pk4" transform="translate(403.0,948.0) scale(12.8,27.5)"/>
<use href="#pk4" transform="translate(353.7,958.7) scale(14.4,35.3)"/>
<use href="#pk1" transform="translate(189.7,992.8) scale(9.8,15.7)"/>
<use href="#pk4" transform="translate(402.7,949.8) scale(11.6,26.6)"/>
<use href="#pk3" transform="translate(383.8,954.2) scale(12.3,25.7)"/>
<use href="#pk3" transform="translate(468.1,937.1) scale(11.1,21.6)"/>
<use href="#pk2" transform="translate(208.4,990.2) scale(8.5,18.8)"/>
<use href="#pk1" transform="translate(432.4,944.4) scale(11.0,12.6)"/>
<use href="#pk3" transform="translate(210.5,989.8) scale(10.3,23.3)"/>
<use href="#pk4" transform="translate(387.0,954.2) scale(12.1,29.2)"/>
<use href="#pk4" transform="translate(308.9,970.2) scale(9.9,35.4)"/>
<use href="#pk2" transform="translate(416.1,948.3) scale(9.2,19.4)"/>
<use href="#pk4" transform="translate(335.7,965.0) scale(14.0,28.3)"/>
<use href="#pk4" transform="translate(288.5,974.7) scale(11.1,35.4)"/>
<use href="#pk4" transform="translate(367.6,960.6) scale(11.2,35.5)"/>
<use href="#pk2" transform="translate(218.2,991.9) scale(11.5,18.0)"/>
<use href="#pk3" transform="translate(302.4,975.0) scale(10.1,24.1)"/>
<use href="#pk3" transform="translate(411.5,953.7) scale(12.1,24.1)"/>
<use href="#pk1" transform="translate(446.4,947.0) scale(10.3,16.6)"/>
<use href="#pk2" transform="translate(272.2,982.7) scale(12.3,20.0)"/>
<use href="#pk4" transform="translate(362.7,965.4) scale(12.1,29.4)"/>
<use href="#pk1" transform="translate(236.5,991.2) scale(9.0,14.0)"/>
<use href="#pk4" transform="translate(329.4,972.5) scale(11.1,31.3)"/>
<use href="#pk4" transform="translate(471.0,943.7) scale(11.4,28.5)"/>
<use href="#pk2" transform="translate(390.7,960.5) scale(8.4,19.2)"/>
<use href="#pk3" transform="translate(338.2,971.2) scale(9.5,23.7)"/>
<use href="#pk2" transform="translate(184.9,1002.9) scale(9.3,21.1)"/>
<use href="#pk1" transform="translate(266.3,986.3) scale(8.9,13.8)"/>
<use href="#pk3" transform="translate(258.4,988.2) scale(12.1,21.8)"/>
<use href="#pk1" transform="translate(166.8,1007.5) scale(11.6,15.5)"/>
<use href="#pk2" transform="translate(398.4,960.5) scale(9.7,17.8)"/>
<use href="#pk1" transform="translate(203.4,1000.4) scale(9.0,16.4)"/>
<use href="#pk3" transform="translate(179.5,1005.2) scale(10.3,23.4)"/>
<use href="#pk3" transform="translate(443.2,951.6) scale(12.1,25.0)"/>
<use href="#pk3" transform="translate(314.5,978.6) scale(11.0,22.3)"/>
<use href="#pk2" transform="translate(444.7,952.2) scale(9.0,19.5)"/>
<use href="#pk2" transform="translate(465.7,947.9) scale(10.4,18.2)"/>
<use href="#pk4" transform="translate(323.9,976.9) scale(10.8,27.2)"/>
<use href="#pk3" transform="translate(296.5,983.0) scale(9.8,24.7)"/>
<use href="#pk4" transform="translate(358.8,970.5) scale(13.7,30.7)"/>
<use href="#pk2" transform="translate(205.5,1001.9) scale(9.1,20.5)"/>
<use href="#pk2" transform="translate(214.4,1000.6) scale(10.5,20.6)"/>
<use href="#pk3" transform="translate(374.4,968.1) scale(12.3,22.5)"/>
<use href="#pk3" transform="translate(419.2,960.0) scale(11.9,26.1)"/>
<use href="#pk4" transform="translate(330.7,978.3) scale(13.8,28.0)"/>
<use href="#pk2" transform="translate(482.4,947.8) scale(9.9,19.9)"/>
<use href="#pk3" transform="translate(247.7,996.6) scale(13.4,23.8)"/>
<use href="#pk4" transform="translate(292.1,987.6) scale(10.1,34.1)"/>
<use href="#pk3" transform="translate(232.9,1000.2) scale(12.7,21.6)"/>
<use href="#pk3" transform="translate(269.6,992.9) scale(10.7,21.8)"/>
<use href="#pk2" transform="translate(407.3,965.1) scale(8.7,20.7)"/>
<use href="#pk3" transform="translate(347.6,977.4) scale(10.5,25.7)"/>
<use href="#pk3" transform="translate(297.8,987.7) scale(13.4,23.2)"/>
<use href="#pk3" transform="translate(196.9,1008.4) scale(12.4,24.3)"/>
<use href="#pk4" transform="translate(488.8,950.6) scale(13.2,28.1)"/>
<use href="#pk4" transform="translate(472.4,954.4) scale(13.4,27.2)"/>
<use href="#pk2" transform="translate(435.4,962.2) scale(8.2,17.4)"/>
<use href="#pk3" transform="translate(392.0,971.3) scale(10.4,23.2)"/>
<use href="#pk1" transform="translate(302.3,990.2) scale(9.5,13.4)"/>
<use href="#pk2" transform="translate(278.8,995.1) scale(12.1,18.2)"/>
<use href="#pk3" transform="translate(173.3,1016.6) scale(13.0,22.5)"/>
<use href="#pk4" transform="translate(205.1,1011.0) scale(10.2,26.8)"/>
<use href="#pk3" transform="translate(465.7,958.5) scale(13.5,23.4)"/>
<use href="#pk2" transform="translate(403.3,971.5) scale(10.7,18.3)"/>
<use href="#pk3" transform="translate(434.5,965.4) scale(10.4,23.1)"/>
<use href="#pk3" transform="translate(290.7,994.7) scale(9.5,23.9)"/>
<use href="#pk2" transform="translate(224.7,1009.1) scale(10.6,20.7)"/>
<use href="#pk3" transform="translate(321.4,989.7) scale(11.5,23.8)"/>
<use href="#pk2" transform="translate(175.2,1019.7) scale(10.3,18.6)"/>
<use href="#pk2" transform="translate(369.0,980.9) scale(10.0,20.3)"/>
<use href="#pk4" transform="translate(400.6,975.0) scale(14.7,32.3)"/>
<use href="#pk1" transform="translate(459.5,964.3) scale(10.1,16.5)"/>
<use href="#pk1" transform="translate(340.5,988.6) scale(9.1,14.2)"/>
<use href="#pk3" transform="translate(386.8,979.2) scale(12.5,22.8)"/>
<use href="#pk1" transform="translate(483.1,960.5) scale(8.7,13.2)"/>
<use href="#pk3" transform="translate(430.3,971.2) scale(11.1,23.8)"/>
<use href="#pk2" transform="translate(241.9,1010.2) scale(8.8,17.9)"/>
<use href="#pk3" transform="translate(259.8,1007.4) scale(10.0,22.4)"/>
<use href="#pk2" transform="translate(294.8,1000.5) scale(12.6,18.2)"/>
<use href="#pk2" transform="translate(478.4,963.3) scale(11.1,18.5)"/>
<use href="#pk3" transform="translate(259.7,1007.8) scale(11.9,26.1)"/>
<use href="#pk2" transform="translate(279.6,1004.0) scale(11.7,20.8)"/>
<use href="#pk0" transform="translate(250.3,1010.0) scale(10.0,11.6)"/>
<use href="#pk2" transform="translate(227.4,1014.7) scale(11.0,20.8)"/>
<use href="#pk3" transform="translate(364.0,987.1) scale(10.6,22.6)"/>
<use href="#pk1" transform="translate(345.6,990.9) scale(8.9,17.0)"/>
<use href="#pk2" transform="translate(327.9,994.6) scale(8.8,20.0)"/>
<use href="#pk2" transform="translate(199.0,1020.8) scale(8.8,17.3)"/>
<use href="#pk3" transform="translate(498.8,960.1) scale(11.4,26.4)"/>
<use href="#pk2" transform="translate(412.1,979.0) scale(8.4,17.5)"/>
<use href="#pk4" transform="translate(239.0,1014.3) scale(13.2,29.1)"/>
<use href="#pk1" transform="translate(277.2,1006.7) scale(9.3,14.6)"/>
<use href="#pk1" transform="translate(443.4,973.1) scale(9.0,15.8)"/>
<use href="#pk1" transform="translate(370.1,988.1) scale(8.9,12.8)"/>
<use href="#pk4" transform="translate(221.1,1018.3) scale(12.1,27.6)"/>
<use href="#pk1" transform="translate(350.3,992.4) scale(9.1,17.2)"/>
<use href="#pk2" transform="translate(324.0,998.2) scale(12.4,20.4)"/>
<use href="#pk2" transform="translate(394.6,984.2) scale(11.1,21.8)"/>
<use href="#pk2" transform="translate(489.9,965.5) scale(8.9,19.5)"/>
<use href="#pk0" transform="translate(454.0,974.4) scale(7.4,8.5)"/>
<use href="#pk3" transform="translate(317.2,1002.4) scale(13.5,25.1)"/>
<use href="#pk1" transform="translate(182.0,1030.2) scale(10.6,16.8)"/>
<use href="#pk3" transform="translate(382.8,990.1) scale(11.0,26.5)"/>
<use href="#pk2" transform="translate(192.4,1028.9) scale(11.6,18.9)"/>
<use href="#pk1" transform="translate(467.8,973.2) scale(8.3,15.9)"/>
<use href="#pk0" transform="translate(291.6,1009.7) scale(10.2,7.9)"/>
<use href="#pk3" transform="translate(335.9,1001.4) scale(14.1,26.4)"/>
<use href="#pk2" transform="translate(201.2,1029.3) scale(11.4,18.7)"/>
<use href="#pk2" transform="translate(211.6,1027.3) scale(8.6,17.4)"/>
<use href="#pk2" transform="translate(399.0,989.5) scale(10.6,20.3)"/>
<use href="#pk0" transform="translate(427.1,983.9) scale(10.4,9.6)"/>
<use href="#pk1" transform="translate(359.2,998.2) scale(10.7,16.5)"/>
<use href="#pk1" transform="translate(363.6,997.5) scale(9.1,16.4)"/>
<use href="#pk2" transform="translate(251.2,1020.4) scale(9.8,20.4)"/>
<use href="#pk1" transform="translate(406.7,989.1) scale(8.2,14.6)"/>
<use href="#pk3" transform="translate(228.2,1025.6) scale(11.6,23.6)"/>
<use href="#pk3" transform="translate(325.2,1006.1) scale(9.8,22.3)"/>
<use href="#pk0" transform="translate(182.6,1035.5) scale(9.2,11.3)"/>
<use href="#pk1" transform="translate(516.0,968.2) scale(11.6,14.9)"/>
<use href="#pk3" transform="translate(431.7,986.0) scale(13.6,24.6)"/>
<use href="#pk3" transform="translate(310.4,1011.2) scale(11.5,23.8)"/>
<use href="#pk4" transform="translate(250.6,1023.7) scale(13.9,29.2)"/>
<use href="#pk2" transform="translate(288.1,1016.6) scale(9.1,18.5)"/>
<use href="#pk1" transform="translate(482.7,977.4) scale(12.0,15.4)"/>
<use href="#pk3" transform="translate(502.2,974.3) scale(13.2,23.6)"/>
<use href="#pk2" transform="translate(307.2,1013.8) scale(10.9,20.2)"/>
<use href="#pk3" transform="translate(447.3,985.6) scale(13.3,23.4)"/>
<use href="#pk2" transform="translate(470.4,981.6) scale(10.0,19.6)"/>
<use href="#pk1" transform="translate(460.4,985.1) scale(12.3,16.3)"/>
<use href="#pk3" transform="translate(208.6,1036.8) scale(11.1,25.7)"/>
<use href="#pk3" transform="translate(274.7,1024.2) scale(13.5,23.2)"/>
<use href="#pk2" transform="translate(389.5,1001.1) scale(12.4,19.6)"/>
<use href="#pk1" transform="translate(465.8,985.8) scale(11.9,15.3)"/>
<use href="#pk3" transform="translate(225.7,1034.7) scale(12.4,22.6)"/>
<use href="#pk3" transform="translate(258.8,1028.1) scale(9.6,23.6)"/>
<use href="#pk0" transform="translate(434.2,993.3) scale(8.8,12.2)"/>
<use href="#pk2" transform="translate(357.2,1008.9) scale(11.7,20.5)"/>
<use href="#pk1" transform="translate(338.1,1012.8) scale(12.0,15.9)"/>
<use href="#pk0" transform="translate(390.2,1002.6) scale(10.3,11.9)"/>
<use href="#pk1" transform="translate(292.2,1022.7) scale(8.6,17.5)"/>
<use href="#pk0" transform="translate(491.1,983.5) scale(8.8,10.6)"/>
<use href="#pk1" transform="translate(506.6,980.7) scale(9.3,13.7)"/>
<use href="#pk0" transform="translate(522.7,978.1) scale(7.6,6.9)"/>
<use href="#pk1" transform="translate(186.0,1046.5) scale(9.0,14.8)"/>
<use href="#pk3" transform="translate(373.0,1009.3) scale(11.8,24.3)"/>
<use href="#pk2" transform="translate(280.1,1028.2) scale(10.3,19.3)"/>
<use href="#pk3" transform="translate(323.3,1019.5) scale(11.0,26.8)"/>
<use href="#pk1" transform="translate(201.3,1044.6) scale(9.8,14.9)"/>
<use href="#pk1" transform="translate(500.1,984.9) scale(11.7,13.7)"/>
<use href="#pk1" transform="translate(221.0,1041.4) scale(10.6,15.4)"/>
<use href="#pk2" transform="translate(405.0,1004.8) scale(12.3,21.0)"/>
<use href="#pk1" transform="translate(426.2,1000.5) scale(12.0,15.1)"/>
<use href="#pk4" transform="translate(266.9,1032.9) scale(10.2,28.9)"/>
<use href="#pk1" transform="translate(309.9,1024.7) scale(12.3,17.7)"/>
<use href="#pk2" transform="translate(425.1,1002.6) scale(9.6,22.4)"/>
<use href="#pk0" transform="translate(526.9,982.2) scale(7.8,7.0)"/>
<use href="#pk3" transform="translate(242.4,1039.6) scale(13.4,26.9)"/>
<use href="#pk1" transform="translate(413.0,1005.4) scale(11.2,14.7)"/>
<use href="#pk1" transform="translate(462.9,995.8) scale(10.5,14.0)"/>
<use href="#pk2" transform="translate(322.7,1025.5) scale(10.8,19.2)"/>
<use href="#pk4" transform="translate(270.5,1036.0) scale(13.6,28.3)"/>
<use href="#pk2" transform="translate(231.1,1044.4) scale(10.6,19.4)"/>
<use href="#pk2" transform="translate(337.0,1023.3) scale(9.6,19.5)"/>
<use href="#pk0" transform="translate(361.9,1018.5) scale(8.4,10.7)"/>
<use href="#pk3" transform="translate(407.2,1010.8) scale(9.8,23.3)"/>
<use href="#pk3" transform="translate(243.0,1044.4) scale(9.8,25.8)"/>
<use href="#pk1" transform="translate(310.5,1030.9) scale(12.6,17.4)"/>
<use href="#pk3" transform="translate(390.6,1015.4) scale(14.6,27.8)"/>
<use href="#pk0" transform="translate(503.2,992.8) scale(8.4,7.0)"/>
<use href="#pk3" transform="translate(293.0,1035.1) scale(11.6,25.7)"/>
<use href="#pk0" transform="translate(473.6,999.9) scale(8.7,10.9)"/>
<use href="#pk3" transform="translate(258.6,1043.3) scale(13.2,24.6)"/>
<use href="#pk1" transform="translate(454.4,1004.3) scale(10.3,15.4)"/>
<use href="#pk2" transform="translate(439.8,1007.4) scale(10.0,22.7)"/>
<use href="#pk3" transform="translate(195.0,1056.7) scale(13.4,23.2)"/>
<use href="#pk3" transform="translate(278.8,1039.9) scale(14.4,27.3)"/>
<use href="#pk0" transform="translate(497.7,996.4) scale(7.5,8.1)"/>
<use href="#pk1" transform="translate(332.0,1030.2) scale(9.9,14.0)"/>
<use href="#pk0" transform="translate(518.2,993.1) scale(8.2,8.9)"/>
<use href="#pk4" transform="translate(416.3,1013.8) scale(13.8,33.4)"/>
<use href="#pk3" transform="translate(367.6,1023.9) scale(11.6,27.3)"/>
<use href="#pk1" transform="translate(527.2,992.0) scale(9.4,14.9)"/>
<use href="#pk2" transform="translate(275.9,1042.6) scale(10.2,19.6)"/>
<use href="#pk3" transform="translate(213.5,1055.3) scale(12.4,24.3)"/>
<use href="#pk1" transform="translate(410.9,1015.7) scale(10.5,16.5)"/>
<use href="#pk1" transform="translate(392.0,1019.7) scale(10.6,16.9)"/>
<use href="#pk1" transform="translate(471.2,1004.6) scale(10.8,13.6)"/>
<use href="#pk3" transform="translate(231.9,1053.2) scale(12.0,26.1)"/>
<use href="#pk0" transform="translate(349.7,1030.5) scale(11.4,11.3)"/>
<use href="#pk2" transform="translate(261.3,1048.7) scale(11.0,20.8)"/>
<use href="#pk1" transform="translate(429.2,1014.9) scale(11.7,15.8)"/>
<use href="#pk2" transform="translate(212.0,1059.4) scale(12.9,19.1)"/>
<use href="#pk1" transform="translate(481.8,1005.7) scale(10.9,15.7)"/>
<use href="#pk0" transform="translate(502.9,1001.5) scale(9.3,7.1)"/>
<use href="#pk4" transform="translate(384.2,1026.3) scale(14.0,28.3)"/>
<use href="#pk1" transform="translate(196.5,1065.3) scale(11.7,17.8)"/>
<use href="#pk1" transform="translate(545.5,995.3) scale(9.2,15.9)"/>
<use href="#pk1" transform="translate(370.7,1030.7) scale(10.3,17.0)"/>
<use href="#pk1" transform="translate(219.1,1061.1) scale(8.8,14.2)"/>
<use href="#pk4" transform="translate(331.2,1038.8) scale(10.2,28.3)"/>
<use href="#pk4" transform="translate(455.3,1014.1) scale(13.5,28.4)"/>
<use href="#pk1" transform="translate(516.2,1002.4) scale(9.7,15.4)"/>
<use href="#pk2" transform="translate(369.5,1031.9) scale(10.0,19.4)"/>
<use href="#pk2" transform="translate(515.1,1003.1) scale(8.9,19.1)"/>
<use href="#pk1" transform="translate(446.8,1016.9) scale(8.7,17.4)"/>
<use href="#pk2" transform="translate(257.4,1055.1) scale(11.8,19.0)"/>
<use href="#pk3" transform="translate(296.5,1047.3) scale(11.0,23.0)"/>
<use href="#pk3" transform="translate(318.2,1043.2) scale(11.8,25.6)"/>
<use href="#pk1" transform="translate(489.7,1008.9) scale(10.8,13.4)"/>
<use href="#pk2" transform="translate(304.5,1046.3) scale(12.9,19.3)"/>
<use href="#pk2" transform="translate(357.6,1036.4) scale(11.9,18.8)"/>
<use href="#pk4" transform="translate(419.9,1024.8) scale(11.4,29.8)"/>
<use href="#pk4" transform="translate(390.8,1030.7) scale(15.8,32.8)"/>
<use href="#pk3" transform="translate(394.6,1030.6) scale(10.8,26.9)"/>
<use href="#pk1" transform="translate(551.8,1000.6) scale(11.0,16.4)"/>
<use href="#pk3" transform="translate(310.9,1049.1) scale(12.5,23.6)"/>
<use href="#pk1" transform="translate(222.2,1067.0) scale(9.7,16.4)"/>
<use href="#pk0" transform="translate(500.2,1011.8) scale(10.9,9.5)"/>
<use href="#pk1" transform="translate(209.7,1070.1) scale(10.7,14.2)"/>
<use href="#pk3" transform="translate(447.5,1022.6) scale(13.5,27.1)"/>
<use href="#pk0" transform="translate(242.0,1064.1) scale(8.3,10.9)"/>
<use href="#pk3" transform="translate(246.8,1064.2) scale(13.7,25.2)"/>
<use href="#pk0" transform="translate(280.5,1057.5) scale(9.1,12.2)"/>
<use href="#pk1" transform="translate(335.6,1047.1) scale(10.9,15.0)"/>
<use href="#pk3" transform="translate(435.5,1027.9) scale(13.2,24.6)"/>
<use href="#pk0" transform="translate(325.0,1050.1) scale(9.2,11.9)"/>
<use href="#pk1" transform="translate(347.5,1045.6) scale(9.6,16.0)"/>
<use href="#pk4" transform="translate(439.5,1027.2) scale(11.9,29.2)"/>
<use href="#pk4" transform="translate(303.3,1054.7) scale(15.9,33.1)"/>
<use href="#pk3" transform="translate(215.6,1072.3) scale(13.0,25.6)"/>
<use href="#pk3" transform="translate(456.9,1024.1) scale(12.5,28.0)"/>
<use href="#pk2" transform="translate(477.4,1020.4) scale(12.0,22.8)"/>
<use href="#pk2" transform="translate(272.8,1061.5) scale(12.5,23.1)"/>
<use href="#pk1" transform="translate(537.9,1008.5) scale(9.7,17.0)"/>
<use href="#pk3" transform="translate(553.7,1005.3) scale(10.1,25.3)"/>
<use href="#pk1" transform="translate(516.6,1014.4) scale(8.6,13.6)"/>
<use href="#pk3" transform="translate(474.8,1022.8) scale(12.4,24.3)"/>
<use href="#pk4" transform="translate(458.7,1027.1) scale(13.4,29.5)"/>
<use href="#pk3" transform="translate(263.0,1066.6) scale(14.1,23.4)"/>
<use href="#pk0" transform="translate(238.7,1071.6) scale(10.5,12.2)"/>
<use href="#pk2" transform="translate(329.1,1053.6) scale(13.1,21.1)"/>
<use href="#pk2" transform="translate(487.5,1022.6) scale(13.9,22.1)"/>
<use href="#pk2" transform="translate(386.7,1043.8) scale(11.4,20.9)"/>
<use href="#pk4" transform="translate(339.3,1053.6) scale(13.0,38.1)"/>
<use href="#pk3" transform="translate(284.6,1065.0) scale(12.0,24.9)"/>
<use href="#pk0" transform="translate(505.7,1021.6) scale(9.0,9.4)"/>
<use href="#pk4" transform="translate(417.3,1039.5) scale(14.8,36.0)"/>
<use href="#pk3" transform="translate(428.2,1037.4) scale(12.5,24.7)"/>
<use href="#pk1" transform="translate(293.8,1064.8) scale(9.0,16.0)"/>
<use href="#pk0" transform="translate(275.3,1069.4) scale(11.4,9.9)"/>
<use href="#pk2" transform="translate(371.8,1050.3) scale(12.0,23.2)"/>
<use href="#pk3" transform="translate(242.0,1076.5) scale(13.9,27.8)"/>
<use href="#pk2" transform="translate(308.5,1063.2) scale(11.7,20.8)"/>
<use href="#pk1" transform="translate(543.0,1017.1) scale(11.4,17.8)"/>
<use href="#pk4" transform="translate(408.7,1044.2) scale(13.9,35.4)"/>
<use href="#pk0" transform="translate(572.2,1011.8) scale(8.0,9.0)"/>
<use href="#pk1" transform="translate(330.1,1060.6) scale(9.2,16.5)"/>
<use href="#pk1" transform="translate(245.4,1078.0) scale(11.3,14.0)"/>
<use href="#pk2" transform="translate(320.0,1063.6) scale(11.0,22.1)"/>
<use href="#pk2" transform="translate(352.6,1057.4) scale(9.5,18.8)"/>
<use href="#pk2" transform="translate(233.1,1081.5) scale(12.9,20.3)"/>
<use href="#pk3" transform="translate(371.2,1054.0) scale(13.8,27.3)"/>
<use href="#pk4" transform="translate(416.1,1045.1) scale(14.9,33.7)"/>
<use href="#pk2" transform="translate(529.5,1022.6) scale(11.4,23.2)"/>
<use href="#pk2" transform="translate(473.2,1033.9) scale(9.6,19.5)"/>
<use href="#pk2" transform="translate(549.9,1018.9) scale(12.9,22.0)"/>
<use href="#pk1" transform="translate(297.7,1070.0) scale(9.6,17.1)"/>
<use href="#pk4" transform="translate(453.8,1039.4) scale(14.4,32.3)"/>
<use href="#pk2" transform="translate(216.5,1086.9) scale(12.0,18.6)"/>
<use href="#pk2" transform="translate(528.9,1025.5) scale(10.3,19.7)"/>
<use href="#pk3" transform="translate(265.9,1078.3) scale(9.8,24.8)"/>
<use href="#pk4" transform="translate(441.2,1043.6) scale(14.0,32.9)"/>
<use href="#pk1" transform="translate(507.8,1030.7) scale(11.9,15.7)"/>
<use href="#pk4" transform="translate(403.6,1052.2) scale(13.6,30.3)"/>
<use href="#pk4" transform="translate(346.6,1064.2) scale(16.2,35.5)"/>
<use href="#pk2" transform="translate(432.9,1047.4) scale(10.1,19.4)"/>
<use href="#pk4" transform="translate(429.5,1048.9) scale(14.7,32.1)"/>
<use href="#pk3" transform="translate(390.7,1056.9) scale(12.3,27.0)"/>
<use href="#pk3" transform="translate(270.5,1081.2) scale(12.7,25.0)"/>
<use href="#pk1" transform="translate(502.8,1034.9) scale(10.0,16.9)"/>
<use href="#pk4" transform="translate(470.1,1042.0) scale(11.8,30.6)"/>
<use href="#pk1" transform="translate(493.8,1037.3) scale(11.1,16.7)"/>
<use href="#pk1" transform="translate(535.9,1029.0) scale(10.9,14.3)"/>
<use href="#pk2" transform="translate(509.1,1035.5) scale(13.2,19.2)"/>
<use href="#pk1" transform="translate(575.6,1022.4) scale(11.4,17.2)"/>
<use href="#pk3" transform="translate(294.5,1078.7) scale(12.5,26.2)"/>
</g>
<line x1="130.0" y1="962.5" x2="238.8" y2="1158.8" stroke="#333" stroke-width="1.5"/>
<line x1="238.8" y1="1158.8" x2="592.5" y2="1052.5" stroke="#333" stroke-width="1.5"/>
<line x1="592.5" y1="1052.5" x2="592.5" y2="990.0" stroke="#333" stroke-width="1.5"/>
<line x1="130.0" y1="962.5" x2="124.0" y2="962.5" stroke="#333" stroke-width="1.2"/>
<line x1="184.0" y1="1060.0" x2="178.0" y2="1060.0" stroke="#333" stroke-width="1.2"/>
<line x1="238.8" y1="1158.8" x2="232.0" y2="1158.8" stroke="#333" stroke-width="1.2"/>
<line x1="415.0" y1="1106.0" x2="415.0" y2="1112.0" stroke="#333" stroke-width="1.2"/>
<line x1="592.5" y1="990.0" x2="598.0" y2="988.0" stroke="#333" stroke-width="1.2"/>
<line x1="592.5" y1="1021.0" x2="598.0" y2="1020.0" stroke="#333" stroke-width="1.2"/>
<text x="107.5" y="895.0" font-size="20" textLength="20" lengthAdjust="spacingAndGlyphs" fill="#383838">(f)</text>
<text x="115.0" y="979.0" font-size="22" text-anchor="end" fill="#383838">500</text>
<text x="162.5" y="1067.5" font-size="22" text-anchor="end" fill="#383838">250</text>
<text x="57.5" y="1102.5" font-size="22" textLength="62.5" lengthAdjust="spacingAndGlyphs" fill="#383838">Y, nm</text>
<text x="230.0" y="1196.0" font-size="22" text-anchor="middle" fill="#383838">0</text>
<text x="445.0" y="1147.5" font-size="22" text-anchor="middle" fill="#383838">250</text>
<text x="445.0" y="1197.5" font-size="22" textLength="62.5" lengthAdjust="spacingAndGlyphs" fill="#383838">X, nm</text>
<text x="590.0" y="1095.0" font-size="22" textLength="40" lengthAdjust="spacingAndGlyphs" fill="#383838">500</text>
<text x="585.0" y="945.0" font-size="22" textLength="65" lengthAdjust="spacingAndGlyphs" fill="#383838">Z, nm</text>
<text x="620.0" y="1010.0" font-size="22" textLength="25" lengthAdjust="spacingAndGlyphs" fill="#383838">18</text>
<path d="M832,1138 L930,1118 L1030,1085 L1158,1018 L1162,1045 L1060,1092 L950,1135 L860,1160 L835,1155Z" fill="#b4b4bc" filter="url(#blur6)" opacity="0.7"/>
<clipPath id="cf2"><path d="M835.0,1140.0 L841.4,1145.1 L847.7,1135.8 L854.1,1140.7 L860.4,1129.5 L866.8,1138.7 L873.2,1124.2 L879.5,1134.5 L885.9,1120.8 L892.2,1131.0 L898.6,1121.0 L905.0,1122.8 L911.3,1115.2 L917.7,1123.4 L924.0,1109.4 L930.4,1116.9 L936.8,1109.9 L943.1,1119.0 L949.5,1101.8 L955.8,1112.9 L962.2,1102.2 L968.6,1105.4 L974.9,1096.7 L981.3,1100.1 L987.6,1091.7 L994.0,1101.4 L1000.4,1089.1 L1006.7,1098.4 L1013.1,1082.8 L1019.4,1091.3 L1025.8,1082.9 L1032.2,1089.4 L1038.5,1077.1 L1044.9,1084.2 L1051.2,1076.0 L1057.6,1081.8 L1064.0,1067.4 L1070.3,1079.8 L1076.7,1065.2 L1083.0,1073.1 L1089.4,1060.9 L1095.8,1069.5 L1102.1,1057.7 L1108.5,1062.9 L1114.8,1055.4 L1121.2,1059.2 L1127.6,1052.4 L1133.9,1054.8 L1140.3,1048.7 L1146.6,1057.3 L1153.0,1046.0 L1157.0,1046.0 L1157.0,1001.0 L985.0,830.0 L698.0,888.0 L704.0,938.0 L704.0,958.0Z"/></clipPath>
<g clip-path="url(#cf2)">
<path d="M835,1148 L1153,1054 L960,900 L708,958Z" fill="#0c4a0c"/>
<linearGradient id="cf2sk" gradientUnits="userSpaceOnUse" x1="0" y1="1079" x2="0" y2="1105"><stop offset="0" stop-color="#1c8a20"/><stop offset="0.5" stop-color="#12a0a0"/><stop offset="1" stop-color="#1848b0"/></linearGradient>
<g transform="translate(0,0)"><path d="M835,1124 L1153,1030 L1153,1062 L835,1156Z" fill="#11705a"/></g>
<use href="#pk2" transform="translate(786.9,947.0) scale(8.7,17.2)"/>
<use href="#pk1" transform="translate(794.0,945.4) scale(8.3,13.3)"/>
<use href="#pk2" transform="translate(922.4,915.6) scale(10.6,18.9)"/>
<use href="#pk4" transform="translate(938.8,911.8) scale(10.0,25.6)"/>
<use href="#pk1" transform="translate(865.9,929.5) scale(10.8,14.3)"/>
<use href="#pk2" transform="translate(958.4,908.1) scale(11.0,19.1)"/>
<use href="#pk0" transform="translate(826.2,939.3) scale(9.1,7.1)"/>
<use href="#pk0" transform="translate(834.1,937.7) scale(8.2,6.1)"/>
<use href="#pk1" transform="translate(864.9,930.7) scale(9.7,12.9)"/>
<use href="#pk4" transform="translate(730.0,963.1) scale(9.8,25.1)"/>
<use href="#pk3" transform="translate(883.7,928.3) scale(9.0,23.1)"/>
<use href="#pk1" transform="translate(890.8,928.0) scale(7.8,15.1)"/>
<use href="#pk1" transform="translate(909.2,923.8) scale(9.2,11.9)"/>
<use href="#pk1" transform="translate(852.7,937.2) scale(10.7,14.6)"/>
<use href="#pk1" transform="translate(805.4,948.4) scale(8.4,12.7)"/>
<use href="#pk3" transform="translate(970.8,910.3) scale(10.9,23.9)"/>
<use href="#pk3" transform="translate(719.6,970.1) scale(9.7,23.9)"/>
<use href="#pk4" transform="translate(784.2,955.3) scale(11.8,25.9)"/>
<use href="#pk1" transform="translate(823.6,946.4) scale(10.3,12.7)"/>
<use href="#pk3" transform="translate(761.8,961.5) scale(11.0,20.0)"/>
<use href="#pk2" transform="translate(920.0,925.3) scale(9.6,17.1)"/>
<use href="#pk2" transform="translate(944.2,919.9) scale(11.1,16.5)"/>
<use href="#pk2" transform="translate(798.1,954.5) scale(9.5,17.5)"/>
<use href="#pk4" transform="translate(725.8,972.4) scale(13.4,27.7)"/>
<use href="#pk4" transform="translate(770.3,962.0) scale(12.4,25.4)"/>
<use href="#pk3" transform="translate(763.7,963.9) scale(11.4,22.0)"/>
<use href="#pk0" transform="translate(870.3,938.9) scale(9.0,10.2)"/>
<use href="#pk3" transform="translate(754.8,966.4) scale(10.4,24.0)"/>
<use href="#pk1" transform="translate(896.4,933.4) scale(8.8,14.4)"/>
<use href="#pk1" transform="translate(881.3,937.0) scale(8.7,15.3)"/>
<use href="#pk2" transform="translate(813.3,953.4) scale(10.3,17.2)"/>
<use href="#pk0" transform="translate(843.1,946.5) scale(9.0,6.1)"/>
<use href="#pk4" transform="translate(780.6,962.1) scale(9.7,24.8)"/>
<use href="#pk0" transform="translate(848.9,946.1) scale(7.8,6.1)"/>
<use href="#pk0" transform="translate(837.8,950.4) scale(7.6,8.9)"/>
<use href="#pk2" transform="translate(935.9,927.3) scale(9.1,18.3)"/>
<use href="#pk0" transform="translate(865.9,944.1) scale(6.9,6.2)"/>
<use href="#pk2" transform="translate(790.1,962.3) scale(11.5,19.3)"/>
<use href="#pk3" transform="translate(762.1,969.3) scale(10.1,20.7)"/>
<use href="#pk3" transform="translate(952.0,925.8) scale(12.2,24.5)"/>
<use href="#pk3" transform="translate(966.0,922.5) scale(9.2,22.7)"/>
<use href="#pk1" transform="translate(928.1,931.8) scale(10.0,13.9)"/>
<use href="#pk4" transform="translate(746.3,975.5) scale(11.8,33.4)"/>
<use href="#pk4" transform="translate(729.9,980.2) scale(13.5,29.7)"/>
<use href="#pk2" transform="translate(912.0,938.0) scale(9.4,17.4)"/>
<use href="#pk2" transform="translate(803.4,964.5) scale(9.4,20.0)"/>
<use href="#pk0" transform="translate(978.2,922.6) scale(7.2,10.8)"/>
<use href="#pk3" transform="translate(846.6,954.5) scale(11.5,20.8)"/>
<use href="#pk0" transform="translate(826.3,959.9) scale(8.7,6.2)"/>
<use href="#pk4" transform="translate(736.0,981.7) scale(8.9,25.1)"/>
<use href="#pk0" transform="translate(891.2,944.4) scale(8.6,10.0)"/>
<use href="#pk2" transform="translate(893.7,943.8) scale(10.6,17.7)"/>
<use href="#pk2" transform="translate(949.4,930.8) scale(9.2,17.3)"/>
<use href="#pk4" transform="translate(729.6,983.9) scale(9.8,30.2)"/>
<use href="#pk0" transform="translate(859.1,952.7) scale(7.5,6.2)"/>
<use href="#pk4" transform="translate(875.5,949.6) scale(11.5,25.5)"/>
<use href="#pk1" transform="translate(959.4,929.4) scale(9.4,15.4)"/>
<use href="#pk1" transform="translate(867.9,952.3) scale(9.4,12.7)"/>
<use href="#pk1" transform="translate(933.0,938.7) scale(7.6,15.3)"/>
<use href="#pk3" transform="translate(982.0,927.5) scale(10.3,21.3)"/>
<use href="#pk4" transform="translate(784.0,975.9) scale(10.9,26.7)"/>
<use href="#pk1" transform="translate(972.3,930.3) scale(10.9,14.7)"/>
<use href="#pk4" transform="translate(757.2,982.8) scale(13.0,33.8)"/>
<use href="#pk2" transform="translate(827.2,966.0) scale(11.5,18.2)"/>
<use href="#pk0" transform="translate(947.5,936.9) scale(8.5,10.5)"/>
<use href="#pk2" transform="translate(926.8,942.9) scale(11.0,18.8)"/>
<use href="#pk0" transform="translate(838.5,964.8) scale(8.5,6.3)"/>
<use href="#pk0" transform="translate(817.1,970.1) scale(9.7,8.8)"/>
<use href="#pk3" transform="translate(772.7,981.1) scale(10.5,24.8)"/>
<use href="#pk1" transform="translate(891.8,953.5) scale(10.0,14.0)"/>
<use href="#pk1" transform="translate(918.7,947.0) scale(9.0,13.0)"/>
<use href="#pk0" transform="translate(989.9,929.7) scale(8.1,8.8)"/>
<use href="#pk4" transform="translate(755.1,987.5) scale(10.6,30.1)"/>
<use href="#pk4" transform="translate(792.5,978.5) scale(9.4,26.4)"/>
<use href="#pk4" transform="translate(743.9,990.4) scale(10.8,29.6)"/>
<use href="#pk4" transform="translate(779.8,981.8) scale(11.9,33.9)"/>
<use href="#pk4" transform="translate(787.5,980.5) scale(13.5,26.8)"/>
<use href="#pk2" transform="translate(965.8,936.8) scale(8.5,17.2)"/>
<use href="#pk3" transform="translate(861.4,963.0) scale(12.0,20.5)"/>
<use href="#pk1" transform="translate(837.9,969.9) scale(10.0,12.4)"/>
<use href="#pk4" transform="translate(748.2,992.3) scale(12.8,28.5)"/>
<use href="#pk1" transform="translate(738.5,996.4) scale(9.4,15.0)"/>
<use href="#pk1" transform="translate(957.4,944.0) scale(9.2,13.8)"/>
<use href="#pk3" transform="translate(806.9,981.2) scale(11.2,23.1)"/>
<use href="#pk2" transform="translate(983.3,937.7) scale(11.2,18.6)"/>
<use href="#pk4" transform="translate(905.9,957.1) scale(13.2,26.8)"/>
<use href="#pk1" transform="translate(915.2,955.1) scale(7.5,14.0)"/>
<use href="#pk1" transform="translate(827.2,978.4) scale(10.7,13.5)"/>
<use href="#pk0" transform="translate(881.0,965.6) scale(9.0,6.3)"/>
<use href="#pk0" transform="translate(852.8,972.7) scale(10.1,10.6)"/>
<use href="#pk4" transform="translate(771.6,993.4) scale(10.9,28.9)"/>
<use href="#pk2" transform="translate(955.3,948.2) scale(9.4,18.8)"/>
<use href="#pk0" transform="translate(888.9,965.0) scale(9.8,9.7)"/>
<use href="#pk0" transform="translate(945.6,951.1) scale(9.3,6.9)"/>
<use href="#pk0" transform="translate(895.4,963.6) scale(7.8,6.3)"/>
<use href="#pk4" transform="translate(768.4,995.3) scale(11.1,26.5)"/>
<use href="#pk3" transform="translate(801.8,987.1) scale(9.8,22.6)"/>
<use href="#pk1" transform="translate(829.4,980.5) scale(7.9,12.8)"/>
<use href="#pk2" transform="translate(936.6,954.1) scale(9.0,20.3)"/>
<use href="#pk1" transform="translate(823.0,982.7) scale(8.7,14.4)"/>
<use href="#pk3" transform="translate(993.0,940.9) scale(9.3,21.4)"/>
<use href="#pk0" transform="translate(908.7,962.1) scale(8.6,7.8)"/>
<use href="#pk0" transform="translate(841.1,979.2) scale(9.6,10.1)"/>
<use href="#pk1" transform="translate(817.9,986.6) scale(9.1,11.9)"/>
<use href="#pk4" transform="translate(767.6,999.6) scale(10.6,27.4)"/>
<use href="#pk2" transform="translate(951.1,953.9) scale(9.1,18.7)"/>
<use href="#pk3" transform="translate(794.4,993.2) scale(10.9,24.0)"/>
<use href="#pk4" transform="translate(781.1,996.5) scale(10.2,29.2)"/>
<use href="#pk0" transform="translate(891.4,969.5) scale(8.0,7.5)"/>
<use href="#pk4" transform="translate(777.7,998.2) scale(10.2,32.8)"/>
<use href="#pk1" transform="translate(847.8,980.8) scale(10.3,15.0)"/>
<use href="#pk0" transform="translate(992.6,944.9) scale(9.5,9.7)"/>
<use href="#pk1" transform="translate(873.6,975.8) scale(7.7,12.7)"/>
<use href="#pk0" transform="translate(975.1,950.4) scale(7.7,10.9)"/>
<use href="#pk3" transform="translate(940.5,959.2) scale(10.0,21.9)"/>
<use href="#pk0" transform="translate(923.3,964.4) scale(7.5,8.8)"/>
<use href="#pk0" transform="translate(862.3,980.6) scale(9.6,7.1)"/>
<use href="#pk2" transform="translate(751.4,1009.5) scale(9.7,16.7)"/>
<use href="#pk0" transform="translate(823.1,992.1) scale(7.2,11.1)"/>
<use href="#pk0" transform="translate(945.3,961.4) scale(7.8,7.6)"/>
<use href="#pk0" transform="translate(838.1,989.0) scale(8.6,6.4)"/>
<use href="#pk0" transform="translate(938.4,963.7) scale(9.7,7.5)"/>
<use href="#pk2" transform="translate(852.9,985.4) scale(9.8,20.1)"/>
<use href="#pk1" transform="translate(972.1,956.0) scale(11.0,14.3)"/>
<use href="#pk0" transform="translate(1006.3,947.4) scale(7.3,7.8)"/>
<use href="#pk1" transform="translate(978.1,954.6) scale(8.2,12.4)"/>
<use href="#pk1" transform="translate(960.9,958.9) scale(10.6,16.3)"/>
<use href="#pk2" transform="translate(794.7,1001.3) scale(10.3,16.8)"/>
<use href="#pk3" transform="translate(780.9,1004.8) scale(10.7,24.2)"/>
<use href="#pk4" transform="translate(930.6,968.7) scale(9.9,27.1)"/>
<use href="#pk1" transform="translate(832.9,993.6) scale(9.5,13.6)"/>
<use href="#pk3" transform="translate(992.3,954.0) scale(9.8,23.0)"/>
<use href="#pk0" transform="translate(924.8,973.0) scale(10.3,10.8)"/>
<use href="#pk3" transform="translate(959.9,964.2) scale(13.4,24.9)"/>
<use href="#pk2" transform="translate(902.5,979.0) scale(11.0,19.1)"/>
<use href="#pk2" transform="translate(917.5,975.2) scale(10.7,18.6)"/>
<use href="#pk1" transform="translate(1009.5,952.3) scale(8.0,14.0)"/>
<use href="#pk4" transform="translate(770.8,1013.3) scale(9.9,28.1)"/>
<use href="#pk4" transform="translate(774.7,1012.4) scale(11.6,34.0)"/>
<use href="#pk2" transform="translate(812.5,1003.0) scale(10.1,20.9)"/>
<use href="#pk1" transform="translate(881.3,985.7) scale(10.3,14.7)"/>
<use href="#pk2" transform="translate(874.5,988.3) scale(12.2,19.4)"/>
<use href="#pk2" transform="translate(890.8,984.1) scale(10.1,18.6)"/>
<use href="#pk1" transform="translate(832.4,1001.3) scale(9.9,12.0)"/>
<use href="#pk4" transform="translate(751.6,1022.4) scale(14.3,30.0)"/>
<use href="#pk1" transform="translate(908.0,982.6) scale(8.6,15.0)"/>
<use href="#pk4" transform="translate(1008.6,957.5) scale(9.8,32.2)"/>
<use href="#pk3" transform="translate(985.8,963.6) scale(9.7,25.0)"/>
<use href="#pk2" transform="translate(943.3,974.7) scale(11.3,17.9)"/>
<use href="#pk0" transform="translate(870.2,993.7) scale(8.8,8.7)"/>
<use href="#pk3" transform="translate(781.7,1016.4) scale(12.3,24.8)"/>
<use href="#pk4" transform="translate(780.1,1017.2) scale(14.3,30.6)"/>
<use href="#pk2" transform="translate(815.8,1008.5) scale(8.9,19.4)"/>
<use href="#pk2" transform="translate(966.1,970.0) scale(10.5,17.6)"/>
<use href="#pk2" transform="translate(817.0,1008.3) scale(10.3,18.6)"/>
<use href="#pk1" transform="translate(876.5,993.7) scale(9.4,14.4)"/>
<use href="#pk2" transform="translate(904.6,986.5) scale(10.3,18.7)"/>
<use href="#pk2" transform="translate(958.2,973.7) scale(10.5,18.4)"/>
<use href="#pk1" transform="translate(861.0,998.9) scale(10.5,13.5)"/>
<use href="#pk3" transform="translate(849.2,1003.0) scale(11.0,22.3)"/>
<use href="#pk3" transform="translate(896.5,991.7) scale(12.3,22.3)"/>
<use href="#pk3" transform="translate(807.7,1015.8) scale(10.4,23.1)"/>
<use href="#pk2" transform="translate(1025.9,959.6) scale(12.1,19.1)"/>
<use href="#pk0" transform="translate(925.8,985.9) scale(8.9,8.5)"/>
<use href="#pk4" transform="translate(765.6,1028.1) scale(13.1,31.3)"/>
<use href="#pk4" transform="translate(758.2,1031.0) scale(12.2,33.1)"/>
<use href="#pk2" transform="translate(949.3,981.9) scale(11.3,19.6)"/>
<use href="#pk1" transform="translate(892.6,997.0) scale(9.8,16.4)"/>
<use href="#pk4" transform="translate(1001.5,969.3) scale(12.9,28.3)"/>
<use href="#pk1" transform="translate(930.5,987.9) scale(11.0,15.1)"/>
<use href="#pk2" transform="translate(851.7,1008.6) scale(8.2,17.7)"/>
<use href="#pk3" transform="translate(944.7,984.4) scale(10.8,22.0)"/>
<use href="#pk1" transform="translate(907.3,995.2) scale(8.9,14.3)"/>
<use href="#pk3" transform="translate(1017.1,967.0) scale(9.5,25.0)"/>
<use href="#pk1" transform="translate(868.0,1005.9) scale(8.2,16.6)"/>
<use href="#pk4" transform="translate(773.5,1031.0) scale(13.4,35.5)"/>
<use href="#pk2" transform="translate(803.5,1023.3) scale(8.4,18.3)"/>
<use href="#pk1" transform="translate(913.3,994.9) scale(10.3,14.7)"/>
<use href="#pk4" transform="translate(786.5,1028.8) scale(10.1,30.9)"/>
<use href="#pk4" transform="translate(1003.0,972.4) scale(10.4,28.1)"/>
<use href="#pk2" transform="translate(833.6,1017.4) scale(10.0,17.7)"/>
<use href="#pk2" transform="translate(1011.7,971.3) scale(11.5,19.8)"/>
<use href="#pk4" transform="translate(963.6,983.8) scale(13.2,32.8)"/>
<use href="#pk2" transform="translate(937.5,991.0) scale(9.9,17.6)"/>
<use href="#pk2" transform="translate(823.0,1021.2) scale(10.8,20.9)"/>
<use href="#pk3" transform="translate(996.6,977.3) scale(11.7,23.0)"/>
<use href="#pk3" transform="translate(987.0,982.8) scale(9.0,21.9)"/>
<use href="#pk2" transform="translate(850.7,1018.8) scale(10.0,17.9)"/>
<use href="#pk2" transform="translate(812.0,1029.4) scale(10.8,21.0)"/>
<use href="#pk3" transform="translate(995.3,981.4) scale(9.2,24.9)"/>
<use href="#pk3" transform="translate(1038.4,970.2) scale(11.6,25.0)"/>
<use href="#pk4" transform="translate(893.1,1008.5) scale(11.8,26.5)"/>
<use href="#pk4" transform="translate(986.8,983.8) scale(12.9,27.2)"/>
<use href="#pk2" transform="translate(971.4,988.2) scale(8.8,18.0)"/>
<use href="#pk2" transform="translate(901.6,1007.1) scale(12.1,20.5)"/>
<use href="#pk0" transform="translate(871.9,1015.3) scale(9.2,8.3)"/>
<use href="#pk4" transform="translate(1025.7,975.2) scale(11.5,30.4)"/>
<use href="#pk3" transform="translate(1044.3,970.5) scale(9.1,23.4)"/>
<use href="#pk1" transform="translate(830.7,1027.3) scale(11.2,15.5)"/>
<use href="#pk4" transform="translate(1014.7,978.7) scale(13.1,29.9)"/>
<use href="#pk0" transform="translate(886.6,1012.8) scale(10.6,9.3)"/>
<use href="#pk2" transform="translate(941.3,998.4) scale(12.4,18.6)"/>
<use href="#pk3" transform="translate(1038.2,973.2) scale(10.5,25.5)"/>
<use href="#pk4" transform="translate(839.0,1026.2) scale(12.7,28.5)"/>
<use href="#pk4" transform="translate(777.2,1042.6) scale(12.3,31.4)"/>
<use href="#pk3" transform="translate(965.4,993.8) scale(12.7,24.5)"/>
<use href="#pk3" transform="translate(808.9,1037.6) scale(11.4,26.2)"/>
<use href="#pk2" transform="translate(934.1,1005.1) scale(10.9,19.7)"/>
<use href="#pk0" transform="translate(928.0,1007.4) scale(7.5,10.4)"/>
<use href="#pk4" transform="translate(795.0,1043.4) scale(14.5,33.2)"/>
<use href="#pk2" transform="translate(829.5,1034.6) scale(8.7,19.5)"/>
<use href="#pk1" transform="translate(850.3,1029.5) scale(9.5,13.3)"/>
<use href="#pk2" transform="translate(815.3,1039.1) scale(11.6,17.6)"/>
<use href="#pk4" transform="translate(899.7,1016.6) scale(10.7,28.2)"/>
<use href="#pk3" transform="translate(1016.9,985.4) scale(10.8,26.3)"/>
<use href="#pk2" transform="translate(881.6,1021.7) scale(10.9,17.3)"/>
<use href="#pk4" transform="translate(1043.2,979.0) scale(10.4,33.7)"/>
<use href="#pk4" transform="translate(862.7,1027.6) scale(11.9,26.9)"/>
<use href="#pk3" transform="translate(964.0,1000.7) scale(13.6,23.9)"/>
<use href="#pk1" transform="translate(958.2,1003.6) scale(8.6,12.5)"/>
<use href="#pk2" transform="translate(809.3,1043.5) scale(12.0,21.6)"/>
<use href="#pk4" transform="translate(776.3,1053.5) scale(12.5,32.1)"/>
<use href="#pk2" transform="translate(1005.0,992.3) scale(10.2,18.6)"/>
<use href="#pk3" transform="translate(796.6,1049.8) scale(11.4,23.8)"/>
<use href="#pk2" transform="translate(867.7,1031.6) scale(13.1,21.3)"/>
<use href="#pk4" transform="translate(911.9,1020.0) scale(10.2,26.9)"/>
<use href="#pk0" transform="translate(1038.7,986.6) scale(9.5,10.9)"/>
<use href="#pk3" transform="translate(840.8,1039.9) scale(10.9,25.0)"/>
<use href="#pk4" transform="translate(948.7,1011.0) scale(10.4,28.3)"/>
<use href="#pk3" transform="translate(996.1,998.3) scale(10.9,26.0)"/>
<use href="#pk1" transform="translate(976.3,1003.8) scale(11.6,15.4)"/>
<use href="#pk2" transform="translate(1053.5,983.6) scale(10.5,19.2)"/>
<use href="#pk2" transform="translate(876.1,1032.1) scale(10.7,20.9)"/>
<use href="#pk1" transform="translate(858.3,1037.6) scale(11.6,14.4)"/>
<use href="#pk3" transform="translate(939.4,1016.1) scale(9.5,24.9)"/>
<use href="#pk3" transform="translate(899.9,1028.1) scale(11.9,24.0)"/>
<use href="#pk3" transform="translate(803.4,1054.3) scale(13.8,26.3)"/>
<use href="#pk3" transform="translate(927.2,1021.2) scale(14.0,25.0)"/>
<use href="#pk3" transform="translate(901.4,1028.2) scale(10.5,23.2)"/>
<use href="#pk3" transform="translate(790.5,1058.1) scale(10.7,24.4)"/>
<use href="#pk3" transform="translate(994.7,1003.0) scale(12.9,26.1)"/>
<use href="#pk2" transform="translate(845.5,1043.5) scale(10.9,21.5)"/>
<use href="#pk2" transform="translate(885.2,1034.0) scale(9.2,21.9)"/>
<use href="#pk2" transform="translate(956.1,1014.9) scale(9.2,19.4)"/>
<use href="#pk2" transform="translate(970.3,1011.1) scale(12.0,18.0)"/>
<use href="#pk4" transform="translate(915.8,1026.3) scale(12.9,32.9)"/>
<use href="#pk4" transform="translate(1035.0,994.4) scale(13.8,27.2)"/>
<use href="#pk1" transform="translate(820.3,1052.9) scale(11.5,16.6)"/>
<use href="#pk2" transform="translate(861.7,1042.6) scale(9.8,18.7)"/>
<use href="#pk3" transform="translate(881.3,1037.6) scale(11.3,25.3)"/>
<use href="#pk4" transform="translate(986.5,1009.8) scale(12.1,32.3)"/>
<use href="#pk4" transform="translate(998.8,1006.7) scale(12.5,36.8)"/>
<use href="#pk2" transform="translate(1008.3,1004.4) scale(9.7,19.3)"/>
<use href="#pk2" transform="translate(940.4,1023.2) scale(10.4,21.1)"/>
<use href="#pk3" transform="translate(1028.2,1000.4) scale(10.2,23.0)"/>
<use href="#pk4" transform="translate(1045.2,996.8) scale(11.7,29.2)"/>
<use href="#pk2" transform="translate(838.3,1053.9) scale(11.3,18.7)"/>
<use href="#pk3" transform="translate(849.5,1050.9) scale(11.1,22.1)"/>
<use href="#pk2" transform="translate(948.8,1023.9) scale(8.6,17.7)"/>
<use href="#pk2" transform="translate(811.1,1061.5) scale(11.5,21.0)"/>
<use href="#pk2" transform="translate(930.7,1029.1) scale(12.3,18.1)"/>
<use href="#pk3" transform="translate(787.4,1068.5) scale(13.4,23.0)"/>
<use href="#pk2" transform="translate(1068.2,992.3) scale(12.3,20.6)"/>
<use href="#pk3" transform="translate(849.9,1052.2) scale(13.8,27.0)"/>
<use href="#pk4" transform="translate(956.1,1023.5) scale(10.6,27.6)"/>
<use href="#pk4" transform="translate(887.8,1042.3) scale(13.6,27.2)"/>
<use href="#pk1" transform="translate(1047.5,999.3) scale(9.8,17.2)"/>
<use href="#pk2" transform="translate(921.6,1034.1) scale(9.9,19.2)"/>
<use href="#pk4" transform="translate(1029.7,1004.9) scale(12.1,30.1)"/>
<use href="#pk2" transform="translate(1026.9,1007.4) scale(13.0,20.9)"/>
<use href="#pk2" transform="translate(799.9,1070.4) scale(11.7,19.3)"/>
<use href="#pk4" transform="translate(979.3,1021.3) scale(13.5,29.6)"/>
<use href="#pk2" transform="translate(900.7,1042.9) scale(9.9,18.7)"/>
<use href="#pk1" transform="translate(829.3,1063.0) scale(11.3,16.9)"/>
<use href="#pk1" transform="translate(814.3,1067.8) scale(9.0,15.2)"/>
<use href="#pk4" transform="translate(998.3,1017.5) scale(12.5,33.4)"/>
<use href="#pk3" transform="translate(990.8,1020.3) scale(13.0,23.6)"/>
<use href="#pk4" transform="translate(1013.1,1014.8) scale(15.2,31.0)"/>
<use href="#pk3" transform="translate(1071.7,999.8) scale(12.2,25.4)"/>
<use href="#pk4" transform="translate(939.2,1036.9) scale(12.7,28.8)"/>
<use href="#pk3" transform="translate(1073.1,1000.0) scale(11.8,26.9)"/>
<use href="#pk3" transform="translate(881.0,1053.2) scale(9.7,22.9)"/>
<use href="#pk4" transform="translate(958.9,1032.2) scale(13.4,30.5)"/>
<use href="#pk1" transform="translate(850.4,1062.8) scale(10.7,15.5)"/>
<use href="#pk1" transform="translate(866.4,1059.0) scale(8.2,14.3)"/>
<use href="#pk4" transform="translate(1020.4,1016.5) scale(12.0,32.4)"/>
<use href="#pk2" transform="translate(917.2,1045.1) scale(9.9,18.6)"/>
<use href="#pk3" transform="translate(916.8,1045.4) scale(13.2,22.7)"/>
<use href="#pk2" transform="translate(980.6,1027.9) scale(12.3,20.0)"/>
<use href="#pk2" transform="translate(992.4,1024.9) scale(10.4,22.0)"/>
<use href="#pk4" transform="translate(844.6,1067.1) scale(11.4,28.4)"/>
<use href="#pk4" transform="translate(827.7,1072.7) scale(12.1,35.3)"/>
<use href="#pk0" transform="translate(807.5,1078.3) scale(7.8,9.7)"/>
<use href="#pk1" transform="translate(1086.5,1001.0) scale(9.5,17.6)"/>
<use href="#pk1" transform="translate(898.0,1053.2) scale(9.4,16.2)"/>
<use href="#pk1" transform="translate(868.3,1063.9) scale(8.6,13.2)"/>
<use href="#pk0" transform="translate(1070.4,1008.0) scale(10.3,12.1)"/>
<use href="#pk2" transform="translate(1002.9,1026.9) scale(9.2,21.0)"/>
<use href="#pk3" transform="translate(904.3,1054.4) scale(12.7,22.5)"/>
<use href="#pk3" transform="translate(955.3,1040.6) scale(12.7,23.6)"/>
<use href="#pk3" transform="translate(1081.2,1006.1) scale(10.3,22.8)"/>
<use href="#pk1" transform="translate(886.1,1060.9) scale(10.0,17.6)"/>
<use href="#pk3" transform="translate(939.2,1047.6) scale(12.1,22.9)"/>
<use href="#pk4" transform="translate(1049.3,1017.0) scale(15.2,30.9)"/>
<use href="#pk2" transform="translate(1056.6,1015.3) scale(9.7,22.5)"/>
<use href="#pk1" transform="translate(965.6,1040.9) scale(11.4,15.5)"/>
<use href="#pk3" transform="translate(1024.5,1025.1) scale(10.5,22.8)"/>
<use href="#pk2" transform="translate(798.1,1088.4) scale(11.8,17.9)"/>
<use href="#pk4" transform="translate(946.4,1047.1) scale(14.1,34.6)"/>
<use href="#pk0" transform="translate(885.9,1064.3) scale(8.4,7.0)"/>
<use href="#pk1" transform="translate(951.7,1046.6) scale(8.7,13.9)"/>
<use href="#pk1" transform="translate(806.6,1087.2) scale(9.9,17.3)"/>
<use href="#pk2" transform="translate(824.7,1082.9) scale(11.7,19.3)"/>
<use href="#pk3" transform="translate(857.1,1073.9) scale(12.4,24.2)"/>
<use href="#pk1" transform="translate(872.3,1069.9) scale(9.0,15.1)"/>
<use href="#pk2" transform="translate(1091.4,1009.1) scale(10.3,22.1)"/>
<use href="#pk1" transform="translate(1053.9,1020.8) scale(9.8,15.6)"/>
<use href="#pk3" transform="translate(902.7,1063.7) scale(9.4,23.6)"/>
<use href="#pk1" transform="translate(922.9,1058.1) scale(11.0,17.6)"/>
<use href="#pk3" transform="translate(978.3,1043.0) scale(13.5,24.0)"/>
<use href="#pk1" transform="translate(1012.8,1034.4) scale(8.8,17.2)"/>
<use href="#pk2" transform="translate(818.3,1089.2) scale(9.3,21.1)"/>
<use href="#pk2" transform="translate(1048.1,1025.1) scale(12.2,20.3)"/>
<use href="#pk0" transform="translate(1029.8,1030.3) scale(9.7,7.2)"/>
<use href="#pk1" transform="translate(1074.7,1017.8) scale(12.0,16.2)"/>
<use href="#pk0" transform="translate(880.4,1072.6) scale(9.7,12.1)"/>
<use href="#pk2" transform="translate(933.4,1058.5) scale(12.9,18.9)"/>
<use href="#pk2" transform="translate(840.4,1085.7) scale(12.7,20.3)"/>
<use href="#pk2" transform="translate(846.7,1084.3) scale(10.6,22.6)"/>
<use href="#pk2" transform="translate(996.7,1042.2) scale(10.7,21.3)"/>
<use href="#pk1" transform="translate(1026.8,1035.4) scale(8.5,15.9)"/>
<use href="#pk3" transform="translate(829.1,1091.4) scale(12.0,24.8)"/>
<use href="#pk0" transform="translate(891.2,1073.9) scale(10.2,11.3)"/>
<use href="#pk1" transform="translate(944.6,1059.0) scale(11.0,17.6)"/>
<use href="#pk0" transform="translate(864.6,1081.8) scale(9.8,11.2)"/>
<use href="#pk2" transform="translate(1008.0,1041.2) scale(13.0,20.3)"/>
<use href="#pk1" transform="translate(1088.0,1018.8) scale(12.3,17.0)"/>
<use href="#pk1" transform="translate(958.8,1056.1) scale(9.3,14.3)"/>
<use href="#pk3" transform="translate(973.2,1052.3) scale(9.5,23.2)"/>
<use href="#pk1" transform="translate(1063.6,1028.4) scale(8.8,15.8)"/>
<use href="#pk1" transform="translate(1087.2,1021.8) scale(12.6,17.2)"/>
<use href="#pk3" transform="translate(853.7,1088.5) scale(10.6,23.7)"/>
<use href="#pk0" transform="translate(1020.5,1041.6) scale(11.3,10.6)"/>
<use href="#pk3" transform="translate(925.4,1068.6) scale(13.1,27.9)"/>
<use href="#pk2" transform="translate(871.2,1084.7) scale(9.1,20.9)"/>
<use href="#pk1" transform="translate(1071.9,1028.0) scale(10.1,14.4)"/>
<use href="#pk1" transform="translate(979.9,1055.4) scale(9.0,14.4)"/>
<use href="#pk2" transform="translate(975.3,1058.7) scale(10.2,19.0)"/>
<use href="#pk1" transform="translate(995.6,1052.9) scale(10.1,17.4)"/>
<use href="#pk3" transform="translate(937.6,1070.2) scale(10.6,25.1)"/>
<use href="#pk0" transform="translate(1055.4,1037.2) scale(8.0,13.0)"/>
<use href="#pk1" transform="translate(912.4,1078.4) scale(8.9,17.8)"/>
<use href="#pk2" transform="translate(843.2,1098.2) scale(13.7,22.6)"/>
<use href="#pk0" transform="translate(892.8,1084.3) scale(8.6,7.1)"/>
<use href="#pk1" transform="translate(1099.8,1025.4) scale(10.8,17.5)"/>
<use href="#pk1" transform="translate(1075.6,1032.4) scale(8.6,14.3)"/>
<use href="#pk1" transform="translate(1035.8,1043.8) scale(10.6,17.0)"/>
<use href="#pk3" transform="translate(933.1,1073.6) scale(13.1,23.5)"/>
<use href="#pk1" transform="translate(1048.1,1040.9) scale(11.9,14.3)"/>
<use href="#pk1" transform="translate(884.0,1087.9) scale(9.4,15.9)"/>
<use href="#pk0" transform="translate(1110.6,1023.4) scale(11.7,11.9)"/>
<use href="#pk1" transform="translate(960.9,1066.1) scale(11.8,17.3)"/>
<use href="#pk0" transform="translate(1058.6,1038.3) scale(8.9,10.7)"/>
<use href="#pk0" transform="translate(822.2,1106.1) scale(8.3,11.7)"/>
<use href="#pk3" transform="translate(1042.3,1043.3) scale(10.5,23.1)"/>
<use href="#pk4" transform="translate(996.1,1056.7) scale(11.2,28.8)"/>
<use href="#pk0" transform="translate(1017.4,1051.1) scale(8.2,10.7)"/>
<use href="#pk0" transform="translate(919.4,1080.0) scale(10.3,12.2)"/>
<use href="#pk1" transform="translate(982.2,1062.8) scale(11.7,14.0)"/>
<use href="#pk2" transform="translate(1119.7,1024.7) scale(10.9,18.4)"/>
<use href="#pk2" transform="translate(971.0,1067.9) scale(12.2,18.8)"/>
<use href="#pk1" transform="translate(1095.6,1032.2) scale(12.5,18.1)"/>
<use href="#pk1" transform="translate(1016.4,1055.5) scale(12.5,15.4)"/>
<use href="#pk1" transform="translate(832.7,1110.6) scale(10.5,15.2)"/>
<use href="#pk2" transform="translate(903.6,1090.9) scale(11.5,18.3)"/>
<use href="#pk2" transform="translate(915.9,1087.9) scale(12.1,20.3)"/>
<use href="#pk2" transform="translate(946.5,1079.7) scale(13.2,20.6)"/>
<use href="#pk0" transform="translate(848.2,1108.1) scale(10.4,11.3)"/>
<use href="#pk2" transform="translate(824.4,1115.6) scale(12.1,18.8)"/>
<use href="#pk0" transform="translate(960.8,1076.2) scale(9.7,9.4)"/>
<use href="#pk0" transform="translate(873.7,1102.3) scale(10.2,7.2)"/>
<use href="#pk1" transform="translate(1126.6,1029.4) scale(12.1,16.4)"/>
<use href="#pk4" transform="translate(888.6,1098.3) scale(10.8,28.6)"/>
<use href="#pk0" transform="translate(879.2,1101.3) scale(10.7,7.2)"/>
<use href="#pk0" transform="translate(864.9,1105.6) scale(9.5,11.9)"/>
<use href="#pk2" transform="translate(1110.6,1034.9) scale(12.0,20.3)"/>
<use href="#pk2" transform="translate(1014.6,1063.4) scale(13.2,22.7)"/>
<use href="#pk2" transform="translate(991.2,1071.6) scale(9.4,20.7)"/>
<use href="#pk0" transform="translate(908.1,1096.4) scale(10.3,11.0)"/>
<use href="#pk0" transform="translate(1024.8,1063.4) scale(10.3,10.1)"/>
<use href="#pk0" transform="translate(1077.7,1048.2) scale(10.4,13.0)"/>
<use href="#pk1" transform="translate(1072.0,1050.0) scale(10.6,15.5)"/>
<use href="#pk2" transform="translate(1001.5,1071.4) scale(12.6,22.5)"/>
<use href="#pk2" transform="translate(952.7,1085.6) scale(11.1,20.4)"/>
<use href="#pk1" transform="translate(961.1,1083.7) scale(10.7,15.9)"/>
<use href="#pk1" transform="translate(930.6,1092.6) scale(12.4,17.7)"/>
<use href="#pk0" transform="translate(1061.7,1055.5) scale(10.4,8.3)"/>
<use href="#pk0" transform="translate(895.8,1103.8) scale(10.5,12.0)"/>
<use href="#pk3" transform="translate(859.3,1114.7) scale(14.5,25.5)"/>
<use href="#pk0" transform="translate(936.6,1092.5) scale(10.4,10.8)"/>
<use href="#pk3" transform="translate(830.9,1123.6) scale(13.6,26.2)"/>
<use href="#pk1" transform="translate(980.9,1080.8) scale(11.4,18.0)"/>
<use href="#pk0" transform="translate(1106.2,1044.6) scale(9.7,8.5)"/>
<use href="#pk1" transform="translate(1045.5,1062.5) scale(11.5,14.6)"/>
<use href="#pk0" transform="translate(1073.9,1054.8) scale(11.4,11.8)"/>
<use href="#pk3" transform="translate(858.1,1118.1) scale(12.9,28.8)"/>
<use href="#pk1" transform="translate(847.6,1121.4) scale(8.8,16.2)"/>
<use href="#pk0" transform="translate(1045.1,1064.3) scale(8.9,8.1)"/>
<use href="#pk0" transform="translate(1093.9,1050.2) scale(9.0,9.9)"/>
<use href="#pk0" transform="translate(941.8,1096.1) scale(10.9,9.4)"/>
<use href="#pk3" transform="translate(888.3,1111.9) scale(14.1,28.8)"/>
<use href="#pk1" transform="translate(965.6,1089.8) scale(11.2,14.2)"/>
<use href="#pk1" transform="translate(973.9,1088.4) scale(12.1,16.2)"/>
<use href="#pk0" transform="translate(945.8,1096.7) scale(9.7,9.1)"/>
<use href="#pk1" transform="translate(1036.4,1070.3) scale(10.6,15.7)"/>
<use href="#pk2" transform="translate(848.4,1126.2) scale(9.6,22.3)"/>
<use href="#pk3" transform="translate(899.9,1111.6) scale(12.2,27.4)"/>
<use href="#pk2" transform="translate(1133.1,1044.0) scale(12.8,20.7)"/>
<use href="#pk0" transform="translate(1104.7,1053.1) scale(8.4,9.7)"/>
<use href="#pk0" transform="translate(1111.9,1051.1) scale(9.3,7.3)"/>
<use href="#pk2" transform="translate(1023.7,1077.4) scale(10.3,19.2)"/>
<use href="#pk3" transform="translate(876.5,1121.1) scale(11.2,26.9)"/>
<use href="#pk0" transform="translate(1128.1,1048.0) scale(9.1,12.0)"/>
<use href="#pk0" transform="translate(1058.6,1068.5) scale(8.9,10.8)"/>
<use href="#pk1" transform="translate(934.1,1105.1) scale(11.3,13.7)"/>
<use href="#pk0" transform="translate(1077.9,1063.3) scale(9.0,11.6)"/>
<use href="#pk3" transform="translate(929.1,1107.6) scale(14.7,26.8)"/>
<use href="#pk0" transform="translate(992.4,1090.2) scale(8.2,11.4)"/>
<use href="#pk2" transform="translate(1028.1,1079.8) scale(14.2,23.1)"/>
<use href="#pk1" transform="translate(919.4,1111.8) scale(12.2,16.3)"/>
<use href="#pk2" transform="translate(1046.5,1074.5) scale(13.9,23.4)"/>
<use href="#pk4" transform="translate(844.5,1134.2) scale(12.3,34.5)"/>
<use href="#pk3" transform="translate(870.0,1126.7) scale(9.9,25.7)"/>
<use href="#pk2" transform="translate(1010.6,1085.3) scale(13.2,22.9)"/>
<use href="#pk1" transform="translate(1078.1,1066.5) scale(11.3,18.5)"/>
<use href="#pk2" transform="translate(1020.4,1083.7) scale(10.1,21.4)"/>
<use href="#pk2" transform="translate(843.0,1136.4) scale(13.2,19.8)"/>
<use href="#pk2" transform="translate(1006.0,1088.9) scale(10.9,22.4)"/>
<use href="#pk4" transform="translate(884.8,1125.0) scale(11.4,30.0)"/>
<use href="#pk2" transform="translate(964.9,1102.1) scale(12.7,19.6)"/>
<use href="#pk0" transform="translate(975.4,1099.7) scale(11.2,13.3)"/>
<use href="#pk1" transform="translate(1067.2,1073.0) scale(9.5,16.9)"/>
</g>
<line x1="702.5" y1="982.5" x2="812.5" y2="1177.5" stroke="#333" stroke-width="1.5"/>
<line x1="812.5" y1="1177.5" x2="1155.0" y2="1072.5" stroke="#333" stroke-width="1.5"/>
<line x1="1155.0" y1="1072.5" x2="1155.0" y2="1010.0" stroke="#333" stroke-width="1.5"/>
<line x1="702.5" y1="982.5" x2="696.0" y2="982.5" stroke="#333" stroke-width="1.2"/>
<line x1="757.0" y1="1080.0" x2="751.0" y2="1080.0" stroke="#333" stroke-width="1.2"/>
<line x1="812.5" y1="1177.5" x2="806.0" y2="1177.5" stroke="#333" stroke-width="1.2"/>
<line x1="984.0" y1="1125.0" x2="984.0" y2="1131.0" stroke="#333" stroke-width="1.2"/>
<line x1="1155.0" y1="1010.0" x2="1160.0" y2="1008.0" stroke="#333" stroke-width="1.2"/>
<line x1="1155.0" y1="1041.0" x2="1160.0" y2="1040.0" stroke="#333" stroke-width="1.2"/>
<text x="672.5" y="896.0" font-size="20" textLength="26" lengthAdjust="spacingAndGlyphs" fill="#383838">(g)</text>
<text x="697.5" y="992.5" font-size="22" text-anchor="end" fill="#383838">500</text>
<text x="735.0" y="1087.5" font-size="22" text-anchor="end" fill="#383838">250</text>
<text x="665.0" y="1150.0" font-size="22" textLength="60" lengthAdjust="spacingAndGlyphs" fill="#383838">Y, nm</text>
<text x="820.0" y="1205.0" font-size="22" text-anchor="middle" fill="#383838">0</text>
<text x="1005.0" y="1156.0" font-size="22" text-anchor="middle" fill="#383838">250</text>
<text x="1055.0" y="1190.0" font-size="22" textLength="62.5" lengthAdjust="spacingAndGlyphs" fill="#383838">X, nm</text>
<text x="1155.0" y="1102.5" font-size="22" textLength="40" lengthAdjust="spacingAndGlyphs" fill="#383838">500</text>
<text x="1137.5" y="945.0" font-size="22" textLength="62.5" lengthAdjust="spacingAndGlyphs" fill="#383838">Z, nm</text>
<text x="1180.0" y="1032.5" font-size="22" textLength="27.5" lengthAdjust="spacingAndGlyphs" fill="#383838">20</text>
<radialGradient id="hg1" cx="0.5" cy="0.5" r="0.5"><stop offset="0" stop-color="#ffffff"/><stop offset="0.3" stop-color="#fff0fa"/><stop offset="0.46" stop-color="#f490dc"/><stop offset="0.6" stop-color="#cc38b8"/><stop offset="0.74" stop-color="#681a78"/><stop offset="0.87" stop-color="#240828"/><stop offset="1" stop-color="#100010" stop-opacity="0"/></radialGradient>
<filter id="speck" x="0" y="0" width="1" height="1" color-interpolation-filters="sRGB"><feTurbulence type="fractalNoise" baseFrequency="0.22" numOctaves="2" seed="4"/><feColorMatrix type="matrix" values="0 0 0 0 0  0 0 0 0 0  0 0 0 0 0  3.0 0 0 0 -1.42"/><feGaussianBlur stdDeviation="0.9"/></filter>
<filter id="speck2" x="0" y="0" width="1" height="1" color-interpolation-filters="sRGB"><feTurbulence type="fractalNoise" baseFrequency="0.28" numOctaves="1" seed="11"/><feColorMatrix type="matrix" values="0 0 0 0 0.35  0 0 0 0 0.3  0 0 0 0 0.85  8 0 0 0 -4.4"/></filter>
<radialGradient id="hmw"><stop offset="0" stop-color="#fff" stop-opacity="0.85"/><stop offset="0.6" stop-color="#fff" stop-opacity="0.5"/><stop offset="1" stop-color="#fff" stop-opacity="0"/></radialGradient>
<mask id="hm" maskUnits="userSpaceOnUse" x="30" y="1290" width="570" height="280"><rect x="30" y="1290" width="570" height="280" fill="#fff"/><rect x="30" y="1290" width="570" height="280" fill="#000" filter="url(#speck)"/><ellipse cx="165" cy="1426" rx="50" ry="52" fill="url(#hmw)"/><ellipse cx="461" cy="1424" rx="46" ry="52" fill="url(#hmw)" transform="rotate(38 461 1424)"/></mask>
<circle cx="164" cy="1427.3" r="126.5" fill="#060006"/>
<circle cx="464.4" cy="1426.3" r="125" fill="#060006"/>
<radialGradient id="hg0"><stop offset="0" stop-color="#7a2a88" stop-opacity="0.6"/><stop offset="0.6" stop-color="#4a1850" stop-opacity="0.45"/><stop offset="1" stop-color="#200820" stop-opacity="0"/></radialGradient>
<g mask="url(#hm)">
<ellipse cx="165" cy="1426" rx="100" ry="108" fill="url(#hg0)"/>
<ellipse cx="461" cy="1424" rx="92" ry="108" fill="url(#hg0)" transform="rotate(38 461 1424)"/>
<ellipse cx="165" cy="1426" rx="66" ry="80" fill="url(#hg1)"/>
<ellipse cx="461" cy="1424" rx="58" ry="82" fill="url(#hg1)" transform="rotate(38 461 1424)"/>
</g>
<clipPath id="hc"><ellipse cx="165" cy="1426" rx="40" ry="42"/><ellipse cx="461" cy="1424" rx="36" ry="40"/></clipPath>
<rect x="30" y="1290" width="570" height="280" filter="url(#speck2)" clip-path="url(#hc)" opacity="0.35"/>
<line x1="164.6" y1="1340.0" x2="164.6" y2="1515.0" stroke="#2a1028" stroke-width="2.2"/>
<line x1="463.0" y1="1345.0" x2="463.0" y2="1505.0" stroke="#2a1028" stroke-width="2"/>
<text x="311.5" y="1308.0" font-size="22" textLength="35" lengthAdjust="spacingAndGlyphs" fill="#383838">(h)</text>
<path d="M720.5,1516.5 L788.3,1512.0 L855.0,1475.5 L921.7,1430.0 L988.0,1375.0 L1054.0,1327.4 L1121.0,1306.0 L1187.6,1298.8 L1252.0,1296.0" stroke="#1a1a2a" stroke-width="1.8" fill="none" stroke-linejoin="round"/>
<path d="M720.5,1514.6 L788.3,1503.8 L855.0,1476.0 L921.7,1427.0 L988.0,1368.0 L1054.0,1320.4 L1121.0,1297.8 L1187.6,1289.7 L1252.0,1286.0" stroke="#2a2ab0" stroke-width="1.8" fill="none" stroke-linejoin="round"/>
<rect x="716.7" y="1510.8" width="7.6" height="7.6" fill="#2424a8"/>
<rect x="784.5" y="1500.0" width="7.6" height="7.6" fill="#2424a8"/>
<rect x="851.2" y="1472.2" width="7.6" height="7.6" fill="#2424a8"/>
<rect x="917.9" y="1423.2" width="7.6" height="7.6" fill="#2424a8"/>
<rect x="984.2" y="1364.2" width="7.6" height="7.6" fill="#2424a8"/>
<rect x="1050.2" y="1316.6" width="7.6" height="7.6" fill="#2424a8"/>
<rect x="1117.2" y="1294.0" width="7.6" height="7.6" fill="#2424a8"/>
<rect x="1183.8" y="1285.9" width="7.6" height="7.6" fill="#2424a8"/>
<rect x="1248.2" y="1282.2" width="7.6" height="7.6" fill="#2424a8"/>
<rect x="715.7" y="1511.7" width="9.6" height="9.6" fill="#111"/>
<rect x="783.5" y="1507.2" width="9.6" height="9.6" fill="#111"/>
<rect x="850.2" y="1470.7" width="9.6" height="9.6" fill="#111"/>
<rect x="916.9" y="1425.2" width="9.6" height="9.6" fill="#111"/>
<rect x="983.2" y="1370.2" width="9.6" height="9.6" fill="#111"/>
<rect x="1049.2" y="1322.6" width="9.6" height="9.6" fill="#111"/>
<rect x="1116.2" y="1301.2" width="9.6" height="9.6" fill="#111"/>
<rect x="1182.8" y="1294.0" width="9.6" height="9.6" fill="#111"/>
<rect x="1247.2" y="1291.2" width="9.6" height="9.6" fill="#111"/>
<path d="M678.3,1279.7 L1254.5,1279.7 L1254.5,1532 L678.3,1532 Z" fill="none" stroke="#555" stroke-width="2"/>
<line x1="672.3" y1="1532.0" x2="678.3" y2="1532.0" stroke="#555" stroke-width="1.5"/>
<text x="668.0" y="1540.0" font-size="20.5" text-anchor="end" textLength="38.5" lengthAdjust="spacingAndGlyphs" fill="#444">11.0</text>
<line x1="672.3" y1="1483.8" x2="678.3" y2="1483.8" stroke="#555" stroke-width="1.5"/>
<text x="668.0" y="1491.8" font-size="20.5" text-anchor="end" textLength="38.5" lengthAdjust="spacingAndGlyphs" fill="#444">11.5</text>
<line x1="672.3" y1="1435.6" x2="678.3" y2="1435.6" stroke="#555" stroke-width="1.5"/>
<text x="668.0" y="1443.6" font-size="20.5" text-anchor="end" textLength="38.5" lengthAdjust="spacingAndGlyphs" fill="#444">12.0</text>
<line x1="672.3" y1="1387.4" x2="678.3" y2="1387.4" stroke="#555" stroke-width="1.5"/>
<text x="668.0" y="1395.4" font-size="20.5" text-anchor="end" textLength="38.5" lengthAdjust="spacingAndGlyphs" fill="#444">12.5</text>
<line x1="672.3" y1="1339.2" x2="678.3" y2="1339.2" stroke="#555" stroke-width="1.5"/>
<text x="668.0" y="1347.2" font-size="20.5" text-anchor="end" textLength="38.5" lengthAdjust="spacingAndGlyphs" fill="#444">13.0</text>
<line x1="672.3" y1="1291.0" x2="678.3" y2="1291.0" stroke="#555" stroke-width="1.5"/>
<text x="668.0" y="1299.0" font-size="20.5" text-anchor="end" textLength="38.5" lengthAdjust="spacingAndGlyphs" fill="#444">13.5</text>
<line x1="678.3" y1="1532.0" x2="678.3" y2="1538.0" stroke="#555" stroke-width="1.5"/>
<text x="677.3" y="1556.5" font-size="20" text-anchor="middle" fill="#444">−6</text>
<line x1="774.3" y1="1532.0" x2="774.3" y2="1538.0" stroke="#555" stroke-width="1.5"/>
<text x="773.3" y="1556.5" font-size="20" text-anchor="middle" fill="#444">−5</text>
<line x1="870.4" y1="1532.0" x2="870.4" y2="1538.0" stroke="#555" stroke-width="1.5"/>
<text x="869.4" y="1556.5" font-size="20" text-anchor="middle" fill="#444">−4</text>
<line x1="966.4" y1="1532.0" x2="966.4" y2="1538.0" stroke="#555" stroke-width="1.5"/>
<text x="965.4" y="1556.5" font-size="20" text-anchor="middle" fill="#444">−3</text>
<line x1="1062.4" y1="1532.0" x2="1062.4" y2="1538.0" stroke="#555" stroke-width="1.5"/>
<text x="1061.4" y="1556.5" font-size="20" text-anchor="middle" fill="#444">−2</text>
<line x1="1158.4" y1="1532.0" x2="1158.4" y2="1538.0" stroke="#555" stroke-width="1.5"/>
<text x="1157.4" y="1556.5" font-size="20" text-anchor="middle" fill="#444">−1</text>
<line x1="1254.5" y1="1532.0" x2="1254.5" y2="1538.0" stroke="#555" stroke-width="1.5"/>
<text x="1253.5" y="1556.5" font-size="20" text-anchor="middle" fill="#444">0</text>
<text x="967.6" y="1578.0" font-size="20" text-anchor="middle" fill="#444">log h</text>
<text x="615.0" y="1338.0" font-size="18" text-anchor="middle" textLength="56" lengthAdjust="spacingAndGlyphs" fill="#444" transform="rotate(-90 615.0 1338.0)">Log Ψ</text>
<text x="692.9" y="1319.6" font-size="20" textLength="17" lengthAdjust="spacingAndGlyphs" fill="#555">(i)</text>
<text x="761.3" y="1326.9" font-size="20" textLength="205" lengthAdjust="spacingAndGlyphs" fill="#4848a8">Behind the Mach disc</text>
<text x="812.0" y="1352.8" font-size="20" textLength="104" lengthAdjust="spacingAndGlyphs" fill="#4848a8">(z=14 mm)</text>
<text x="1025.8" y="1376.0" font-size="20" textLength="202" lengthAdjust="spacingAndGlyphs" fill="#3a3a3a">Before the Mach disc</text>
<text x="1074.0" y="1401.3" font-size="20" textLength="105.5" lengthAdjust="spacingAndGlyphs" fill="#3a3a3a">(z = 9 mm)</text>
<line x1="28.0" y1="468.7" x2="1259.2" y2="468.7" stroke="#f6d4d8" stroke-width="2"/>
<line x1="28.0" y1="470.9" x2="1259.2" y2="470.9" stroke="#b07a80" stroke-width="2.2"/>
<line x1="28.0" y1="473.1" x2="1259.2" y2="473.1" stroke="#f8dcde" stroke-width="2"/>
<line x1="28.0" y1="854.0" x2="1258.0" y2="854.0" stroke="#f6d4d8" stroke-width="2"/>
<line x1="28.0" y1="856.2" x2="1258.0" y2="856.2" stroke="#b07a80" stroke-width="2.2"/>
<line x1="28.0" y1="858.4" x2="1258.0" y2="858.4" stroke="#f8dcde" stroke-width="2"/>
<line x1="28.0" y1="1248.5" x2="1258.0" y2="1248.5" stroke="#f6d4d8" stroke-width="2"/>
<line x1="28.0" y1="1250.7" x2="1258.0" y2="1250.7" stroke="#b07a80" stroke-width="2.2"/>
<line x1="28.0" y1="1252.9" x2="1258.0" y2="1252.9" stroke="#f8dcde" stroke-width="2"/>
</svg></body></html>
